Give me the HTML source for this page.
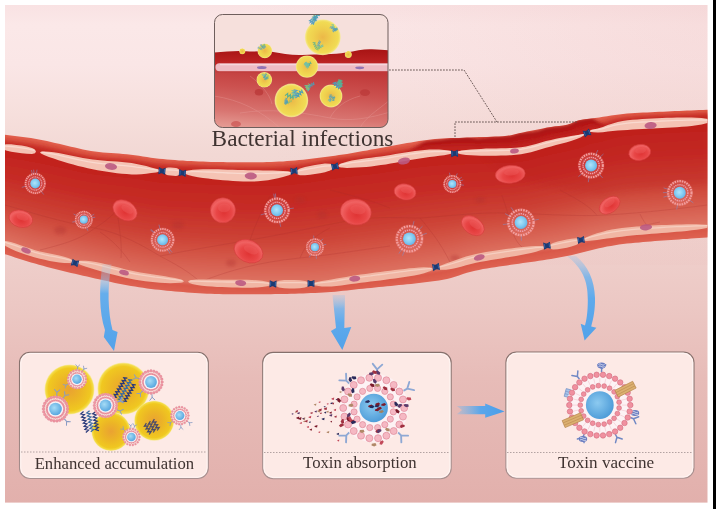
<!DOCTYPE html>
<html><head><meta charset="utf-8">
<style>
html,body{margin:0;padding:0;background:#fff;width:716px;height:509px;overflow:hidden}
svg{display:block}
text{font-family:"Liberation Serif",serif;fill:#3c302e}
.txt{opacity:0.98}
</style></head>
<body>
<svg width="716" height="509" viewBox="0 0 716 509">
<defs>
<linearGradient id="gBg" x1="0" y1="0" x2="0" y2="1">
<stop offset="0" stop-color="#f9e2e3"/>
<stop offset="0.04" stop-color="#fbe8e8"/>
<stop offset="0.12" stop-color="#fae6e6"/>
<stop offset="0.22" stop-color="#f6dfdc"/>
<stop offset="0.3" stop-color="#f2d8d4"/>
<stop offset="0.45" stop-color="#f0d2ce"/>
<stop offset="0.6" stop-color="#ecc8c4"/>
<stop offset="0.75" stop-color="#e7bcb8"/>
<stop offset="1" stop-color="#e2b0ac"/>
</linearGradient>
<linearGradient id="gTopBand" x1="0" y1="0" x2="0" y2="1">
<stop offset="0" stop-color="#d2473d"/>
<stop offset="1" stop-color="#c02c28"/>
</linearGradient>
<linearGradient id="gEndoT" x1="0" y1="0" x2="0" y2="1">
<stop offset="0" stop-color="#f4c6ba"/>
<stop offset="1" stop-color="#eeb0a4"/>
</linearGradient>
<linearGradient id="gLumen" x1="0" y1="0" x2="0" y2="1">
<stop offset="0" stop-color="#b92522"/>
<stop offset="0.3" stop-color="#c43630"/>
<stop offset="0.6" stop-color="#d05448"/>
<stop offset="1" stop-color="#de7a6a"/>
</linearGradient>
<linearGradient id="gInsetTissue" x1="0.2" y1="0" x2="0" y2="1">
<stop offset="0" stop-color="#c03838"/>
<stop offset="0.35" stop-color="#cc5250"/>
<stop offset="0.7" stop-color="#d87470"/>
<stop offset="1" stop-color="#e8a49c"/>
</linearGradient>
<linearGradient id="gInsetBand" x1="0" y1="0" x2="0" y2="1">
<stop offset="0" stop-color="#a81414"/>
<stop offset="0.7" stop-color="#b82020"/>
<stop offset="1" stop-color="#c02a2a"/>
</linearGradient>
<radialGradient id="gBact" cx="0.5" cy="0.5" r="0.5">
<stop offset="0" stop-color="#eaa232"/>
<stop offset="0.45" stop-color="#ecb526"/>
<stop offset="0.85" stop-color="#f0c820"/>
<stop offset="0.95" stop-color="#f4dc48"/>
<stop offset="1" stop-color="#f6e88a" stop-opacity="0.6"/>
</radialGradient>
<linearGradient id="gArrowV" x1="0" y1="0" x2="0" y2="1">
<stop offset="0" stop-color="#90c0ea" stop-opacity="0.25"/>
<stop offset="0.25" stop-color="#70b2ec" stop-opacity="0.85"/>
<stop offset="0.5" stop-color="#5eaaec"/>
<stop offset="1" stop-color="#52a2ea"/>
</linearGradient>
<linearGradient id="gArrowH" x1="0" y1="0" x2="1" y2="0">
<stop offset="0" stop-color="#7ab6e8" stop-opacity="0.3"/>
<stop offset="0.5" stop-color="#5aa6ea"/>
<stop offset="1" stop-color="#4a9eea"/>
</linearGradient>
<radialGradient id="gCore" cx="0.4" cy="0.4" r="0.6">
<stop offset="0" stop-color="#a6dcf6"/>
<stop offset="1" stop-color="#5aa8e0"/>
</radialGradient>
<radialGradient id="gRBC" cx="0.55" cy="0.6" r="0.55">
<stop offset="0" stop-color="#e03434"/>
<stop offset="0.55" stop-color="#e84646"/>
<stop offset="0.9" stop-color="#f06262"/>
<stop offset="1" stop-color="#ec5858"/>
</radialGradient>
<radialGradient id="gCoreV" cx="0.45" cy="0.45" r="0.55">
<stop offset="0" stop-color="#b0e4fa"/>
<stop offset="0.6" stop-color="#84ccf2"/>
<stop offset="1" stop-color="#6ab4e6"/>
</radialGradient>
<radialGradient id="gCore2" cx="0.42" cy="0.42" r="0.6">
<stop offset="0" stop-color="#8ccaf0"/>
<stop offset="1" stop-color="#4e9cd8"/>
</radialGradient>
<radialGradient id="gBactL" cx="0.5" cy="0.5" r="0.5">
<stop offset="0" stop-color="#ecb848"/>
<stop offset="0.5" stop-color="#efcf4e"/>
<stop offset="0.86" stop-color="#f1db54"/>
<stop offset="0.95" stop-color="#f4e47c"/>
<stop offset="1" stop-color="#f6eaa6" stop-opacity="0.7"/>
</radialGradient>
<linearGradient id="gArrowV1" x1="0" y1="0" x2="0" y2="1">
<stop offset="0" stop-color="#a8d0f0" stop-opacity="0.15"/>
<stop offset="0.2" stop-color="#88c0ee" stop-opacity="0.55"/>
<stop offset="0.34" stop-color="#66aeec"/>
<stop offset="1" stop-color="#52a2ea"/>
</linearGradient>
<linearGradient id="gBoxStroke" x1="0" y1="0" x2="0" y2="1">
<stop offset="0" stop-color="#85706c"/>
<stop offset="0.6" stop-color="#98827e"/>
<stop offset="1" stop-color="#a89090"/>
</linearGradient>
<radialGradient id="gBgTR" gradientUnits="userSpaceOnUse" cx="707" cy="5" r="460">
<stop offset="0" stop-color="#e8b4b4" stop-opacity="0.22"/>
<stop offset="0.6" stop-color="#e8b4b4" stop-opacity="0.08"/>
<stop offset="1" stop-color="#e8b4b4" stop-opacity="0"/>
</radialGradient>
<clipPath id="cInset"><rect x="214.5" y="14.5" width="173.5" height="113" rx="8"/></clipPath>
</defs>

<!-- background -->
<rect x="5" y="5" width="702.5" height="497.6" fill="url(#gBg)"/>
<rect x="5" y="5" width="702.5" height="260" fill="url(#gBgTR)"/>
<rect x="713" y="0" width="3" height="509" fill="#000"/>

<clipPath id="cPage"><rect x="5" y="5" width="702.5" height="497.6"/></clipPath>
<g clip-path="url(#cPage)">
<!-- vessel -->
<defs><clipPath id="cVessel"><path d="M-9,134.5 -5,134.5 -1,134.5 3,134.5 7,135 11,135.5 15,136 19,136.5 23,137 27,137.5 31,138.1 35,138.7 39,139.4 43,140.2 47,141 51,141.9 55,142.9 59,143.8 63,144.8 67,145.8 71,146.7 75,147.6 79,148.5 83,149.4 87,150.2 91,150.9 95,151.5 99,152 103,152.4 107,152.7 111,153.1 115,153.3 119,153.6 123,153.9 127,154.3 131,154.7 135,155.2 139,155.8 143,156.5 147,157.1 151,157.7 155,158.2 159,158.7 163,159.1 167,159.4 171,159.8 175,160.1 179,160.4 183,160.6 187,160.9 191,161.1 195,161.3 199,161.5 203,161.6 207,161.7 211,161.9 215,162 219,162 223,162.1 227,162.2 231,162.2 235,162.3 239,162.3 243,162.3 247,162.3 251,162.3 255,162.3 259,162.2 263,162.2 267,162.1 271,162 275,161.8 279,161.6 283,161.4 287,161.1 291,160.8 295,160.5 299,160.1 303,159.7 307,159.2 311,158.8 315,158.3 319,157.8 323,157.3 327,156.8 331,156.3 335,155.7 339,155.1 343,154.6 347,153.9 351,153.3 355,152.6 359,151.8 363,151.1 367,150.4 371,149.6 375,148.9 379,148.2 383,147.5 387,146.8 391,146 395,145.3 399,144.5 403,143.8 407,143.1 411,142.4 415,141.7 419,141 423,140.4 427,139.9 431,139.4 435,139 439,138.7 443,138.4 447,138.2 451,138.1 455,137.9 459,137.9 463,137.7 467,137.6 471,137.5 475,137.3 479,137.1 483,137 487,136.9 491,136.7 495,136.6 499,136.4 503,136.2 507,135.8 511,135.2 515,134.2 519,133.2 523,132.4 527,131.6 531,130.8 535,130 539,129.2 543,128.4 547,127.6 551,126.9 555,126.3 559,125.9 563,125.4 567,124.8 571,123.6 575,121.4 579,120.3 583,119.6 587,119 591,118.5 595,118 599,117.4 603,116.8 607,116.2 611,115.5 615,114.9 619,114.4 623,114 627,113.6 631,113.3 635,113.1 639,112.8 643,112.6 647,112.4 651,112.2 655,112 659,111.8 663,111.7 667,111.5 671,111.3 675,111.1 679,111 683,110.8 687,110.6 691,110.4 695,110.3 699,110.1 703,109.9 707,109.7 711,109.6 715,109.6 719,109.6 719,237.2 715,237.2 711,237.2 707,237.4 703,237.7 699,238 695,238.3 691,238.6 687,238.9 683,239.1 679,239.4 675,239.7 671,239.9 667,240.2 663,240.5 659,240.8 655,241.1 651,241.4 647,241.7 643,242 639,242.4 635,242.8 631,243.2 627,243.6 623,244.1 619,244.6 615,245.2 611,245.9 607,246.6 603,247.4 599,248.3 595,249.2 591,250.2 587,251.3 583,252.3 579,253.3 575,254.3 571,255.2 567,256 563,256.8 559,257.6 555,258.3 551,258.9 547,259.6 543,260.2 539,260.8 535,261.4 531,261.9 527,262.5 523,263.1 519,263.7 515,264.2 511,264.8 507,265.4 503,266 499,266.6 495,267.2 491,267.8 487,268.5 483,269.1 479,269.9 475,270.7 471,271.7 467,272.8 463,274.1 459,275.5 455,276.8 451,278 447,278.9 443,279.7 439,280.4 435,281 431,281.5 427,282 423,282.5 419,283 415,283.4 411,283.9 407,284.3 403,284.7 399,285.1 395,285.5 391,285.9 387,286.3 383,286.7 379,287.1 375,287.5 371,287.9 367,288.3 363,288.7 359,289.1 355,289.5 351,290 347,290.4 343,290.8 339,291.3 335,291.7 331,292 327,292.3 323,292.5 319,292.8 315,292.9 311,293.1 307,293.3 303,293.4 299,293.6 295,293.7 291,293.8 287,293.9 283,294 279,294.1 275,294.1 271,294.2 267,294.2 263,294.3 259,294.3 255,294.3 251,294.3 247,294.3 243,294.3 239,294.3 235,294.3 231,294.3 227,294.2 223,294.2 219,294.1 215,294 211,293.8 207,293.7 203,293.5 199,293.2 195,293 191,292.7 187,292.4 183,292.1 179,291.8 175,291.4 171,291.1 167,290.7 163,290.3 159,289.8 155,289.4 151,288.9 147,288.4 143,287.8 139,287.3 135,286.6 131,286 127,285.3 123,284.5 119,283.7 115,282.9 111,282 107,281.1 103,280.2 99,279.3 95,278.4 91,277.5 87,276.6 83,275.7 79,274.8 75,273.8 71,272.9 67,271.9 63,270.9 59,270 55,268.9 51,267.9 47,266.9 43,265.8 39,264.7 35,263.6 31,262.4 27,261.2 23,259.9 19,258.7 15,257.4 11,256 7,254.8 3,253.5 -1,253.5 -5,253.5 -9,253.5Z"/></clipPath>
<filter id="fSoft" x="-5%" y="-5%" width="110%" height="110%"><feGaussianBlur stdDeviation="1.6"/></filter>
<filter id="fSoft2" x="-5%" y="-5%" width="110%" height="110%"><feGaussianBlur stdDeviation="3"/></filter></defs>
<g clip-path="url(#cVessel)">
<g filter="url(#fSoft)">
<path d="M-9,131.5 -5,131.5 -1,131.5 3,131.5 7,132 11,132.5 15,133 19,133.5 23,134 27,134.5 31,135.1 35,135.7 39,136.4 43,137.2 47,138 51,138.9 55,139.9 59,140.8 63,141.8 67,142.8 71,143.7 75,144.6 79,145.5 83,146.4 87,147.2 91,147.9 95,148.5 99,149 103,149.4 107,149.7 111,150.1 115,150.3 119,150.6 123,150.9 127,151.3 131,151.7 135,152.2 139,152.8 143,153.5 147,154.1 151,154.7 155,155.2 159,155.7 163,156.1 167,156.4 171,156.8 175,157.1 179,157.4 183,157.6 187,157.9 191,158.1 195,158.3 199,158.5 203,158.6 207,158.7 211,158.9 215,159 219,159 223,159.1 227,159.2 231,159.2 235,159.3 239,159.3 243,159.3 247,159.3 251,159.3 255,159.3 259,159.2 263,159.2 267,159.1 271,159 275,158.8 279,158.6 283,158.4 287,158.1 291,157.8 295,157.5 299,157.1 303,156.7 307,156.2 311,155.8 315,155.3 319,154.8 323,154.3 327,153.8 331,153.3 335,152.7 339,152.1 343,151.6 347,150.9 351,150.3 355,149.6 359,148.8 363,148.1 367,147.4 371,146.6 375,145.9 379,145.2 383,144.5 387,143.8 391,143 395,142.3 399,141.5 403,140.8 407,140.1 411,139.4 415,138.7 419,138 423,137.4 427,136.9 431,136.4 435,136 439,135.7 443,135.4 447,135.2 451,135.1 455,134.9 459,134.9 463,134.7 467,134.6 471,134.5 475,134.3 479,134.1 483,134 487,133.9 491,133.7 495,133.6 499,133.4 503,133.2 507,132.8 511,132.2 515,131.2 519,130.2 523,129.4 527,128.6 531,127.8 535,127 539,126.2 543,125.4 547,124.6 551,123.9 555,123.3 559,122.9 563,122.4 567,121.8 571,120.6 575,118.4 579,117.3 583,116.6 587,116 591,115.5 595,115 599,114.4 603,113.8 607,113.2 611,112.5 615,111.9 619,111.4 623,111 627,110.6 631,110.3 635,110.1 639,109.8 643,109.6 647,109.4 651,109.2 655,109 659,108.8 663,108.7 667,108.5 671,108.3 675,108.1 679,108 683,107.8 687,107.6 691,107.4 695,107.3 699,107.1 703,106.9 707,106.7 711,106.6 715,106.6 719,106.6 719,119.5 715,119.5 711,119.5 707,119.6 703,119.8 699,120 695,120.2 691,120.3 687,120.5 683,120.6 679,120.8 675,121 671,121.1 667,121.3 663,121.5 659,121.6 655,121.8 651,122 647,122.3 643,122.5 639,122.8 635,123.1 631,123.4 627,123.8 623,124.4 619,125.1 615,126 611,127.1 607,128.4 603,129.7 599,130.7 595,131.3 591,131.7 587,133.4 583,135.5 579,136.8 575,137.8 571,138.7 567,139.7 563,140.5 559,141.4 555,142.3 551,143.3 547,144.3 543,145.4 539,146.5 535,147.7 531,148.7 527,149.7 523,150.4 519,150.9 515,151.3 511,151.5 507,151.7 503,151.8 499,151.8 495,151.9 491,151.9 487,151.9 483,151.9 479,152 475,152.1 471,152.1 467,152 463,152 459,152 455,152 451,152 447,152 443,152.1 439,152.2 435,152.4 431,152.6 427,153 423,153.4 419,153.9 415,154.4 411,155 407,155.7 403,156.3 399,157 395,157.7 391,158.3 387,159 383,159.6 379,160.1 375,160.6 371,161.1 367,161.5 363,161.9 359,162.3 355,162.7 351,163.2 347,163.6 343,164.1 339,164.6 335,165.2 331,165.9 327,166.5 323,167.2 319,167.9 315,168.6 311,169.3 307,169.9 303,170.6 299,171.2 295,171.7 291,172.2 287,172.6 283,172.9 279,173.2 275,173.4 271,173.6 267,173.7 263,173.7 259,173.7 255,173.7 251,173.7 247,173.7 243,173.6 239,173.5 235,173.4 231,173.3 227,173.1 223,173 219,172.8 215,172.6 211,172.4 207,172.3 203,172.1 199,172 195,171.8 191,171.7 187,171.6 183,171.5 179,171.4 175,171.2 171,171.1 167,170.9 163,170.6 159,170.3 155,169.9 151,169.3 147,168.7 143,168 139,167.3 135,166.6 131,166.1 127,165.7 123,165.4 119,165.1 115,164.9 111,164.7 107,164.4 103,164.1 99,163.7 95,163.3 91,162.8 87,162.1 83,161.4 79,160.6 75,159.7 71,158.8 67,157.9 63,157 59,156.1 55,155.2 51,154.3 47,153.4 43,152.6 39,151.8 35,151.1 31,150.5 27,149.8 23,149.3 19,148.7 15,148.2 11,147.6 7,147.1 3,146.5 -1,146.5 -5,146.5 -9,146.5Z" fill="#e2604e"/>
<path d="M-9,136.9 -5,136.9 -1,136.9 3,136.9 7,137.4 11,137.9 15,138.4 19,138.9 23,139.4 27,140 31,140.6 35,141.2 39,141.9 43,142.7 47,143.5 51,144.4 55,145.3 59,146.3 63,147.2 67,148.2 71,149.1 75,150.1 79,150.9 83,151.8 87,152.6 91,153.2 95,153.8 99,154.3 103,154.7 107,155.1 111,155.4 115,155.7 119,155.9 123,156.2 127,156.6 131,157 135,157.5 139,158.1 143,158.8 147,159.4 151,160 155,160.6 159,161 163,161.4 167,161.7 171,162 175,162.3 179,162.6 183,162.8 187,163 191,163.2 195,163.4 199,163.6 203,163.7 207,163.8 211,164 215,164.1 219,164.2 223,164.3 227,164.4 231,164.4 235,164.5 239,164.5 243,164.6 247,164.6 251,164.6 255,164.6 259,164.5 263,164.5 267,164.4 271,164.3 275,164.2 279,164 283,163.7 287,163.4 291,163.1 295,162.7 299,162.3 303,161.8 307,161.4 311,160.9 315,160.4 319,159.8 323,159.3 327,158.7 331,158.2 335,157.6 339,157 343,156.5 347,155.9 351,155.2 355,154.6 359,153.9 363,153.3 367,152.6 371,151.9 375,151.2 379,150.6 383,149.9 387,149.2 391,148.5 395,147.8 399,147 403,146.3 407,145.6 411,144.9 415,144.2 419,143.6 423,143 427,142.5 431,142 435,141.7 439,141.4 443,141.1 447,141 451,140.8 455,140.8 459,140.7 463,140.6 467,140.5 471,140.4 475,140.2 479,140.1 483,140 487,139.9 491,139.8 495,139.6 499,139.5 503,139.3 507,139 511,138.5 515,137.6 519,136.7 523,136 527,135.2 531,134.4 535,133.5 539,132.7 543,131.8 547,131 551,130.2 555,129.5 559,129 563,128.5 567,127.8 571,126.6 575,124.7 579,123.6 583,122.8 587,121.9 591,121.1 595,120.6 599,120.1 603,119.4 607,118.6 611,117.8 615,117.1 619,116.5 623,116 627,115.7 631,115.3 635,115.1 639,114.8 643,114.6 647,114.4 651,114.2 655,114 659,113.8 663,113.6 667,113.4 671,113.3 675,113.1 679,112.9 683,112.8 687,112.6 691,112.4 695,112.2 699,112.1 703,111.9 707,111.7 711,111.6 715,111.6 719,111.6 719,119.5 715,119.5 711,119.5 707,119.6 703,119.8 699,120 695,120.2 691,120.3 687,120.5 683,120.6 679,120.8 675,121 671,121.1 667,121.3 663,121.5 659,121.6 655,121.8 651,122 647,122.3 643,122.5 639,122.8 635,123.1 631,123.4 627,123.8 623,124.4 619,125.1 615,126 611,127.1 607,128.4 603,129.7 599,130.7 595,131.3 591,131.7 587,133.4 583,135.5 579,136.8 575,137.8 571,138.7 567,139.7 563,140.5 559,141.4 555,142.3 551,143.3 547,144.3 543,145.4 539,146.5 535,147.7 531,148.7 527,149.7 523,150.4 519,150.9 515,151.3 511,151.5 507,151.7 503,151.8 499,151.8 495,151.9 491,151.9 487,151.9 483,151.9 479,152 475,152.1 471,152.1 467,152 463,152 459,152 455,152 451,152 447,152 443,152.1 439,152.2 435,152.4 431,152.6 427,153 423,153.4 419,153.9 415,154.4 411,155 407,155.7 403,156.3 399,157 395,157.7 391,158.3 387,159 383,159.6 379,160.1 375,160.6 371,161.1 367,161.5 363,161.9 359,162.3 355,162.7 351,163.2 347,163.6 343,164.1 339,164.6 335,165.2 331,165.9 327,166.5 323,167.2 319,167.9 315,168.6 311,169.3 307,169.9 303,170.6 299,171.2 295,171.7 291,172.2 287,172.6 283,172.9 279,173.2 275,173.4 271,173.6 267,173.7 263,173.7 259,173.7 255,173.7 251,173.7 247,173.7 243,173.6 239,173.5 235,173.4 231,173.3 227,173.1 223,173 219,172.8 215,172.6 211,172.4 207,172.3 203,172.1 199,172 195,171.8 191,171.7 187,171.6 183,171.5 179,171.4 175,171.2 171,171.1 167,170.9 163,170.6 159,170.3 155,169.9 151,169.3 147,168.7 143,168 139,167.3 135,166.6 131,166.1 127,165.7 123,165.4 119,165.1 115,164.9 111,164.7 107,164.4 103,164.1 99,163.7 95,163.3 91,162.8 87,162.1 83,161.4 79,160.6 75,159.7 71,158.8 67,157.9 63,157 59,156.1 55,155.2 51,154.3 47,153.4 43,152.6 39,151.8 35,151.1 31,150.5 27,149.8 23,149.3 19,148.7 15,148.2 11,147.6 7,147.1 3,146.5 -1,146.5 -5,146.5 -9,146.5Z" fill="#dd5847"/>
<path d="M-9,139.3 -5,139.3 -1,139.3 3,139.3 7,139.8 11,140.4 15,140.9 19,141.4 23,141.9 27,142.4 31,143 35,143.7 39,144.4 43,145.1 47,146 51,146.9 55,147.8 59,148.7 63,149.7 67,150.6 71,151.6 75,152.5 79,153.3 83,154.2 87,154.9 91,155.6 95,156.2 99,156.7 103,157.1 107,157.4 111,157.7 115,158 119,158.2 123,158.5 127,158.9 131,159.3 135,159.8 139,160.4 143,161.1 147,161.7 151,162.3 155,162.9 159,163.3 163,163.7 167,164 171,164.3 175,164.6 179,164.8 183,165 187,165.2 191,165.3 195,165.5 199,165.7 203,165.8 207,166 211,166.1 215,166.2 219,166.3 223,166.5 227,166.6 231,166.6 235,166.7 239,166.8 243,166.8 247,166.9 251,166.9 255,166.8 259,166.8 263,166.8 267,166.7 271,166.6 275,166.5 279,166.3 283,166 287,165.7 291,165.4 295,165 299,164.5 303,164 307,163.5 311,163 315,162.4 319,161.8 323,161.3 327,160.7 331,160.1 335,159.5 339,158.9 343,158.4 347,157.8 351,157.2 355,156.6 359,156 363,155.4 367,154.8 371,154.2 375,153.6 379,153 383,152.3 387,151.6 391,151 395,150.2 399,149.5 403,148.8 407,148.1 411,147.4 415,146.8 419,146.2 423,145.6 427,145.1 431,144.7 435,144.3 439,144.1 443,143.9 447,143.7 451,143.6 455,143.6 459,143.5 463,143.5 467,143.4 471,143.3 475,143.2 479,143.1 483,143 487,142.9 491,142.8 495,142.7 499,142.6 503,142.4 507,142.2 511,141.7 515,141 519,140.3 523,139.6 527,138.8 531,138 535,137.1 539,136.1 543,135.2 547,134.3 551,133.5 555,132.7 559,132.1 563,131.5 567,130.8 571,129.6 575,128 579,126.9 583,125.9 587,124.8 591,123.8 595,123.3 599,122.7 603,122 607,121 611,120.1 615,119.3 619,118.7 623,118.1 627,117.7 631,117.4 635,117.1 639,116.8 643,116.6 647,116.3 651,116.1 655,115.9 659,115.8 663,115.6 667,115.4 671,115.2 675,115.1 679,114.9 683,114.7 687,114.6 691,114.4 695,114.2 699,114 703,113.9 707,113.7 711,113.6 715,113.6 719,113.6 719,119.5 715,119.5 711,119.5 707,119.6 703,119.8 699,120 695,120.2 691,120.3 687,120.5 683,120.6 679,120.8 675,121 671,121.1 667,121.3 663,121.5 659,121.6 655,121.8 651,122 647,122.3 643,122.5 639,122.8 635,123.1 631,123.4 627,123.8 623,124.4 619,125.1 615,126 611,127.1 607,128.4 603,129.7 599,130.7 595,131.3 591,131.7 587,133.4 583,135.5 579,136.8 575,137.8 571,138.7 567,139.7 563,140.5 559,141.4 555,142.3 551,143.3 547,144.3 543,145.4 539,146.5 535,147.7 531,148.7 527,149.7 523,150.4 519,150.9 515,151.3 511,151.5 507,151.7 503,151.8 499,151.8 495,151.9 491,151.9 487,151.9 483,151.9 479,152 475,152.1 471,152.1 467,152 463,152 459,152 455,152 451,152 447,152 443,152.1 439,152.2 435,152.4 431,152.6 427,153 423,153.4 419,153.9 415,154.4 411,155 407,155.7 403,156.3 399,157 395,157.7 391,158.3 387,159 383,159.6 379,160.1 375,160.6 371,161.1 367,161.5 363,161.9 359,162.3 355,162.7 351,163.2 347,163.6 343,164.1 339,164.6 335,165.2 331,165.9 327,166.5 323,167.2 319,167.9 315,168.6 311,169.3 307,169.9 303,170.6 299,171.2 295,171.7 291,172.2 287,172.6 283,172.9 279,173.2 275,173.4 271,173.6 267,173.7 263,173.7 259,173.7 255,173.7 251,173.7 247,173.7 243,173.6 239,173.5 235,173.4 231,173.3 227,173.1 223,173 219,172.8 215,172.6 211,172.4 207,172.3 203,172.1 199,172 195,171.8 191,171.7 187,171.6 183,171.5 179,171.4 175,171.2 171,171.1 167,170.9 163,170.6 159,170.3 155,169.9 151,169.3 147,168.7 143,168 139,167.3 135,166.6 131,166.1 127,165.7 123,165.4 119,165.1 115,164.9 111,164.7 107,164.4 103,164.1 99,163.7 95,163.3 91,162.8 87,162.1 83,161.4 79,160.6 75,159.7 71,158.8 67,157.9 63,157 59,156.1 55,155.2 51,154.3 47,153.4 43,152.6 39,151.8 35,151.1 31,150.5 27,149.8 23,149.3 19,148.7 15,148.2 11,147.6 7,147.1 3,146.5 -1,146.5 -5,146.5 -9,146.5Z" fill="#d9503f"/>
<path d="M-9,141.7 -5,141.7 -1,141.7 3,141.7 7,142.3 11,142.8 15,143.3 19,143.8 23,144.3 27,144.9 31,145.5 35,146.2 39,146.9 43,147.6 47,148.5 51,149.3 55,150.3 59,151.2 63,152.1 67,153.1 71,154 75,154.9 79,155.8 83,156.6 87,157.3 91,158 95,158.6 99,159 103,159.4 107,159.7 111,160 115,160.3 119,160.5 123,160.8 127,161.1 131,161.6 135,162.1 139,162.7 143,163.4 147,164 151,164.7 155,165.2 159,165.7 163,166 167,166.3 171,166.6 175,166.8 179,167 183,167.2 187,167.3 191,167.5 195,167.6 199,167.8 203,167.9 207,168.1 211,168.2 215,168.4 219,168.5 223,168.6 227,168.7 231,168.9 235,169 239,169 243,169.1 247,169.1 251,169.1 255,169.1 259,169.1 263,169.1 267,169 271,168.9 275,168.8 279,168.6 283,168.3 287,168 291,167.6 295,167.2 299,166.7 303,166.2 307,165.7 311,165.1 315,164.5 319,163.9 323,163.3 327,162.6 331,162 335,161.4 339,160.8 343,160.3 347,159.7 351,159.2 355,158.7 359,158.1 363,157.6 367,157 371,156.5 375,155.9 379,155.3 383,154.7 387,154.1 391,153.4 395,152.7 399,152 403,151.3 407,150.6 411,150 415,149.3 419,148.8 423,148.2 427,147.7 431,147.3 435,147 439,146.8 443,146.6 447,146.5 451,146.4 455,146.4 459,146.3 463,146.3 467,146.3 471,146.2 475,146.2 479,146.1 483,146 487,145.9 491,145.8 495,145.8 499,145.7 503,145.5 507,145.3 511,145 515,144.4 519,143.8 523,143.2 527,142.4 531,141.6 535,140.6 539,139.6 543,138.6 547,137.6 551,136.7 555,135.9 559,135.2 563,134.5 567,133.7 571,132.7 575,131.3 579,130.2 583,129.1 587,127.7 591,126.4 595,126 599,125.4 603,124.6 607,123.5 611,122.4 615,121.5 619,120.8 623,120.2 627,119.7 631,119.4 635,119.1 639,118.8 643,118.5 647,118.3 651,118.1 655,117.9 659,117.7 663,117.5 667,117.4 671,117.2 675,117 679,116.9 683,116.7 687,116.5 691,116.4 695,116.2 699,116 703,115.8 707,115.7 711,115.5 715,115.5 719,115.5 719,119.5 715,119.5 711,119.5 707,119.6 703,119.8 699,120 695,120.2 691,120.3 687,120.5 683,120.6 679,120.8 675,121 671,121.1 667,121.3 663,121.5 659,121.6 655,121.8 651,122 647,122.3 643,122.5 639,122.8 635,123.1 631,123.4 627,123.8 623,124.4 619,125.1 615,126 611,127.1 607,128.4 603,129.7 599,130.7 595,131.3 591,131.7 587,133.4 583,135.5 579,136.8 575,137.8 571,138.7 567,139.7 563,140.5 559,141.4 555,142.3 551,143.3 547,144.3 543,145.4 539,146.5 535,147.7 531,148.7 527,149.7 523,150.4 519,150.9 515,151.3 511,151.5 507,151.7 503,151.8 499,151.8 495,151.9 491,151.9 487,151.9 483,151.9 479,152 475,152.1 471,152.1 467,152 463,152 459,152 455,152 451,152 447,152 443,152.1 439,152.2 435,152.4 431,152.6 427,153 423,153.4 419,153.9 415,154.4 411,155 407,155.7 403,156.3 399,157 395,157.7 391,158.3 387,159 383,159.6 379,160.1 375,160.6 371,161.1 367,161.5 363,161.9 359,162.3 355,162.7 351,163.2 347,163.6 343,164.1 339,164.6 335,165.2 331,165.9 327,166.5 323,167.2 319,167.9 315,168.6 311,169.3 307,169.9 303,170.6 299,171.2 295,171.7 291,172.2 287,172.6 283,172.9 279,173.2 275,173.4 271,173.6 267,173.7 263,173.7 259,173.7 255,173.7 251,173.7 247,173.7 243,173.6 239,173.5 235,173.4 231,173.3 227,173.1 223,173 219,172.8 215,172.6 211,172.4 207,172.3 203,172.1 199,172 195,171.8 191,171.7 187,171.6 183,171.5 179,171.4 175,171.2 171,171.1 167,170.9 163,170.6 159,170.3 155,169.9 151,169.3 147,168.7 143,168 139,167.3 135,166.6 131,166.1 127,165.7 123,165.4 119,165.1 115,164.9 111,164.7 107,164.4 103,164.1 99,163.7 95,163.3 91,162.8 87,162.1 83,161.4 79,160.6 75,159.7 71,158.8 67,157.9 63,157 59,156.1 55,155.2 51,154.3 47,153.4 43,152.6 39,151.8 35,151.1 31,150.5 27,149.8 23,149.3 19,148.7 15,148.2 11,147.6 7,147.1 3,146.5 -1,146.5 -5,146.5 -9,146.5Z" fill="#d4493a"/>
<path d="M-9,144.1 -5,144.1 -1,144.1 3,144.1 7,144.7 11,145.2 15,145.7 19,146.3 23,146.8 27,147.4 31,148 35,148.6 39,149.3 43,150.1 47,150.9 51,151.8 55,152.7 59,153.6 63,154.6 67,155.5 71,156.4 75,157.3 79,158.2 83,159 87,159.7 91,160.4 95,160.9 99,161.4 103,161.8 107,162.1 111,162.4 115,162.6 119,162.8 123,163.1 127,163.4 131,163.8 135,164.4 139,165 143,165.7 147,166.3 151,167 155,167.5 159,168 163,168.3 167,168.6 171,168.8 175,169 179,169.2 183,169.3 187,169.5 191,169.6 195,169.7 199,169.9 203,170 207,170.2 211,170.3 215,170.5 219,170.6 223,170.8 227,170.9 231,171.1 235,171.2 239,171.3 243,171.4 247,171.4 251,171.4 255,171.4 259,171.4 263,171.4 267,171.3 271,171.3 275,171.1 279,170.9 283,170.6 287,170.3 291,169.9 295,169.5 299,169 303,168.4 307,167.8 311,167.2 315,166.5 319,165.9 323,165.2 327,164.6 331,163.9 335,163.3 339,162.7 343,162.2 347,161.7 351,161.2 355,160.7 359,160.2 363,159.8 367,159.3 371,158.8 375,158.3 379,157.7 383,157.2 387,156.5 391,155.9 395,155.2 399,154.5 403,153.8 407,153.2 411,152.5 415,151.9 419,151.3 423,150.8 427,150.3 431,150 435,149.7 439,149.5 443,149.3 447,149.2 451,149.2 455,149.2 459,149.2 463,149.2 467,149.2 471,149.1 475,149.1 479,149 483,149 487,148.9 491,148.9 495,148.8 499,148.7 503,148.7 507,148.5 511,148.3 515,147.9 519,147.4 523,146.8 527,146 531,145.2 535,144.1 539,143.1 543,142 547,140.9 551,140 555,139.1 559,138.3 563,137.5 567,136.7 571,135.7 575,134.5 579,133.5 583,132.3 587,130.5 591,129.1 595,128.6 599,128.1 603,127.1 607,125.9 611,124.7 615,123.7 619,122.9 623,122.3 627,121.8 631,121.4 635,121.1 639,120.8 643,120.5 647,120.3 651,120.1 655,119.9 659,119.7 663,119.5 667,119.3 671,119.2 675,119 679,118.8 683,118.7 687,118.5 691,118.3 695,118.2 699,118 703,117.8 707,117.6 711,117.5 715,117.5 719,117.5 719,119.5 715,119.5 711,119.5 707,119.6 703,119.8 699,120 695,120.2 691,120.3 687,120.5 683,120.6 679,120.8 675,121 671,121.1 667,121.3 663,121.5 659,121.6 655,121.8 651,122 647,122.3 643,122.5 639,122.8 635,123.1 631,123.4 627,123.8 623,124.4 619,125.1 615,126 611,127.1 607,128.4 603,129.7 599,130.7 595,131.3 591,131.7 587,133.4 583,135.5 579,136.8 575,137.8 571,138.7 567,139.7 563,140.5 559,141.4 555,142.3 551,143.3 547,144.3 543,145.4 539,146.5 535,147.7 531,148.7 527,149.7 523,150.4 519,150.9 515,151.3 511,151.5 507,151.7 503,151.8 499,151.8 495,151.9 491,151.9 487,151.9 483,151.9 479,152 475,152.1 471,152.1 467,152 463,152 459,152 455,152 451,152 447,152 443,152.1 439,152.2 435,152.4 431,152.6 427,153 423,153.4 419,153.9 415,154.4 411,155 407,155.7 403,156.3 399,157 395,157.7 391,158.3 387,159 383,159.6 379,160.1 375,160.6 371,161.1 367,161.5 363,161.9 359,162.3 355,162.7 351,163.2 347,163.6 343,164.1 339,164.6 335,165.2 331,165.9 327,166.5 323,167.2 319,167.9 315,168.6 311,169.3 307,169.9 303,170.6 299,171.2 295,171.7 291,172.2 287,172.6 283,172.9 279,173.2 275,173.4 271,173.6 267,173.7 263,173.7 259,173.7 255,173.7 251,173.7 247,173.7 243,173.6 239,173.5 235,173.4 231,173.3 227,173.1 223,173 219,172.8 215,172.6 211,172.4 207,172.3 203,172.1 199,172 195,171.8 191,171.7 187,171.6 183,171.5 179,171.4 175,171.2 171,171.1 167,170.9 163,170.6 159,170.3 155,169.9 151,169.3 147,168.7 143,168 139,167.3 135,166.6 131,166.1 127,165.7 123,165.4 119,165.1 115,164.9 111,164.7 107,164.4 103,164.1 99,163.7 95,163.3 91,162.8 87,162.1 83,161.4 79,160.6 75,159.7 71,158.8 67,157.9 63,157 59,156.1 55,155.2 51,154.3 47,153.4 43,152.6 39,151.8 35,151.1 31,150.5 27,149.8 23,149.3 19,148.7 15,148.2 11,147.6 7,147.1 3,146.5 -1,146.5 -5,146.5 -9,146.5Z" fill="#cf4235"/>
</g>
<g filter="url(#fSoft)">
<path d="M400,156.8 402,155.6 404,154.3 406,153 408,151.8 410,150.5 412,149.3 414,148 416,146.7 418,145.5 420,144.3 422,143.1 424,141.9 426,141.2 428,140.9 430,140.7 432,140.5 434,140.3 436,140.2 438,140 440,139.8 442,139.5 444,139.2 446,138.9 448,138.6 450,138.3 452,138 454,137.8 456,137.6 458,137.4 460,137.3 462,137.2 464,137.1 466,137 468,137 470,137 472,137.2 474,137.7 476,138.2 478,138.4 480,138.3 482,138.1 484,137.8 486,137.5 488,137.2 490,137 492,136.8 494,136.7 496,136.5 498,136.4 500,136.3 502,136.2 504,136.2 506,136.1 508,136 510,135.7 512,135.3 514,134.7 516,134 518,133.4 520,132.9 522,132.6 524,132.4 526,132.2 528,132.1 530,131.9 532,131.7 534,131.4 536,131.1 538,130.7 540,130.1 542,129.3 544,128.6 546,128.1 548,127.6 550,127.3 552,127 554,126.8 556,126.6 558,126.4 560,126.2 562,125.9 564,125.6 566,125.2 568,124.7 570,124.1 572,123.2 574,122.1 576,120.7 578,120 580,119.7 582,119.4 584,119.1 586,118.8 588,118.6 590,118.3 592,118.1 594,119.3 596,120.6 598,121.8 600,123 602,124.1 604,125.1 606,126 608,126.7 610,127.4 610,127.4 608,128 606,128.7 604,129.4 602,130 600,130.5 598,130.9 596,131.2 594,131.4 592,131.5 590,132 588,132.8 586,134.1 584,135.1 582,135.9 580,136.5 578,137 576,137.6 574,138 572,138.5 570,139 568,139.4 566,139.9 564,140.3 562,140.8 560,141.2 558,141.7 556,142.1 554,142.6 552,143 550,143.5 548,144 546,144.5 544,145.1 542,145.7 540,146.2 538,146.8 536,147.4 534,148 532,148.5 530,149 528,149.4 526,149.9 524,150.2 522,150.5 520,150.8 518,151 516,151.2 514,151.4 512,151.5 510,151.6 508,151.7 506,151.7 504,151.8 502,151.8 500,151.8 498,151.8 496,151.9 494,151.9 492,151.9 490,151.9 488,151.9 486,151.9 484,151.9 482,152 480,152 478,152 476,152.1 474,152.1 472,152.1 470,152.1 468,152.1 466,152 464,152 462,152 460,152 458,152 456,152 454,152 452,152 450,152 448,152 446,152 444,152 442,152.1 440,152.2 438,152.2 436,152.3 434,152.4 432,152.6 430,152.7 428,152.9 426,153.1 424,153.3 422,153.5 420,153.8 418,154 416,154.3 414,154.6 412,154.9 410,155.2 408,155.5 406,155.8 404,156.2 402,156.5 400,156.8Z" fill="#ab1616"/>
<path d="M400,156.8 402,155.7 404,154.7 406,153.6 408,152.5 410,151.5 412,150.4 414,149.3 416,148.3 418,147.2 420,146.2 422,145.2 424,144.2 426,143.5 428,143.3 430,143.1 432,142.9 434,142.8 436,142.6 438,142.5 440,142.3 442,142 444,141.8 446,141.5 448,141.3 450,141 452,140.8 454,140.6 456,140.5 458,140.4 460,140.2 462,140.1 464,140.1 466,140 468,140 470,140 472,140.2 474,140.6 476,141 478,141.1 480,141 482,140.9 484,140.6 486,140.4 488,140.2 490,140 492,139.8 494,139.7 496,139.6 498,139.5 500,139.4 502,139.3 504,139.3 506,139.2 508,139.1 510,138.9 512,138.5 514,138 516,137.4 518,136.9 520,136.5 522,136.2 524,136 526,135.8 528,135.6 530,135.3 532,135 534,134.7 536,134.4 538,133.9 540,133.3 542,132.6 544,131.9 546,131.3 548,130.9 550,130.5 552,130.2 554,129.9 556,129.7 558,129.5 560,129.2 562,128.9 564,128.5 566,128.1 568,127.6 570,127 572,126.3 574,125.3 576,124.1 578,123.4 580,123 582,122.7 584,122.3 586,121.9 588,121.4 590,121.1 592,120.8 594,121.7 596,122.7 598,123.6 600,124.5 602,125.3 604,126 606,126.5 608,127 610,127.4 610,127.4 608,128 606,128.7 604,129.4 602,130 600,130.5 598,130.9 596,131.2 594,131.4 592,131.5 590,132 588,132.8 586,134.1 584,135.1 582,135.9 580,136.5 578,137 576,137.6 574,138 572,138.5 570,139 568,139.4 566,139.9 564,140.3 562,140.8 560,141.2 558,141.7 556,142.1 554,142.6 552,143 550,143.5 548,144 546,144.5 544,145.1 542,145.7 540,146.2 538,146.8 536,147.4 534,148 532,148.5 530,149 528,149.4 526,149.9 524,150.2 522,150.5 520,150.8 518,151 516,151.2 514,151.4 512,151.5 510,151.6 508,151.7 506,151.7 504,151.8 502,151.8 500,151.8 498,151.8 496,151.9 494,151.9 492,151.9 490,151.9 488,151.9 486,151.9 484,151.9 482,152 480,152 478,152 476,152.1 474,152.1 472,152.1 470,152.1 468,152.1 466,152 464,152 462,152 460,152 458,152 456,152 454,152 452,152 450,152 448,152 446,152 444,152 442,152.1 440,152.2 438,152.2 436,152.3 434,152.4 432,152.6 430,152.7 428,152.9 426,153.1 424,153.3 422,153.5 420,153.8 418,154 416,154.3 414,154.6 412,154.9 410,155.2 408,155.5 406,155.8 404,156.2 402,156.5 400,156.8Z" fill="#b21919"/>
<path d="M400,156.8 402,155.9 404,155 406,154.2 408,153.3 410,152.4 412,151.5 414,150.6 416,149.8 418,148.9 420,148.1 422,147.3 424,146.4 426,145.9 428,145.7 430,145.5 432,145.3 434,145.2 436,145 438,144.9 440,144.7 442,144.6 444,144.4 446,144.2 448,144 450,143.8 452,143.6 454,143.5 456,143.4 458,143.3 460,143.2 462,143.1 464,143.1 466,143 468,143 470,143 472,143.1 474,143.4 476,143.8 478,143.9 480,143.8 482,143.6 484,143.5 486,143.3 488,143.1 490,143 492,142.8 494,142.8 496,142.7 498,142.6 500,142.5 502,142.4 504,142.4 506,142.3 508,142.2 510,142.1 512,141.7 514,141.3 516,140.9 518,140.4 520,140.1 522,139.8 524,139.5 526,139.3 528,139 530,138.7 532,138.4 534,138 536,137.6 538,137.2 540,136.6 542,135.9 544,135.2 546,134.6 548,134.2 550,133.8 552,133.4 554,133.1 556,132.8 558,132.5 560,132.2 562,131.8 564,131.5 566,131.1 568,130.6 570,130 572,129.3 574,128.5 576,127.5 578,126.8 580,126.4 582,126 584,125.5 586,124.9 588,124.3 590,123.8 592,123.5 594,124.2 596,124.8 598,125.4 600,126 602,126.5 604,126.8 606,127.1 608,127.2 610,127.4 610,127.4 608,128 606,128.7 604,129.4 602,130 600,130.5 598,130.9 596,131.2 594,131.4 592,131.5 590,132 588,132.8 586,134.1 584,135.1 582,135.9 580,136.5 578,137 576,137.6 574,138 572,138.5 570,139 568,139.4 566,139.9 564,140.3 562,140.8 560,141.2 558,141.7 556,142.1 554,142.6 552,143 550,143.5 548,144 546,144.5 544,145.1 542,145.7 540,146.2 538,146.8 536,147.4 534,148 532,148.5 530,149 528,149.4 526,149.9 524,150.2 522,150.5 520,150.8 518,151 516,151.2 514,151.4 512,151.5 510,151.6 508,151.7 506,151.7 504,151.8 502,151.8 500,151.8 498,151.8 496,151.9 494,151.9 492,151.9 490,151.9 488,151.9 486,151.9 484,151.9 482,152 480,152 478,152 476,152.1 474,152.1 472,152.1 470,152.1 468,152.1 466,152 464,152 462,152 460,152 458,152 456,152 454,152 452,152 450,152 448,152 446,152 444,152 442,152.1 440,152.2 438,152.2 436,152.3 434,152.4 432,152.6 430,152.7 428,152.9 426,153.1 424,153.3 422,153.5 420,153.8 418,154 416,154.3 414,154.6 412,154.9 410,155.2 408,155.5 406,155.8 404,156.2 402,156.5 400,156.8Z" fill="#b81c1c"/>
<path d="M400,156.8 402,156.1 404,155.4 406,154.7 408,154 410,153.3 412,152.6 414,152 416,151.3 418,150.6 420,150 422,149.3 424,148.7 426,148.3 428,148.1 430,147.9 432,147.7 434,147.6 436,147.5 438,147.3 440,147.2 442,147.1 444,146.9 446,146.8 448,146.6 450,146.5 452,146.4 454,146.3 456,146.2 458,146.2 460,146.1 462,146.1 464,146 466,146 468,146 470,146 472,146.1 474,146.3 476,146.5 478,146.6 480,146.5 482,146.4 484,146.3 486,146.2 488,146 490,145.9 492,145.9 494,145.8 496,145.7 498,145.7 500,145.6 502,145.6 504,145.5 506,145.5 508,145.4 510,145.2 512,145 514,144.7 516,144.3 518,144 520,143.6 522,143.4 524,143.1 526,142.8 528,142.5 530,142.2 532,141.8 534,141.3 536,140.9 538,140.4 540,139.8 542,139.1 544,138.5 546,137.9 548,137.4 550,137 552,136.6 554,136.3 556,135.9 558,135.6 560,135.2 562,134.8 564,134.4 566,134 568,133.5 570,133 572,132.4 574,131.7 576,130.8 578,130.2 580,129.8 582,129.3 584,128.7 586,128 588,127.1 590,126.5 592,126.2 594,126.6 596,127 598,127.3 600,127.5 602,127.6 604,127.7 606,127.6 608,127.5 610,127.4 610,127.4 608,128 606,128.7 604,129.4 602,130 600,130.5 598,130.9 596,131.2 594,131.4 592,131.5 590,132 588,132.8 586,134.1 584,135.1 582,135.9 580,136.5 578,137 576,137.6 574,138 572,138.5 570,139 568,139.4 566,139.9 564,140.3 562,140.8 560,141.2 558,141.7 556,142.1 554,142.6 552,143 550,143.5 548,144 546,144.5 544,145.1 542,145.7 540,146.2 538,146.8 536,147.4 534,148 532,148.5 530,149 528,149.4 526,149.9 524,150.2 522,150.5 520,150.8 518,151 516,151.2 514,151.4 512,151.5 510,151.6 508,151.7 506,151.7 504,151.8 502,151.8 500,151.8 498,151.8 496,151.9 494,151.9 492,151.9 490,151.9 488,151.9 486,151.9 484,151.9 482,152 480,152 478,152 476,152.1 474,152.1 472,152.1 470,152.1 468,152.1 466,152 464,152 462,152 460,152 458,152 456,152 454,152 452,152 450,152 448,152 446,152 444,152 442,152.1 440,152.2 438,152.2 436,152.3 434,152.4 432,152.6 430,152.7 428,152.9 426,153.1 424,153.3 422,153.5 420,153.8 418,154 416,154.3 414,154.6 412,154.9 410,155.2 408,155.5 406,155.8 404,156.2 402,156.5 400,156.8Z" fill="#bd2220"/>
<path d="M400,156.8 402,156.3 404,155.8 406,155.3 408,154.8 410,154.3 412,153.8 414,153.3 416,152.8 418,152.3 420,151.9 422,151.4 424,151 426,150.7 428,150.5 430,150.3 432,150.1 434,150 436,149.9 438,149.8 440,149.7 442,149.6 444,149.5 446,149.4 448,149.3 450,149.2 452,149.2 454,149.1 456,149.1 458,149.1 460,149.1 462,149 464,149 466,149 468,149 470,149.1 472,149.1 474,149.2 476,149.3 478,149.3 480,149.3 482,149.2 484,149.1 486,149 488,149 490,148.9 492,148.9 494,148.8 496,148.8 498,148.8 500,148.7 502,148.7 504,148.6 506,148.6 508,148.5 510,148.4 512,148.2 514,148 516,147.8 518,147.5 520,147.2 522,146.9 524,146.7 526,146.3 528,146 530,145.6 532,145.1 534,144.7 536,144.1 538,143.6 540,143 542,142.4 544,141.8 546,141.2 548,140.7 550,140.3 552,139.8 554,139.4 556,139 558,138.6 560,138.2 562,137.8 564,137.4 566,136.9 568,136.5 570,136 572,135.5 574,134.9 576,134.2 578,133.6 580,133.1 582,132.6 584,131.9 586,131 588,130 590,129.3 592,128.9 594,129 596,129.1 598,129.1 600,129 602,128.8 604,128.5 606,128.2 608,127.7 610,127.4 610,127.4 608,128 606,128.7 604,129.4 602,130 600,130.5 598,130.9 596,131.2 594,131.4 592,131.5 590,132 588,132.8 586,134.1 584,135.1 582,135.9 580,136.5 578,137 576,137.6 574,138 572,138.5 570,139 568,139.4 566,139.9 564,140.3 562,140.8 560,141.2 558,141.7 556,142.1 554,142.6 552,143 550,143.5 548,144 546,144.5 544,145.1 542,145.7 540,146.2 538,146.8 536,147.4 534,148 532,148.5 530,149 528,149.4 526,149.9 524,150.2 522,150.5 520,150.8 518,151 516,151.2 514,151.4 512,151.5 510,151.6 508,151.7 506,151.7 504,151.8 502,151.8 500,151.8 498,151.8 496,151.9 494,151.9 492,151.9 490,151.9 488,151.9 486,151.9 484,151.9 482,152 480,152 478,152 476,152.1 474,152.1 472,152.1 470,152.1 468,152.1 466,152 464,152 462,152 460,152 458,152 456,152 454,152 452,152 450,152 448,152 446,152 444,152 442,152.1 440,152.2 438,152.2 436,152.3 434,152.4 432,152.6 430,152.7 428,152.9 426,153.1 424,153.3 422,153.5 420,153.8 418,154 416,154.3 414,154.6 412,154.9 410,155.2 408,155.5 406,155.8 404,156.2 402,156.5 400,156.8Z" fill="#c22724"/>
</g>
<g filter="url(#fSoft2)">
<path d="M-9,141.5 -5,141.5 -1,141.5 3,141.5 7,142.1 11,142.6 15,143.2 19,143.7 23,144.3 27,144.8 31,145.5 35,146.1 39,146.8 43,147.6 47,148.4 51,149.3 55,150.2 59,151.1 63,152 67,152.9 71,153.8 75,154.7 79,155.6 83,156.4 87,157.1 91,157.8 95,158.3 99,158.7 103,159.1 107,159.4 111,159.7 115,159.9 119,160.1 123,160.4 127,160.7 131,161.1 135,161.6 139,162.3 143,163 147,163.7 151,164.3 155,164.9 159,165.3 163,165.6 167,165.9 171,166.1 175,166.2 179,166.4 183,166.5 187,166.6 191,166.7 195,166.8 199,167 203,167.1 207,167.3 211,167.4 215,167.6 219,167.8 223,168 227,168.1 231,168.3 235,168.4 239,168.5 243,168.6 247,168.7 251,168.7 255,168.7 259,168.7 263,168.7 267,168.7 271,168.6 275,168.4 279,168.2 283,167.9 287,167.6 291,167.2 295,166.7 299,166.2 303,165.6 307,164.9 311,164.3 315,163.6 319,162.9 323,162.2 327,161.5 331,160.9 335,160.2 339,159.6 343,159.1 347,158.6 351,158.2 355,157.7 359,157.3 363,156.9 367,156.5 371,156.1 375,155.6 379,155.1 383,154.6 387,154 391,153.3 395,152.7 399,152 403,151.3 407,150.7 411,150 415,149.4 419,148.9 423,148.4 427,148 431,147.6 435,147.4 439,147.2 443,147.1 447,147 451,147 455,147 459,147 463,147 467,147 471,147.1 475,147.1 479,147 483,146.9 487,146.9 491,146.9 495,146.9 499,146.8 503,146.8 507,146.7 511,146.5 515,146.3 519,145.9 523,145.4 527,144.7 531,143.7 535,142.7 539,141.5 543,140.4 547,139.3 551,138.3 555,137.3 559,136.4 563,135.5 567,134.7 571,133.7 575,132.8 579,131.8 583,130.5 587,128.4 591,126.7 595,126.3 599,125.7 603,124.7 607,123.4 611,122.1 615,121 619,120.1 623,119.4 627,118.8 631,118.4 635,118.1 639,117.8 643,117.5 647,117.3 651,117 655,116.8 659,116.6 663,116.5 667,116.3 671,116.1 675,116 679,115.8 683,115.6 687,115.5 691,115.3 695,115.2 699,115 703,114.8 707,114.6 711,114.5 715,114.5 719,114.5 719,231 715,231 711,231 707,231.2 703,231.5 699,231.8 695,232.1 691,232.4 687,232.7 683,233 679,233.3 675,233.6 671,233.9 667,234.2 663,234.5 659,234.8 655,235.1 651,235.4 647,235.7 643,236.1 639,236.4 635,236.8 631,237.2 627,237.7 623,238.1 619,238.6 615,239.2 611,239.8 607,240.5 603,241.2 599,242 595,242.9 591,243.8 587,244.7 583,245.7 579,246.6 575,247.5 571,248.4 567,249.2 563,249.9 559,250.7 555,251.4 551,252 547,252.7 543,253.3 539,254 535,254.6 531,255.2 527,255.8 523,256.5 519,257.1 515,257.7 511,258.3 507,258.9 503,259.6 499,260.2 495,260.9 491,261.5 487,262.2 483,262.9 479,263.7 475,264.5 471,265.5 467,266.6 463,267.8 459,269.1 455,270.4 451,271.5 447,272.4 443,273.3 439,274 435,274.6 431,275.2 427,275.8 423,276.4 419,277 415,277.5 411,278 407,278.5 403,279.1 399,279.6 395,280.1 391,280.6 387,281 383,281.5 379,282 375,282.5 371,283 367,283.5 363,284 359,284.5 355,285.1 351,285.7 347,286.3 343,286.9 339,287.5 335,288.1 331,288.6 327,288.9 323,289.2 319,289.4 315,289.6 311,289.7 307,289.8 303,289.9 299,289.9 295,289.9 291,289.9 287,289.9 283,289.9 279,289.9 275,289.8 271,289.8 267,289.7 263,289.6 259,289.6 255,289.5 251,289.4 247,289.4 243,289.3 239,289.2 235,289.1 231,288.9 227,288.8 223,288.7 219,288.5 215,288.3 211,288.1 207,287.9 203,287.7 199,287.4 195,287.2 191,286.9 187,286.7 183,286.4 179,286.1 175,285.8 171,285.5 167,285.1 163,284.8 159,284.4 155,284 151,283.5 147,283 143,282.4 139,281.8 135,281.2 131,280.4 127,279.6 123,278.7 119,277.7 115,276.7 111,275.7 107,274.6 103,273.6 99,272.6 95,271.6 91,270.7 87,269.9 83,269 79,268.2 75,267.4 71,266.7 67,265.9 63,265.1 59,264.4 55,263.5 51,262.7 47,261.9 43,260.9 39,259.9 35,258.9 31,257.7 27,256.5 23,255.2 19,253.9 15,252.5 11,251.1 7,249.8 3,248.5 -1,248.5 -5,248.5 -9,248.5Z" fill="#c1211d"/>
<path d="M-9,149.1 -5,149.1 -1,149.1 3,149.1 7,149.8 11,150.4 15,151 19,151.6 23,152.2 27,152.8 31,153.5 35,154.2 39,154.9 43,155.7 47,156.5 51,157.4 55,158.3 59,159.2 63,160.1 67,161 71,161.9 75,162.8 79,163.6 83,164.4 87,165.2 91,165.8 95,166.4 99,166.9 103,167.3 107,167.6 111,168 115,168.2 119,168.5 123,168.8 127,169.2 131,169.6 135,170.2 139,170.8 143,171.5 147,172.2 151,172.8 155,173.4 159,173.8 163,174.1 167,174.4 171,174.6 175,174.8 179,174.9 183,175.1 187,175.2 191,175.3 195,175.4 199,175.6 203,175.7 207,175.9 211,176.1 215,176.2 219,176.4 223,176.6 227,176.7 231,176.9 235,177 239,177.1 243,177.2 247,177.3 251,177.3 255,177.3 259,177.4 263,177.3 267,177.3 271,177.2 275,177.1 279,176.9 283,176.6 287,176.3 291,176 295,175.5 299,175 303,174.5 307,173.9 311,173.2 315,172.6 319,171.9 323,171.3 327,170.6 331,170 335,169.4 339,168.8 343,168.2 347,167.7 351,167.3 355,166.8 359,166.4 363,166 367,165.6 371,165.2 375,164.7 379,164.2 383,163.7 387,163.1 391,162.4 395,161.8 399,161.1 403,160.5 407,159.8 411,159.2 415,158.6 419,158 423,157.5 427,157.1 431,156.7 435,156.5 439,156.2 443,156.1 447,156 451,155.9 455,155.8 459,155.7 463,155.6 467,155.6 471,155.5 475,155.5 479,155.4 483,155.2 487,155.1 491,155.1 495,155 499,154.9 503,154.8 507,154.7 511,154.5 515,154.2 519,153.9 523,153.3 527,152.6 531,151.7 535,150.7 539,149.6 543,148.4 547,147.4 551,146.4 555,145.5 559,144.6 563,143.7 567,142.8 571,141.9 575,141 579,140 583,138.7 587,136.7 591,135.1 595,134.6 599,134 603,133 607,131.7 611,130.5 615,129.4 619,128.5 623,127.9 627,127.3 631,126.9 635,126.5 639,126.2 643,126 647,125.7 651,125.5 655,125.3 659,125.1 663,124.9 667,124.7 671,124.5 675,124.4 679,124.2 683,124 687,123.9 691,123.7 695,123.5 699,123.3 703,123.1 707,123 711,122.8 715,122.8 719,122.8 719,231 715,231 711,231 707,231.2 703,231.5 699,231.8 695,232.1 691,232.4 687,232.7 683,233 679,233.3 675,233.6 671,233.9 667,234.2 663,234.5 659,234.8 655,235.1 651,235.4 647,235.7 643,236.1 639,236.4 635,236.8 631,237.2 627,237.7 623,238.1 619,238.6 615,239.2 611,239.8 607,240.5 603,241.2 599,242 595,242.9 591,243.8 587,244.7 583,245.7 579,246.6 575,247.5 571,248.4 567,249.2 563,249.9 559,250.7 555,251.4 551,252 547,252.7 543,253.3 539,254 535,254.6 531,255.2 527,255.8 523,256.5 519,257.1 515,257.7 511,258.3 507,258.9 503,259.6 499,260.2 495,260.9 491,261.5 487,262.2 483,262.9 479,263.7 475,264.5 471,265.5 467,266.6 463,267.8 459,269.1 455,270.4 451,271.5 447,272.4 443,273.3 439,274 435,274.6 431,275.2 427,275.8 423,276.4 419,277 415,277.5 411,278 407,278.5 403,279.1 399,279.6 395,280.1 391,280.6 387,281 383,281.5 379,282 375,282.5 371,283 367,283.5 363,284 359,284.5 355,285.1 351,285.7 347,286.3 343,286.9 339,287.5 335,288.1 331,288.6 327,288.9 323,289.2 319,289.4 315,289.6 311,289.7 307,289.8 303,289.9 299,289.9 295,289.9 291,289.9 287,289.9 283,289.9 279,289.9 275,289.8 271,289.8 267,289.7 263,289.6 259,289.6 255,289.5 251,289.4 247,289.4 243,289.3 239,289.2 235,289.1 231,288.9 227,288.8 223,288.7 219,288.5 215,288.3 211,288.1 207,287.9 203,287.7 199,287.4 195,287.2 191,286.9 187,286.7 183,286.4 179,286.1 175,285.8 171,285.5 167,285.1 163,284.8 159,284.4 155,284 151,283.5 147,283 143,282.4 139,281.8 135,281.2 131,280.4 127,279.6 123,278.7 119,277.7 115,276.7 111,275.7 107,274.6 103,273.6 99,272.6 95,271.6 91,270.7 87,269.9 83,269 79,268.2 75,267.4 71,266.7 67,265.9 63,265.1 59,264.4 55,263.5 51,262.7 47,261.9 43,260.9 39,259.9 35,258.9 31,257.7 27,256.5 23,255.2 19,253.9 15,252.5 11,251.1 7,249.8 3,248.5 -1,248.5 -5,248.5 -9,248.5Z" fill="#c2241f"/>
<path d="M-9,156.8 -5,156.8 -1,156.8 3,156.8 7,157.5 11,158.1 15,158.8 19,159.4 23,160.1 27,160.8 31,161.5 35,162.2 39,163 43,163.8 47,164.6 51,165.5 55,166.4 59,167.3 63,168.2 67,169.1 71,170 75,170.8 79,171.7 83,172.5 87,173.2 91,173.9 95,174.5 99,175 103,175.5 107,175.9 111,176.2 115,176.6 119,176.9 123,177.3 127,177.7 131,178.2 135,178.7 139,179.3 143,180 147,180.7 151,181.3 155,181.9 159,182.3 163,182.7 167,182.9 171,183.1 175,183.3 179,183.5 183,183.6 187,183.8 191,183.9 195,184 199,184.2 203,184.3 207,184.5 211,184.7 215,184.9 219,185 223,185.2 227,185.4 231,185.5 235,185.6 239,185.8 243,185.8 247,185.9 251,186 255,186 259,186 263,186 267,186 271,185.9 275,185.8 279,185.6 283,185.4 287,185.1 291,184.7 295,184.3 299,183.9 303,183.3 307,182.8 311,182.2 315,181.6 319,181 323,180.4 327,179.7 331,179.1 335,178.5 339,177.9 343,177.4 347,176.8 351,176.4 355,175.9 359,175.5 363,175.1 367,174.7 371,174.2 375,173.8 379,173.3 383,172.7 387,172.1 391,171.5 395,170.9 399,170.2 403,169.6 407,168.9 411,168.3 415,167.7 419,167.2 423,166.7 427,166.2 431,165.9 435,165.5 439,165.3 443,165.1 447,164.9 451,164.8 455,164.6 459,164.4 463,164.3 467,164.1 471,164 475,163.8 479,163.7 483,163.5 487,163.4 491,163.3 495,163.1 499,163 503,162.9 507,162.7 511,162.5 515,162.2 519,161.8 523,161.2 527,160.5 531,159.7 535,158.7 539,157.6 543,156.5 547,155.5 551,154.5 555,153.6 559,152.8 563,151.9 567,151 571,150.1 575,149.2 579,148.2 583,147 587,145 591,143.5 595,143 599,142.3 603,141.3 607,140.1 611,138.9 615,137.8 619,137 623,136.3 627,135.8 631,135.4 635,135 639,134.7 643,134.4 647,134.2 651,133.9 655,133.7 659,133.5 663,133.3 667,133.1 671,133 675,132.8 679,132.6 683,132.4 687,132.2 691,132.1 695,131.9 699,131.7 703,131.5 707,131.3 711,131.1 715,131.1 719,131.1 719,231 715,231 711,231 707,231.2 703,231.5 699,231.8 695,232.1 691,232.4 687,232.7 683,233 679,233.3 675,233.6 671,233.9 667,234.2 663,234.5 659,234.8 655,235.1 651,235.4 647,235.7 643,236.1 639,236.4 635,236.8 631,237.2 627,237.7 623,238.1 619,238.6 615,239.2 611,239.8 607,240.5 603,241.2 599,242 595,242.9 591,243.8 587,244.7 583,245.7 579,246.6 575,247.5 571,248.4 567,249.2 563,249.9 559,250.7 555,251.4 551,252 547,252.7 543,253.3 539,254 535,254.6 531,255.2 527,255.8 523,256.5 519,257.1 515,257.7 511,258.3 507,258.9 503,259.6 499,260.2 495,260.9 491,261.5 487,262.2 483,262.9 479,263.7 475,264.5 471,265.5 467,266.6 463,267.8 459,269.1 455,270.4 451,271.5 447,272.4 443,273.3 439,274 435,274.6 431,275.2 427,275.8 423,276.4 419,277 415,277.5 411,278 407,278.5 403,279.1 399,279.6 395,280.1 391,280.6 387,281 383,281.5 379,282 375,282.5 371,283 367,283.5 363,284 359,284.5 355,285.1 351,285.7 347,286.3 343,286.9 339,287.5 335,288.1 331,288.6 327,288.9 323,289.2 319,289.4 315,289.6 311,289.7 307,289.8 303,289.9 299,289.9 295,289.9 291,289.9 287,289.9 283,289.9 279,289.9 275,289.8 271,289.8 267,289.7 263,289.6 259,289.6 255,289.5 251,289.4 247,289.4 243,289.3 239,289.2 235,289.1 231,288.9 227,288.8 223,288.7 219,288.5 215,288.3 211,288.1 207,287.9 203,287.7 199,287.4 195,287.2 191,286.9 187,286.7 183,286.4 179,286.1 175,285.8 171,285.5 167,285.1 163,284.8 159,284.4 155,284 151,283.5 147,283 143,282.4 139,281.8 135,281.2 131,280.4 127,279.6 123,278.7 119,277.7 115,276.7 111,275.7 107,274.6 103,273.6 99,272.6 95,271.6 91,270.7 87,269.9 83,269 79,268.2 75,267.4 71,266.7 67,265.9 63,265.1 59,264.4 55,263.5 51,262.7 47,261.9 43,260.9 39,259.9 35,258.9 31,257.7 27,256.5 23,255.2 19,253.9 15,252.5 11,251.1 7,249.8 3,248.5 -1,248.5 -5,248.5 -9,248.5Z" fill="#c32621"/>
<path d="M-9,164.4 -5,164.4 -1,164.4 3,164.4 7,165.2 11,165.9 15,166.6 19,167.3 23,168 27,168.8 31,169.5 35,170.3 39,171.1 43,171.9 47,172.7 51,173.6 55,174.5 59,175.4 63,176.3 67,177.1 71,178 75,178.9 79,179.7 83,180.5 87,181.3 91,182 95,182.6 99,183.1 103,183.7 107,184.1 111,184.5 115,184.9 119,185.3 123,185.7 127,186.2 131,186.7 135,187.3 139,187.9 143,188.6 147,189.2 151,189.9 155,190.4 159,190.8 163,191.2 167,191.4 171,191.7 175,191.9 179,192 183,192.2 187,192.3 191,192.5 195,192.6 199,192.8 203,193 207,193.1 211,193.3 215,193.5 219,193.7 223,193.8 227,194 231,194.1 235,194.3 239,194.4 243,194.5 247,194.5 251,194.6 255,194.6 259,194.6 263,194.6 267,194.6 271,194.5 275,194.4 279,194.3 283,194.1 287,193.8 291,193.5 295,193.1 299,192.7 303,192.2 307,191.7 311,191.2 315,190.6 319,190 323,189.4 327,188.8 331,188.2 335,187.6 339,187 343,186.5 347,186 351,185.5 355,185 359,184.6 363,184.2 367,183.7 371,183.3 375,182.8 379,182.3 383,181.8 387,181.2 391,180.6 395,180 399,179.3 403,178.7 407,178.1 411,177.5 415,176.9 419,176.3 423,175.8 427,175.4 431,175 435,174.6 439,174.4 443,174.1 447,173.9 451,173.7 455,173.4 459,173.2 463,172.9 467,172.7 471,172.4 475,172.2 479,172 483,171.8 487,171.6 491,171.4 495,171.3 499,171.1 503,171 507,170.7 511,170.5 515,170.2 519,169.7 523,169.2 527,168.5 531,167.6 535,166.7 539,165.6 543,164.6 547,163.6 551,162.6 555,161.8 559,160.9 563,160.1 567,159.2 571,158.3 575,157.4 579,156.4 583,155.2 587,153.4 591,151.8 595,151.3 599,150.6 603,149.7 607,148.5 611,147.3 615,146.3 619,145.5 623,144.8 627,144.3 631,143.9 635,143.5 639,143.2 643,142.9 647,142.6 651,142.4 655,142.2 659,142 663,141.8 667,141.6 671,141.4 675,141.2 679,141 683,140.8 687,140.6 691,140.4 695,140.2 699,140 703,139.8 707,139.6 711,139.5 715,139.5 719,139.5 719,231 715,231 711,231 707,231.2 703,231.5 699,231.8 695,232.1 691,232.4 687,232.7 683,233 679,233.3 675,233.6 671,233.9 667,234.2 663,234.5 659,234.8 655,235.1 651,235.4 647,235.7 643,236.1 639,236.4 635,236.8 631,237.2 627,237.7 623,238.1 619,238.6 615,239.2 611,239.8 607,240.5 603,241.2 599,242 595,242.9 591,243.8 587,244.7 583,245.7 579,246.6 575,247.5 571,248.4 567,249.2 563,249.9 559,250.7 555,251.4 551,252 547,252.7 543,253.3 539,254 535,254.6 531,255.2 527,255.8 523,256.5 519,257.1 515,257.7 511,258.3 507,258.9 503,259.6 499,260.2 495,260.9 491,261.5 487,262.2 483,262.9 479,263.7 475,264.5 471,265.5 467,266.6 463,267.8 459,269.1 455,270.4 451,271.5 447,272.4 443,273.3 439,274 435,274.6 431,275.2 427,275.8 423,276.4 419,277 415,277.5 411,278 407,278.5 403,279.1 399,279.6 395,280.1 391,280.6 387,281 383,281.5 379,282 375,282.5 371,283 367,283.5 363,284 359,284.5 355,285.1 351,285.7 347,286.3 343,286.9 339,287.5 335,288.1 331,288.6 327,288.9 323,289.2 319,289.4 315,289.6 311,289.7 307,289.8 303,289.9 299,289.9 295,289.9 291,289.9 287,289.9 283,289.9 279,289.9 275,289.8 271,289.8 267,289.7 263,289.6 259,289.6 255,289.5 251,289.4 247,289.4 243,289.3 239,289.2 235,289.1 231,288.9 227,288.8 223,288.7 219,288.5 215,288.3 211,288.1 207,287.9 203,287.7 199,287.4 195,287.2 191,286.9 187,286.7 183,286.4 179,286.1 175,285.8 171,285.5 167,285.1 163,284.8 159,284.4 155,284 151,283.5 147,283 143,282.4 139,281.8 135,281.2 131,280.4 127,279.6 123,278.7 119,277.7 115,276.7 111,275.7 107,274.6 103,273.6 99,272.6 95,271.6 91,270.7 87,269.9 83,269 79,268.2 75,267.4 71,266.7 67,265.9 63,265.1 59,264.4 55,263.5 51,262.7 47,261.9 43,260.9 39,259.9 35,258.9 31,257.7 27,256.5 23,255.2 19,253.9 15,252.5 11,251.1 7,249.8 3,248.5 -1,248.5 -5,248.5 -9,248.5Z" fill="#c42923"/>
<path d="M-9,172.1 -5,172.1 -1,172.1 3,172.1 7,172.9 11,173.6 15,174.4 19,175.2 23,176 27,176.7 31,177.5 35,178.3 39,179.1 43,180 47,180.8 51,181.7 55,182.6 59,183.5 63,184.3 67,185.2 71,186.1 75,186.9 79,187.8 83,188.6 87,189.3 91,190 95,190.7 99,191.3 103,191.8 107,192.3 111,192.8 115,193.3 119,193.7 123,194.2 127,194.7 131,195.2 135,195.8 139,196.4 143,197.1 147,197.8 151,198.4 155,198.9 159,199.3 163,199.7 167,200 171,200.2 175,200.4 179,200.6 183,200.7 187,200.9 191,201.1 195,201.2 199,201.4 203,201.6 207,201.7 211,201.9 215,202.1 219,202.3 223,202.4 227,202.6 231,202.7 235,202.9 239,203 243,203.1 247,203.2 251,203.2 255,203.2 259,203.3 263,203.3 267,203.2 271,203.2 275,203.1 279,203 283,202.8 287,202.5 291,202.3 295,201.9 299,201.5 303,201.1 307,200.6 311,200.1 315,199.6 319,199.1 323,198.5 327,197.9 331,197.4 335,196.8 339,196.2 343,195.6 347,195.1 351,194.6 355,194.1 359,193.7 363,193.2 367,192.8 371,192.3 375,191.9 379,191.4 383,190.9 387,190.3 391,189.7 395,189.1 399,188.5 403,187.8 407,187.2 411,186.6 415,186 419,185.5 423,185 427,184.5 431,184.1 435,183.7 439,183.4 443,183.1 447,182.8 451,182.5 455,182.2 459,181.9 463,181.5 467,181.2 471,180.9 475,180.6 479,180.4 483,180.1 487,179.8 491,179.6 495,179.4 499,179.2 503,179 507,178.8 511,178.5 515,178.1 519,177.7 523,177.1 527,176.4 531,175.6 535,174.7 539,173.7 543,172.6 547,171.7 551,170.8 555,169.9 559,169.1 563,168.2 567,167.4 571,166.5 575,165.6 579,164.6 583,163.4 587,161.7 591,160.2 595,159.6 599,158.9 603,158 607,156.8 611,155.7 615,154.7 619,154 623,153.3 627,152.8 631,152.4 635,152 639,151.7 643,151.4 647,151.1 651,150.9 655,150.6 659,150.4 663,150.2 667,150 671,149.8 675,149.6 679,149.4 683,149.2 687,149 691,148.8 695,148.6 699,148.4 703,148.2 707,147.9 711,147.8 715,147.8 719,147.8 719,231 715,231 711,231 707,231.2 703,231.5 699,231.8 695,232.1 691,232.4 687,232.7 683,233 679,233.3 675,233.6 671,233.9 667,234.2 663,234.5 659,234.8 655,235.1 651,235.4 647,235.7 643,236.1 639,236.4 635,236.8 631,237.2 627,237.7 623,238.1 619,238.6 615,239.2 611,239.8 607,240.5 603,241.2 599,242 595,242.9 591,243.8 587,244.7 583,245.7 579,246.6 575,247.5 571,248.4 567,249.2 563,249.9 559,250.7 555,251.4 551,252 547,252.7 543,253.3 539,254 535,254.6 531,255.2 527,255.8 523,256.5 519,257.1 515,257.7 511,258.3 507,258.9 503,259.6 499,260.2 495,260.9 491,261.5 487,262.2 483,262.9 479,263.7 475,264.5 471,265.5 467,266.6 463,267.8 459,269.1 455,270.4 451,271.5 447,272.4 443,273.3 439,274 435,274.6 431,275.2 427,275.8 423,276.4 419,277 415,277.5 411,278 407,278.5 403,279.1 399,279.6 395,280.1 391,280.6 387,281 383,281.5 379,282 375,282.5 371,283 367,283.5 363,284 359,284.5 355,285.1 351,285.7 347,286.3 343,286.9 339,287.5 335,288.1 331,288.6 327,288.9 323,289.2 319,289.4 315,289.6 311,289.7 307,289.8 303,289.9 299,289.9 295,289.9 291,289.9 287,289.9 283,289.9 279,289.9 275,289.8 271,289.8 267,289.7 263,289.6 259,289.6 255,289.5 251,289.4 247,289.4 243,289.3 239,289.2 235,289.1 231,288.9 227,288.8 223,288.7 219,288.5 215,288.3 211,288.1 207,287.9 203,287.7 199,287.4 195,287.2 191,286.9 187,286.7 183,286.4 179,286.1 175,285.8 171,285.5 167,285.1 163,284.8 159,284.4 155,284 151,283.5 147,283 143,282.4 139,281.8 135,281.2 131,280.4 127,279.6 123,278.7 119,277.7 115,276.7 111,275.7 107,274.6 103,273.6 99,272.6 95,271.6 91,270.7 87,269.9 83,269 79,268.2 75,267.4 71,266.7 67,265.9 63,265.1 59,264.4 55,263.5 51,262.7 47,261.9 43,260.9 39,259.9 35,258.9 31,257.7 27,256.5 23,255.2 19,253.9 15,252.5 11,251.1 7,249.8 3,248.5 -1,248.5 -5,248.5 -9,248.5Z" fill="#c62b25"/>
<path d="M-9,179.7 -5,179.7 -1,179.7 3,179.7 7,180.5 11,181.4 15,182.2 19,183 23,183.9 27,184.7 31,185.5 35,186.4 39,187.2 43,188.1 47,188.9 51,189.8 55,190.7 59,191.5 63,192.4 67,193.3 71,194.1 75,195 79,195.8 83,196.6 87,197.4 91,198.1 95,198.8 99,199.4 103,200 107,200.6 111,201.1 115,201.6 119,202.1 123,202.6 127,203.2 131,203.7 135,204.3 139,205 143,205.6 147,206.3 151,206.9 155,207.4 159,207.8 163,208.2 167,208.5 171,208.7 175,208.9 179,209.1 183,209.3 187,209.5 191,209.6 195,209.8 199,210 203,210.2 207,210.4 211,210.5 215,210.7 219,210.9 223,211.1 227,211.2 231,211.4 235,211.5 239,211.6 243,211.7 247,211.8 251,211.8 255,211.9 259,211.9 263,211.9 267,211.9 271,211.9 275,211.8 279,211.7 283,211.5 287,211.3 291,211 295,210.7 299,210.4 303,210 307,209.5 311,209.1 315,208.6 319,208.1 323,207.6 327,207 331,206.5 335,205.9 339,205.3 343,204.7 347,204.2 351,203.7 355,203.2 359,202.8 363,202.3 367,201.9 371,201.4 375,200.9 379,200.5 383,199.9 387,199.4 391,198.8 395,198.2 399,197.6 403,197 407,196.3 411,195.8 415,195.2 419,194.6 423,194.1 427,193.6 431,193.2 435,192.8 439,192.5 443,192.1 447,191.8 451,191.4 455,191 459,190.6 463,190.2 467,189.7 471,189.4 475,189 479,188.7 483,188.4 487,188.1 491,187.8 495,187.6 499,187.3 503,187.1 507,186.8 511,186.5 515,186.1 519,185.6 523,185 527,184.4 531,183.6 535,182.7 539,181.7 543,180.7 547,179.8 551,178.9 555,178.1 559,177.2 563,176.4 567,175.6 571,174.7 575,173.8 579,172.8 583,171.6 587,170 591,168.5 595,167.9 599,167.3 603,166.3 607,165.2 611,164.1 615,163.2 619,162.4 623,161.8 627,161.3 631,160.8 635,160.5 639,160.1 643,159.8 647,159.6 651,159.3 655,159.1 659,158.8 663,158.6 667,158.4 671,158.2 675,158 679,157.8 683,157.6 687,157.4 691,157.2 695,156.9 699,156.7 703,156.5 707,156.3 711,156.1 715,156.1 719,156.1 719,231 715,231 711,231 707,231.2 703,231.5 699,231.8 695,232.1 691,232.4 687,232.7 683,233 679,233.3 675,233.6 671,233.9 667,234.2 663,234.5 659,234.8 655,235.1 651,235.4 647,235.7 643,236.1 639,236.4 635,236.8 631,237.2 627,237.7 623,238.1 619,238.6 615,239.2 611,239.8 607,240.5 603,241.2 599,242 595,242.9 591,243.8 587,244.7 583,245.7 579,246.6 575,247.5 571,248.4 567,249.2 563,249.9 559,250.7 555,251.4 551,252 547,252.7 543,253.3 539,254 535,254.6 531,255.2 527,255.8 523,256.5 519,257.1 515,257.7 511,258.3 507,258.9 503,259.6 499,260.2 495,260.9 491,261.5 487,262.2 483,262.9 479,263.7 475,264.5 471,265.5 467,266.6 463,267.8 459,269.1 455,270.4 451,271.5 447,272.4 443,273.3 439,274 435,274.6 431,275.2 427,275.8 423,276.4 419,277 415,277.5 411,278 407,278.5 403,279.1 399,279.6 395,280.1 391,280.6 387,281 383,281.5 379,282 375,282.5 371,283 367,283.5 363,284 359,284.5 355,285.1 351,285.7 347,286.3 343,286.9 339,287.5 335,288.1 331,288.6 327,288.9 323,289.2 319,289.4 315,289.6 311,289.7 307,289.8 303,289.9 299,289.9 295,289.9 291,289.9 287,289.9 283,289.9 279,289.9 275,289.8 271,289.8 267,289.7 263,289.6 259,289.6 255,289.5 251,289.4 247,289.4 243,289.3 239,289.2 235,289.1 231,288.9 227,288.8 223,288.7 219,288.5 215,288.3 211,288.1 207,287.9 203,287.7 199,287.4 195,287.2 191,286.9 187,286.7 183,286.4 179,286.1 175,285.8 171,285.5 167,285.1 163,284.8 159,284.4 155,284 151,283.5 147,283 143,282.4 139,281.8 135,281.2 131,280.4 127,279.6 123,278.7 119,277.7 115,276.7 111,275.7 107,274.6 103,273.6 99,272.6 95,271.6 91,270.7 87,269.9 83,269 79,268.2 75,267.4 71,266.7 67,265.9 63,265.1 59,264.4 55,263.5 51,262.7 47,261.9 43,260.9 39,259.9 35,258.9 31,257.7 27,256.5 23,255.2 19,253.9 15,252.5 11,251.1 7,249.8 3,248.5 -1,248.5 -5,248.5 -9,248.5Z" fill="#c73029"/>
<path d="M-9,187.4 -5,187.4 -1,187.4 3,187.4 7,188.2 11,189.1 15,190 19,190.9 23,191.8 27,192.7 31,193.6 35,194.4 39,195.3 43,196.2 47,197 51,197.9 55,198.8 59,199.6 63,200.5 67,201.3 71,202.2 75,203 79,203.9 83,204.7 87,205.4 91,206.2 95,206.9 99,207.5 103,208.2 107,208.8 111,209.4 115,210 119,210.5 123,211.1 127,211.6 131,212.2 135,212.9 139,213.5 143,214.2 147,214.8 151,215.4 155,215.9 159,216.3 163,216.7 167,217 171,217.3 175,217.5 179,217.7 183,217.9 187,218.1 191,218.2 195,218.4 199,218.6 203,218.8 207,219 211,219.2 215,219.3 219,219.5 223,219.7 227,219.8 231,220 235,220.1 239,220.2 243,220.3 247,220.4 251,220.4 255,220.5 259,220.5 263,220.5 267,220.5 271,220.5 275,220.4 279,220.3 283,220.2 287,220 291,219.8 295,219.5 299,219.2 303,218.9 307,218.5 311,218 315,217.6 319,217.1 323,216.6 327,216.1 331,215.6 335,215 339,214.4 343,213.9 347,213.3 351,212.8 355,212.3 359,211.8 363,211.4 367,210.9 371,210.5 375,210 379,209.5 383,209 387,208.4 391,207.9 395,207.3 399,206.7 403,206.1 407,205.5 411,204.9 415,204.3 419,203.8 423,203.3 427,202.8 431,202.3 435,201.9 439,201.5 443,201.1 447,200.8 451,200.3 455,199.9 459,199.3 463,198.8 467,198.3 471,197.8 475,197.4 479,197 483,196.7 487,196.3 491,196 495,195.7 499,195.4 503,195.1 507,194.8 511,194.4 515,194 519,193.6 523,193 527,192.3 531,191.5 535,190.6 539,189.7 543,188.8 547,187.9 551,187 555,186.2 559,185.4 563,184.6 567,183.7 571,182.9 575,182 579,181 583,179.9 587,178.3 591,176.9 595,176.3 599,175.6 603,174.6 607,173.6 611,172.5 615,171.6 619,170.9 623,170.3 627,169.8 631,169.3 635,169 639,168.6 643,168.3 647,168 651,167.8 655,167.5 659,167.3 663,167 667,166.8 671,166.6 675,166.4 679,166.2 683,165.9 687,165.7 691,165.5 695,165.3 699,165.1 703,164.8 707,164.6 711,164.4 715,164.4 719,164.4 719,231 715,231 711,231 707,231.2 703,231.5 699,231.8 695,232.1 691,232.4 687,232.7 683,233 679,233.3 675,233.6 671,233.9 667,234.2 663,234.5 659,234.8 655,235.1 651,235.4 647,235.7 643,236.1 639,236.4 635,236.8 631,237.2 627,237.7 623,238.1 619,238.6 615,239.2 611,239.8 607,240.5 603,241.2 599,242 595,242.9 591,243.8 587,244.7 583,245.7 579,246.6 575,247.5 571,248.4 567,249.2 563,249.9 559,250.7 555,251.4 551,252 547,252.7 543,253.3 539,254 535,254.6 531,255.2 527,255.8 523,256.5 519,257.1 515,257.7 511,258.3 507,258.9 503,259.6 499,260.2 495,260.9 491,261.5 487,262.2 483,262.9 479,263.7 475,264.5 471,265.5 467,266.6 463,267.8 459,269.1 455,270.4 451,271.5 447,272.4 443,273.3 439,274 435,274.6 431,275.2 427,275.8 423,276.4 419,277 415,277.5 411,278 407,278.5 403,279.1 399,279.6 395,280.1 391,280.6 387,281 383,281.5 379,282 375,282.5 371,283 367,283.5 363,284 359,284.5 355,285.1 351,285.7 347,286.3 343,286.9 339,287.5 335,288.1 331,288.6 327,288.9 323,289.2 319,289.4 315,289.6 311,289.7 307,289.8 303,289.9 299,289.9 295,289.9 291,289.9 287,289.9 283,289.9 279,289.9 275,289.8 271,289.8 267,289.7 263,289.6 259,289.6 255,289.5 251,289.4 247,289.4 243,289.3 239,289.2 235,289.1 231,288.9 227,288.8 223,288.7 219,288.5 215,288.3 211,288.1 207,287.9 203,287.7 199,287.4 195,287.2 191,286.9 187,286.7 183,286.4 179,286.1 175,285.8 171,285.5 167,285.1 163,284.8 159,284.4 155,284 151,283.5 147,283 143,282.4 139,281.8 135,281.2 131,280.4 127,279.6 123,278.7 119,277.7 115,276.7 111,275.7 107,274.6 103,273.6 99,272.6 95,271.6 91,270.7 87,269.9 83,269 79,268.2 75,267.4 71,266.7 67,265.9 63,265.1 59,264.4 55,263.5 51,262.7 47,261.9 43,260.9 39,259.9 35,258.9 31,257.7 27,256.5 23,255.2 19,253.9 15,252.5 11,251.1 7,249.8 3,248.5 -1,248.5 -5,248.5 -9,248.5Z" fill="#c9372e"/>
<path d="M-9,195 -5,195 -1,195 3,195 7,195.9 11,196.9 15,197.8 19,198.8 23,199.7 27,200.7 31,201.6 35,202.5 39,203.4 43,204.3 47,205.1 51,206 55,206.9 59,207.7 63,208.6 67,209.4 71,210.3 75,211.1 79,211.9 83,212.7 87,213.5 91,214.2 95,215 99,215.7 103,216.4 107,217 111,217.7 115,218.3 119,218.9 123,219.5 127,220.1 131,220.8 135,221.4 139,222.1 143,222.7 147,223.3 151,223.9 155,224.4 159,224.8 163,225.2 167,225.5 171,225.8 175,226 179,226.2 183,226.4 187,226.6 191,226.8 195,227 199,227.2 203,227.4 207,227.6 211,227.8 215,228 219,228.1 223,228.3 227,228.5 231,228.6 235,228.7 239,228.8 243,228.9 247,229 251,229.1 255,229.1 259,229.2 263,229.2 267,229.2 271,229.2 275,229.1 279,229 283,228.9 287,228.8 291,228.6 295,228.3 299,228 303,227.7 307,227.4 311,227 315,226.6 319,226.2 323,225.7 327,225.2 331,224.7 335,224.2 339,223.6 343,223 347,222.4 351,221.9 355,221.4 359,220.9 363,220.5 367,220 371,219.5 375,219.1 379,218.6 383,218.1 387,217.5 391,217 395,216.4 399,215.8 403,215.2 407,214.6 411,214 415,213.5 419,212.9 423,212.4 427,211.9 431,211.4 435,211 439,210.6 443,210.2 447,209.7 451,209.2 455,208.7 459,208.1 463,207.4 467,206.8 471,206.3 475,205.8 479,205.4 483,204.9 487,204.6 491,204.2 495,203.9 499,203.5 503,203.2 507,202.8 511,202.4 515,202 519,201.5 523,200.9 527,200.2 531,199.5 535,198.6 539,197.8 543,196.9 547,196 551,195.2 555,194.4 559,193.6 563,192.7 567,191.9 571,191 575,190.1 579,189.2 583,188.1 587,186.6 591,185.3 595,184.6 599,183.9 603,183 607,181.9 611,180.9 615,180.1 619,179.4 623,178.8 627,178.2 631,177.8 635,177.4 639,177.1 643,176.8 647,176.5 651,176.2 655,176 659,175.7 663,175.5 667,175.2 671,175 675,174.8 679,174.6 683,174.3 687,174.1 691,173.9 695,173.7 699,173.4 703,173.2 707,172.9 711,172.8 715,172.8 719,172.8 719,231 715,231 711,231 707,231.2 703,231.5 699,231.8 695,232.1 691,232.4 687,232.7 683,233 679,233.3 675,233.6 671,233.9 667,234.2 663,234.5 659,234.8 655,235.1 651,235.4 647,235.7 643,236.1 639,236.4 635,236.8 631,237.2 627,237.7 623,238.1 619,238.6 615,239.2 611,239.8 607,240.5 603,241.2 599,242 595,242.9 591,243.8 587,244.7 583,245.7 579,246.6 575,247.5 571,248.4 567,249.2 563,249.9 559,250.7 555,251.4 551,252 547,252.7 543,253.3 539,254 535,254.6 531,255.2 527,255.8 523,256.5 519,257.1 515,257.7 511,258.3 507,258.9 503,259.6 499,260.2 495,260.9 491,261.5 487,262.2 483,262.9 479,263.7 475,264.5 471,265.5 467,266.6 463,267.8 459,269.1 455,270.4 451,271.5 447,272.4 443,273.3 439,274 435,274.6 431,275.2 427,275.8 423,276.4 419,277 415,277.5 411,278 407,278.5 403,279.1 399,279.6 395,280.1 391,280.6 387,281 383,281.5 379,282 375,282.5 371,283 367,283.5 363,284 359,284.5 355,285.1 351,285.7 347,286.3 343,286.9 339,287.5 335,288.1 331,288.6 327,288.9 323,289.2 319,289.4 315,289.6 311,289.7 307,289.8 303,289.9 299,289.9 295,289.9 291,289.9 287,289.9 283,289.9 279,289.9 275,289.8 271,289.8 267,289.7 263,289.6 259,289.6 255,289.5 251,289.4 247,289.4 243,289.3 239,289.2 235,289.1 231,288.9 227,288.8 223,288.7 219,288.5 215,288.3 211,288.1 207,287.9 203,287.7 199,287.4 195,287.2 191,286.9 187,286.7 183,286.4 179,286.1 175,285.8 171,285.5 167,285.1 163,284.8 159,284.4 155,284 151,283.5 147,283 143,282.4 139,281.8 135,281.2 131,280.4 127,279.6 123,278.7 119,277.7 115,276.7 111,275.7 107,274.6 103,273.6 99,272.6 95,271.6 91,270.7 87,269.9 83,269 79,268.2 75,267.4 71,266.7 67,265.9 63,265.1 59,264.4 55,263.5 51,262.7 47,261.9 43,260.9 39,259.9 35,258.9 31,257.7 27,256.5 23,255.2 19,253.9 15,252.5 11,251.1 7,249.8 3,248.5 -1,248.5 -5,248.5 -9,248.5Z" fill="#cb3e33"/>
<path d="M-9,202.6 -5,202.6 -1,202.6 3,202.6 7,203.6 11,204.6 15,205.6 19,206.7 23,207.7 27,208.6 31,209.6 35,210.5 39,211.5 43,212.4 47,213.2 51,214.1 55,215 59,215.8 63,216.7 67,217.5 71,218.3 75,219.1 79,219.9 83,220.7 87,221.5 91,222.3 95,223.1 99,223.8 103,224.5 107,225.3 111,226 115,226.6 119,227.3 123,228 127,228.6 131,229.3 135,229.9 139,230.6 143,231.2 147,231.9 151,232.4 155,232.9 159,233.3 163,233.7 167,234 171,234.3 175,234.6 179,234.8 183,235 187,235.2 191,235.4 195,235.6 199,235.8 203,236 207,236.2 211,236.4 215,236.6 219,236.8 223,236.9 227,237.1 231,237.2 235,237.3 239,237.5 243,237.6 247,237.6 251,237.7 255,237.7 259,237.8 263,237.8 267,237.8 271,237.8 275,237.8 279,237.7 283,237.6 287,237.5 291,237.3 295,237.1 299,236.9 303,236.6 307,236.3 311,236 315,235.6 319,235.2 323,234.8 327,234.3 331,233.8 335,233.3 339,232.7 343,232.1 347,231.6 351,231 355,230.5 359,230 363,229.5 367,229.1 371,228.6 375,228.1 379,227.6 383,227.1 387,226.6 391,226 395,225.5 399,224.9 403,224.3 407,223.7 411,223.2 415,222.6 419,222.1 423,221.5 427,221 431,220.6 435,220.1 439,219.6 443,219.2 447,218.7 451,218.1 455,217.5 459,216.8 463,216 467,215.4 471,214.7 475,214.2 479,213.7 483,213.2 487,212.8 491,212.4 495,212 499,211.6 503,211.2 507,210.8 511,210.4 515,209.9 519,209.4 523,208.9 527,208.2 531,207.4 535,206.6 539,205.8 543,204.9 547,204.1 551,203.3 555,202.5 559,201.7 563,200.9 567,200.1 571,199.2 575,198.3 579,197.4 583,196.3 587,194.9 591,193.6 595,192.9 599,192.2 603,191.3 607,190.3 611,189.3 615,188.5 619,187.8 623,187.2 627,186.7 631,186.3 635,185.9 639,185.6 643,185.2 647,185 651,184.7 655,184.4 659,184.1 663,183.9 667,183.7 671,183.4 675,183.2 679,182.9 683,182.7 687,182.5 691,182.2 695,182 699,181.8 703,181.5 707,181.2 711,181.1 715,181.1 719,181.1 719,231 715,231 711,231 707,231.2 703,231.5 699,231.8 695,232.1 691,232.4 687,232.7 683,233 679,233.3 675,233.6 671,233.9 667,234.2 663,234.5 659,234.8 655,235.1 651,235.4 647,235.7 643,236.1 639,236.4 635,236.8 631,237.2 627,237.7 623,238.1 619,238.6 615,239.2 611,239.8 607,240.5 603,241.2 599,242 595,242.9 591,243.8 587,244.7 583,245.7 579,246.6 575,247.5 571,248.4 567,249.2 563,249.9 559,250.7 555,251.4 551,252 547,252.7 543,253.3 539,254 535,254.6 531,255.2 527,255.8 523,256.5 519,257.1 515,257.7 511,258.3 507,258.9 503,259.6 499,260.2 495,260.9 491,261.5 487,262.2 483,262.9 479,263.7 475,264.5 471,265.5 467,266.6 463,267.8 459,269.1 455,270.4 451,271.5 447,272.4 443,273.3 439,274 435,274.6 431,275.2 427,275.8 423,276.4 419,277 415,277.5 411,278 407,278.5 403,279.1 399,279.6 395,280.1 391,280.6 387,281 383,281.5 379,282 375,282.5 371,283 367,283.5 363,284 359,284.5 355,285.1 351,285.7 347,286.3 343,286.9 339,287.5 335,288.1 331,288.6 327,288.9 323,289.2 319,289.4 315,289.6 311,289.7 307,289.8 303,289.9 299,289.9 295,289.9 291,289.9 287,289.9 283,289.9 279,289.9 275,289.8 271,289.8 267,289.7 263,289.6 259,289.6 255,289.5 251,289.4 247,289.4 243,289.3 239,289.2 235,289.1 231,288.9 227,288.8 223,288.7 219,288.5 215,288.3 211,288.1 207,287.9 203,287.7 199,287.4 195,287.2 191,286.9 187,286.7 183,286.4 179,286.1 175,285.8 171,285.5 167,285.1 163,284.8 159,284.4 155,284 151,283.5 147,283 143,282.4 139,281.8 135,281.2 131,280.4 127,279.6 123,278.7 119,277.7 115,276.7 111,275.7 107,274.6 103,273.6 99,272.6 95,271.6 91,270.7 87,269.9 83,269 79,268.2 75,267.4 71,266.7 67,265.9 63,265.1 59,264.4 55,263.5 51,262.7 47,261.9 43,260.9 39,259.9 35,258.9 31,257.7 27,256.5 23,255.2 19,253.9 15,252.5 11,251.1 7,249.8 3,248.5 -1,248.5 -5,248.5 -9,248.5Z" fill="#cd4538"/>
<path d="M-9,210.3 -5,210.3 -1,210.3 3,210.3 7,211.3 11,212.4 15,213.5 19,214.5 23,215.6 27,216.6 31,217.6 35,218.6 39,219.5 43,220.5 47,221.3 51,222.2 55,223.1 59,223.9 63,224.7 67,225.6 71,226.4 75,227.2 79,228 83,228.8 87,229.6 91,230.4 95,231.2 99,231.9 103,232.7 107,233.5 111,234.3 115,235 119,235.7 123,236.4 127,237.1 131,237.8 135,238.5 139,239.1 143,239.8 147,240.4 151,240.9 155,241.4 159,241.9 163,242.2 167,242.5 171,242.8 175,243.1 179,243.3 183,243.6 187,243.8 191,244 195,244.2 199,244.4 203,244.6 207,244.8 211,245 215,245.2 219,245.4 223,245.5 227,245.7 231,245.8 235,246 239,246.1 243,246.2 247,246.3 251,246.3 255,246.4 259,246.4 263,246.5 267,246.5 271,246.5 275,246.5 279,246.4 283,246.3 287,246.2 291,246.1 295,245.9 299,245.7 303,245.5 307,245.2 311,244.9 315,244.6 319,244.3 323,243.9 327,243.4 331,243 335,242.4 339,241.8 343,241.3 347,240.7 351,240.1 355,239.6 359,239.1 363,238.6 367,238.2 371,237.7 375,237.2 379,236.7 383,236.2 387,235.7 391,235.1 395,234.6 399,234 403,233.4 407,232.9 411,232.3 415,231.8 419,231.2 423,230.7 427,230.2 431,229.7 435,229.2 439,228.7 443,228.2 447,227.6 451,227 455,226.3 459,225.5 463,224.7 467,223.9 471,223.2 475,222.6 479,222 483,221.5 487,221 491,220.6 495,220.1 499,219.7 503,219.3 507,218.8 511,218.4 515,217.9 519,217.4 523,216.8 527,216.1 531,215.4 535,214.6 539,213.8 543,213 547,212.2 551,211.4 555,210.6 559,209.9 563,209.1 567,208.3 571,207.4 575,206.5 579,205.6 583,204.5 587,203.2 591,202 595,201.3 599,200.5 603,199.6 607,198.7 611,197.8 615,197 619,196.3 623,195.7 627,195.2 631,194.8 635,194.4 639,194 643,193.7 647,193.4 651,193.1 655,192.8 659,192.6 663,192.3 667,192.1 671,191.8 675,191.6 679,191.3 683,191.1 687,190.9 691,190.6 695,190.4 699,190.1 703,189.8 707,189.6 711,189.4 715,189.4 719,189.4 719,231 715,231 711,231 707,231.2 703,231.5 699,231.8 695,232.1 691,232.4 687,232.7 683,233 679,233.3 675,233.6 671,233.9 667,234.2 663,234.5 659,234.8 655,235.1 651,235.4 647,235.7 643,236.1 639,236.4 635,236.8 631,237.2 627,237.7 623,238.1 619,238.6 615,239.2 611,239.8 607,240.5 603,241.2 599,242 595,242.9 591,243.8 587,244.7 583,245.7 579,246.6 575,247.5 571,248.4 567,249.2 563,249.9 559,250.7 555,251.4 551,252 547,252.7 543,253.3 539,254 535,254.6 531,255.2 527,255.8 523,256.5 519,257.1 515,257.7 511,258.3 507,258.9 503,259.6 499,260.2 495,260.9 491,261.5 487,262.2 483,262.9 479,263.7 475,264.5 471,265.5 467,266.6 463,267.8 459,269.1 455,270.4 451,271.5 447,272.4 443,273.3 439,274 435,274.6 431,275.2 427,275.8 423,276.4 419,277 415,277.5 411,278 407,278.5 403,279.1 399,279.6 395,280.1 391,280.6 387,281 383,281.5 379,282 375,282.5 371,283 367,283.5 363,284 359,284.5 355,285.1 351,285.7 347,286.3 343,286.9 339,287.5 335,288.1 331,288.6 327,288.9 323,289.2 319,289.4 315,289.6 311,289.7 307,289.8 303,289.9 299,289.9 295,289.9 291,289.9 287,289.9 283,289.9 279,289.9 275,289.8 271,289.8 267,289.7 263,289.6 259,289.6 255,289.5 251,289.4 247,289.4 243,289.3 239,289.2 235,289.1 231,288.9 227,288.8 223,288.7 219,288.5 215,288.3 211,288.1 207,287.9 203,287.7 199,287.4 195,287.2 191,286.9 187,286.7 183,286.4 179,286.1 175,285.8 171,285.5 167,285.1 163,284.8 159,284.4 155,284 151,283.5 147,283 143,282.4 139,281.8 135,281.2 131,280.4 127,279.6 123,278.7 119,277.7 115,276.7 111,275.7 107,274.6 103,273.6 99,272.6 95,271.6 91,270.7 87,269.9 83,269 79,268.2 75,267.4 71,266.7 67,265.9 63,265.1 59,264.4 55,263.5 51,262.7 47,261.9 43,260.9 39,259.9 35,258.9 31,257.7 27,256.5 23,255.2 19,253.9 15,252.5 11,251.1 7,249.8 3,248.5 -1,248.5 -5,248.5 -9,248.5Z" fill="#d14f41"/>
<path d="M-9,217.9 -5,217.9 -1,217.9 3,217.9 7,219 11,220.1 15,221.3 19,222.4 23,223.5 27,224.6 31,225.6 35,226.7 39,227.6 43,228.5 47,229.4 51,230.3 55,231.2 59,232 63,232.8 67,233.6 71,234.4 75,235.2 79,236 83,236.8 87,237.6 91,238.4 95,239.3 99,240.1 103,240.9 107,241.7 111,242.5 115,243.3 119,244.1 123,244.9 127,245.6 131,246.3 135,247 139,247.7 143,248.3 147,248.9 151,249.4 155,249.9 159,250.4 163,250.7 167,251.1 171,251.4 175,251.6 179,251.9 183,252.1 187,252.4 191,252.6 195,252.8 199,253 203,253.2 207,253.4 211,253.6 215,253.8 219,254 223,254.2 227,254.3 231,254.5 235,254.6 239,254.7 243,254.8 247,254.9 251,254.9 255,255 259,255.1 263,255.1 267,255.1 271,255.1 275,255.1 279,255.1 283,255.1 287,255 291,254.9 295,254.7 299,254.6 303,254.4 307,254.1 311,253.9 315,253.6 319,253.3 323,252.9 327,252.5 331,252.1 335,251.6 339,251 343,250.4 347,249.8 351,249.2 355,248.7 359,248.2 363,247.7 367,247.2 371,246.7 375,246.3 379,245.8 383,245.3 387,244.7 391,244.2 395,243.7 399,243.1 403,242.6 407,242 411,241.5 415,240.9 419,240.4 423,239.8 427,239.3 431,238.8 435,238.3 439,237.7 443,237.2 447,236.6 451,235.9 455,235.1 459,234.2 463,233.3 467,232.4 471,231.7 475,231 479,230.4 483,229.8 487,229.3 491,228.8 495,228.3 499,227.8 503,227.3 507,226.9 511,226.4 515,225.9 519,225.3 523,224.7 527,224.1 531,223.4 535,222.6 539,221.8 543,221.1 547,220.3 551,219.5 555,218.8 559,218 563,217.3 567,216.5 571,215.6 575,214.7 579,213.8 583,212.8 587,211.5 591,210.3 595,209.6 599,208.8 603,207.9 607,207 611,206.2 615,205.4 619,204.8 623,204.2 627,203.7 631,203.3 635,202.9 639,202.5 643,202.2 647,201.9 651,201.6 655,201.3 659,201 663,200.7 667,200.5 671,200.2 675,200 679,199.7 683,199.5 687,199.2 691,199 695,198.7 699,198.5 703,198.2 707,197.9 711,197.7 715,197.7 719,197.7 719,231 715,231 711,231 707,231.2 703,231.5 699,231.8 695,232.1 691,232.4 687,232.7 683,233 679,233.3 675,233.6 671,233.9 667,234.2 663,234.5 659,234.8 655,235.1 651,235.4 647,235.7 643,236.1 639,236.4 635,236.8 631,237.2 627,237.7 623,238.1 619,238.6 615,239.2 611,239.8 607,240.5 603,241.2 599,242 595,242.9 591,243.8 587,244.7 583,245.7 579,246.6 575,247.5 571,248.4 567,249.2 563,249.9 559,250.7 555,251.4 551,252 547,252.7 543,253.3 539,254 535,254.6 531,255.2 527,255.8 523,256.5 519,257.1 515,257.7 511,258.3 507,258.9 503,259.6 499,260.2 495,260.9 491,261.5 487,262.2 483,262.9 479,263.7 475,264.5 471,265.5 467,266.6 463,267.8 459,269.1 455,270.4 451,271.5 447,272.4 443,273.3 439,274 435,274.6 431,275.2 427,275.8 423,276.4 419,277 415,277.5 411,278 407,278.5 403,279.1 399,279.6 395,280.1 391,280.6 387,281 383,281.5 379,282 375,282.5 371,283 367,283.5 363,284 359,284.5 355,285.1 351,285.7 347,286.3 343,286.9 339,287.5 335,288.1 331,288.6 327,288.9 323,289.2 319,289.4 315,289.6 311,289.7 307,289.8 303,289.9 299,289.9 295,289.9 291,289.9 287,289.9 283,289.9 279,289.9 275,289.8 271,289.8 267,289.7 263,289.6 259,289.6 255,289.5 251,289.4 247,289.4 243,289.3 239,289.2 235,289.1 231,288.9 227,288.8 223,288.7 219,288.5 215,288.3 211,288.1 207,287.9 203,287.7 199,287.4 195,287.2 191,286.9 187,286.7 183,286.4 179,286.1 175,285.8 171,285.5 167,285.1 163,284.8 159,284.4 155,284 151,283.5 147,283 143,282.4 139,281.8 135,281.2 131,280.4 127,279.6 123,278.7 119,277.7 115,276.7 111,275.7 107,274.6 103,273.6 99,272.6 95,271.6 91,270.7 87,269.9 83,269 79,268.2 75,267.4 71,266.7 67,265.9 63,265.1 59,264.4 55,263.5 51,262.7 47,261.9 43,260.9 39,259.9 35,258.9 31,257.7 27,256.5 23,255.2 19,253.9 15,252.5 11,251.1 7,249.8 3,248.5 -1,248.5 -5,248.5 -9,248.5Z" fill="#d4584a"/>
<path d="M-9,225.6 -5,225.6 -1,225.6 3,225.6 7,226.7 11,227.9 15,229.1 19,230.3 23,231.4 27,232.6 31,233.7 35,234.7 39,235.7 43,236.6 47,237.5 51,238.4 55,239.3 59,240.1 63,240.9 67,241.7 71,242.5 75,243.3 79,244.1 83,244.9 87,245.7 91,246.5 95,247.4 99,248.2 103,249.1 107,250 111,250.8 115,251.7 119,252.5 123,253.3 127,254.1 131,254.8 135,255.5 139,256.2 143,256.8 147,257.4 151,258 155,258.4 159,258.9 163,259.2 167,259.6 171,259.9 175,260.2 179,260.4 183,260.7 187,260.9 191,261.2 195,261.4 199,261.6 203,261.8 207,262.1 211,262.3 215,262.5 219,262.6 223,262.8 227,262.9 231,263.1 235,263.2 239,263.3 243,263.4 247,263.5 251,263.6 255,263.6 259,263.7 263,263.7 267,263.8 271,263.8 275,263.8 279,263.8 283,263.8 287,263.7 291,263.6 295,263.5 299,263.4 303,263.3 307,263.1 311,262.9 315,262.6 319,262.3 323,262 327,261.6 331,261.2 335,260.7 339,260.1 343,259.5 347,258.9 351,258.3 355,257.8 359,257.3 363,256.8 367,256.3 371,255.8 375,255.3 379,254.8 383,254.3 387,253.8 391,253.3 395,252.8 399,252.2 403,251.7 407,251.1 411,250.6 415,250.1 419,249.5 423,249 427,248.4 431,247.9 435,247.4 439,246.8 443,246.2 447,245.6 451,244.8 455,243.9 459,243 463,241.9 467,241 471,240.1 475,239.4 479,238.7 483,238.1 487,237.5 491,237 495,236.4 499,235.9 503,235.4 507,234.9 511,234.4 515,233.8 519,233.2 523,232.7 527,232 531,231.3 535,230.6 539,229.9 543,229.1 547,228.4 551,227.7 555,226.9 559,226.2 563,225.4 567,224.6 571,223.8 575,222.9 579,222 583,221 587,219.8 591,218.7 595,217.9 599,217.1 603,216.3 607,215.4 611,214.6 615,213.9 619,213.2 623,212.7 627,212.2 631,211.8 635,211.4 639,211 643,210.7 647,210.3 651,210 655,209.7 659,209.5 663,209.2 667,208.9 671,208.6 675,208.4 679,208.1 683,207.9 687,207.6 691,207.3 695,207.1 699,206.8 703,206.5 707,206.2 711,206 715,206 719,206 719,231 715,231 711,231 707,231.2 703,231.5 699,231.8 695,232.1 691,232.4 687,232.7 683,233 679,233.3 675,233.6 671,233.9 667,234.2 663,234.5 659,234.8 655,235.1 651,235.4 647,235.7 643,236.1 639,236.4 635,236.8 631,237.2 627,237.7 623,238.1 619,238.6 615,239.2 611,239.8 607,240.5 603,241.2 599,242 595,242.9 591,243.8 587,244.7 583,245.7 579,246.6 575,247.5 571,248.4 567,249.2 563,249.9 559,250.7 555,251.4 551,252 547,252.7 543,253.3 539,254 535,254.6 531,255.2 527,255.8 523,256.5 519,257.1 515,257.7 511,258.3 507,258.9 503,259.6 499,260.2 495,260.9 491,261.5 487,262.2 483,262.9 479,263.7 475,264.5 471,265.5 467,266.6 463,267.8 459,269.1 455,270.4 451,271.5 447,272.4 443,273.3 439,274 435,274.6 431,275.2 427,275.8 423,276.4 419,277 415,277.5 411,278 407,278.5 403,279.1 399,279.6 395,280.1 391,280.6 387,281 383,281.5 379,282 375,282.5 371,283 367,283.5 363,284 359,284.5 355,285.1 351,285.7 347,286.3 343,286.9 339,287.5 335,288.1 331,288.6 327,288.9 323,289.2 319,289.4 315,289.6 311,289.7 307,289.8 303,289.9 299,289.9 295,289.9 291,289.9 287,289.9 283,289.9 279,289.9 275,289.8 271,289.8 267,289.7 263,289.6 259,289.6 255,289.5 251,289.4 247,289.4 243,289.3 239,289.2 235,289.1 231,288.9 227,288.8 223,288.7 219,288.5 215,288.3 211,288.1 207,287.9 203,287.7 199,287.4 195,287.2 191,286.9 187,286.7 183,286.4 179,286.1 175,285.8 171,285.5 167,285.1 163,284.8 159,284.4 155,284 151,283.5 147,283 143,282.4 139,281.8 135,281.2 131,280.4 127,279.6 123,278.7 119,277.7 115,276.7 111,275.7 107,274.6 103,273.6 99,272.6 95,271.6 91,270.7 87,269.9 83,269 79,268.2 75,267.4 71,266.7 67,265.9 63,265.1 59,264.4 55,263.5 51,262.7 47,261.9 43,260.9 39,259.9 35,258.9 31,257.7 27,256.5 23,255.2 19,253.9 15,252.5 11,251.1 7,249.8 3,248.5 -1,248.5 -5,248.5 -9,248.5Z" fill="#d86253"/>
<path d="M-9,233.2 -5,233.2 -1,233.2 3,233.2 7,234.4 11,235.6 15,236.9 19,238.1 23,239.4 27,240.5 31,241.7 35,242.8 39,243.8 43,244.7 47,245.6 51,246.5 55,247.4 59,248.2 63,249 67,249.8 71,250.6 75,251.3 79,252.1 83,252.9 87,253.7 91,254.6 95,255.4 99,256.3 103,257.3 107,258.2 111,259.1 115,260 119,260.9 123,261.8 127,262.6 131,263.4 135,264.1 139,264.8 143,265.4 147,265.9 151,266.5 155,266.9 159,267.4 163,267.7 167,268.1 171,268.4 175,268.7 179,269 183,269.3 187,269.5 191,269.7 195,270 199,270.2 203,270.5 207,270.7 211,270.9 215,271.1 219,271.3 223,271.4 227,271.6 231,271.7 235,271.8 239,271.9 243,272 247,272.1 251,272.2 255,272.3 259,272.3 263,272.4 267,272.4 271,272.5 275,272.5 279,272.5 283,272.5 287,272.5 291,272.4 295,272.3 299,272.2 303,272.1 307,272 311,271.8 315,271.6 319,271.4 323,271.1 327,270.7 331,270.3 335,269.8 339,269.2 343,268.6 347,268 351,267.4 355,266.9 359,266.4 363,265.9 367,265.4 371,264.9 375,264.4 379,263.9 383,263.4 387,262.9 391,262.4 395,261.9 399,261.3 403,260.8 407,260.3 411,259.7 415,259.2 419,258.7 423,258.1 427,257.6 431,257 435,256.4 439,255.9 443,255.2 447,254.5 451,253.7 455,252.8 459,251.7 463,250.6 467,249.5 471,248.6 475,247.8 479,247 483,246.4 487,245.7 491,245.1 495,244.6 499,244 503,243.4 507,242.9 511,242.3 515,241.8 519,241.2 523,240.6 527,240 531,239.3 535,238.6 539,237.9 543,237.2 547,236.5 551,235.8 555,235.1 559,234.4 563,233.6 567,232.8 571,232 575,231.1 579,230.2 583,229.2 587,228.1 591,227.1 595,226.2 599,225.4 603,224.6 607,223.8 611,223 615,222.3 619,221.7 623,221.2 627,220.7 631,220.2 635,219.8 639,219.5 643,219.1 647,218.8 651,218.5 655,218.2 659,217.9 663,217.6 667,217.3 671,217.1 675,216.8 679,216.5 683,216.2 687,216 691,215.7 695,215.4 699,215.1 703,214.9 707,214.6 711,214.4 715,214.4 719,214.4 719,231 715,231 711,231 707,231.2 703,231.5 699,231.8 695,232.1 691,232.4 687,232.7 683,233 679,233.3 675,233.6 671,233.9 667,234.2 663,234.5 659,234.8 655,235.1 651,235.4 647,235.7 643,236.1 639,236.4 635,236.8 631,237.2 627,237.7 623,238.1 619,238.6 615,239.2 611,239.8 607,240.5 603,241.2 599,242 595,242.9 591,243.8 587,244.7 583,245.7 579,246.6 575,247.5 571,248.4 567,249.2 563,249.9 559,250.7 555,251.4 551,252 547,252.7 543,253.3 539,254 535,254.6 531,255.2 527,255.8 523,256.5 519,257.1 515,257.7 511,258.3 507,258.9 503,259.6 499,260.2 495,260.9 491,261.5 487,262.2 483,262.9 479,263.7 475,264.5 471,265.5 467,266.6 463,267.8 459,269.1 455,270.4 451,271.5 447,272.4 443,273.3 439,274 435,274.6 431,275.2 427,275.8 423,276.4 419,277 415,277.5 411,278 407,278.5 403,279.1 399,279.6 395,280.1 391,280.6 387,281 383,281.5 379,282 375,282.5 371,283 367,283.5 363,284 359,284.5 355,285.1 351,285.7 347,286.3 343,286.9 339,287.5 335,288.1 331,288.6 327,288.9 323,289.2 319,289.4 315,289.6 311,289.7 307,289.8 303,289.9 299,289.9 295,289.9 291,289.9 287,289.9 283,289.9 279,289.9 275,289.8 271,289.8 267,289.7 263,289.6 259,289.6 255,289.5 251,289.4 247,289.4 243,289.3 239,289.2 235,289.1 231,288.9 227,288.8 223,288.7 219,288.5 215,288.3 211,288.1 207,287.9 203,287.7 199,287.4 195,287.2 191,286.9 187,286.7 183,286.4 179,286.1 175,285.8 171,285.5 167,285.1 163,284.8 159,284.4 155,284 151,283.5 147,283 143,282.4 139,281.8 135,281.2 131,280.4 127,279.6 123,278.7 119,277.7 115,276.7 111,275.7 107,274.6 103,273.6 99,272.6 95,271.6 91,270.7 87,269.9 83,269 79,268.2 75,267.4 71,266.7 67,265.9 63,265.1 59,264.4 55,263.5 51,262.7 47,261.9 43,260.9 39,259.9 35,258.9 31,257.7 27,256.5 23,255.2 19,253.9 15,252.5 11,251.1 7,249.8 3,248.5 -1,248.5 -5,248.5 -9,248.5Z" fill="#db6c5c"/>
<path d="M-9,240.9 -5,240.9 -1,240.9 3,240.9 7,242.1 11,243.4 15,244.7 19,246 23,247.3 27,248.5 31,249.7 35,250.8 39,251.9 43,252.8 47,253.8 51,254.6 55,255.5 59,256.3 63,257.1 67,257.8 71,258.6 75,259.4 79,260.2 83,261 87,261.8 91,262.7 95,263.5 99,264.5 103,265.4 107,266.4 111,267.4 115,268.4 119,269.3 123,270.2 127,271.1 131,271.9 135,272.6 139,273.3 143,273.9 147,274.5 151,275 155,275.4 159,275.9 163,276.3 167,276.6 171,276.9 175,277.3 179,277.5 183,277.8 187,278.1 191,278.3 195,278.6 199,278.8 203,279.1 207,279.3 211,279.5 215,279.7 219,279.9 223,280 227,280.2 231,280.3 235,280.4 239,280.6 243,280.7 247,280.7 251,280.8 255,280.9 259,281 263,281 267,281.1 271,281.1 275,281.1 279,281.2 283,281.2 287,281.2 291,281.2 295,281.1 299,281.1 303,281 307,280.9 311,280.8 315,280.6 319,280.4 323,280.2 327,279.8 331,279.4 335,279 339,278.4 343,277.8 347,277.1 351,276.5 355,276 359,275.4 363,274.9 367,274.4 371,273.9 375,273.5 379,273 383,272.5 387,272 391,271.5 395,271 399,270.4 403,269.9 407,269.4 411,268.9 415,268.3 419,267.8 423,267.3 427,266.7 431,266.1 435,265.5 439,264.9 443,264.2 447,263.5 451,262.6 455,261.6 459,260.4 463,259.2 467,258 471,257 475,256.1 479,255.4 483,254.6 487,254 491,253.3 495,252.7 499,252.1 503,251.5 507,250.9 511,250.3 515,249.7 519,249.1 523,248.5 527,247.9 531,247.3 535,246.6 539,245.9 543,245.3 547,244.6 551,243.9 555,243.2 559,242.5 563,241.8 567,241 571,240.2 575,239.3 579,238.4 583,237.4 587,236.4 591,235.4 595,234.6 599,233.7 603,232.9 607,232.1 611,231.4 615,230.7 619,230.2 623,229.6 627,229.2 631,228.7 635,228.3 639,228 643,227.6 647,227.3 651,226.9 655,226.6 659,226.3 663,226 667,225.7 671,225.5 675,225.2 679,224.9 683,224.6 687,224.4 691,224.1 695,223.8 699,223.5 703,223.2 707,222.9 711,222.7 715,222.7 719,222.7 719,231 715,231 711,231 707,231.2 703,231.5 699,231.8 695,232.1 691,232.4 687,232.7 683,233 679,233.3 675,233.6 671,233.9 667,234.2 663,234.5 659,234.8 655,235.1 651,235.4 647,235.7 643,236.1 639,236.4 635,236.8 631,237.2 627,237.7 623,238.1 619,238.6 615,239.2 611,239.8 607,240.5 603,241.2 599,242 595,242.9 591,243.8 587,244.7 583,245.7 579,246.6 575,247.5 571,248.4 567,249.2 563,249.9 559,250.7 555,251.4 551,252 547,252.7 543,253.3 539,254 535,254.6 531,255.2 527,255.8 523,256.5 519,257.1 515,257.7 511,258.3 507,258.9 503,259.6 499,260.2 495,260.9 491,261.5 487,262.2 483,262.9 479,263.7 475,264.5 471,265.5 467,266.6 463,267.8 459,269.1 455,270.4 451,271.5 447,272.4 443,273.3 439,274 435,274.6 431,275.2 427,275.8 423,276.4 419,277 415,277.5 411,278 407,278.5 403,279.1 399,279.6 395,280.1 391,280.6 387,281 383,281.5 379,282 375,282.5 371,283 367,283.5 363,284 359,284.5 355,285.1 351,285.7 347,286.3 343,286.9 339,287.5 335,288.1 331,288.6 327,288.9 323,289.2 319,289.4 315,289.6 311,289.7 307,289.8 303,289.9 299,289.9 295,289.9 291,289.9 287,289.9 283,289.9 279,289.9 275,289.8 271,289.8 267,289.7 263,289.6 259,289.6 255,289.5 251,289.4 247,289.4 243,289.3 239,289.2 235,289.1 231,288.9 227,288.8 223,288.7 219,288.5 215,288.3 211,288.1 207,287.9 203,287.7 199,287.4 195,287.2 191,286.9 187,286.7 183,286.4 179,286.1 175,285.8 171,285.5 167,285.1 163,284.8 159,284.4 155,284 151,283.5 147,283 143,282.4 139,281.8 135,281.2 131,280.4 127,279.6 123,278.7 119,277.7 115,276.7 111,275.7 107,274.6 103,273.6 99,272.6 95,271.6 91,270.7 87,269.9 83,269 79,268.2 75,267.4 71,266.7 67,265.9 63,265.1 59,264.4 55,263.5 51,262.7 47,261.9 43,260.9 39,259.9 35,258.9 31,257.7 27,256.5 23,255.2 19,253.9 15,252.5 11,251.1 7,249.8 3,248.5 -1,248.5 -5,248.5 -9,248.5Z" fill="#de7765"/>
</g>
<g filter="url(#fSoft2)" opacity="0.2">
<path d="M480,149 484,148.9 488,148.9 492,148.9 496,148.9 500,148.8 504,148.8 508,148.7 512,148.5 516,148.2 520,147.8 524,147.2 528,146.4 532,145.5 536,144.4 540,143.2 544,142.1 548,141 552,140 556,139.1 560,138.2 564,137.3 568,136.4 572,135.5 576,134.6 580,133.5 584,132.1 588,129.8 592,128.5 596,128.2 600,127.5 604,126.4 608,125 612,123.8 616,122.7 620,121.9 624,121.2 628,120.7 632,120.3 636,120 640,119.7 644,119.4 648,119.2 652,119 656,118.8 660,118.6 664,118.4 668,118.3 672,118.1 676,117.9 680,117.8 684,117.6 688,117.4 692,117.3 696,117.1 700,116.9 704,116.8 708,116.6 708,184.1 704,184.4 700,184.6 696,184.9 692,185.1 688,185.4 684,185.6 680,185.8 676,186.1 672,186.3 668,186.6 664,186.8 660,187.1 656,187.3 652,187.6 648,187.9 644,188.2 640,188.5 636,188.8 632,189.2 628,189.6 624,190.1 620,190.7 616,191.3 612,192.1 608,193 604,194 600,194.9 596,194.1 592,193.2 588,192.6 584,192.5 580,192 576,191.4 572,190.6 568,189.8 564,188.9 560,188 556,187.1 552,186.1 548,185.2 544,184.2 540,183.3 536,182.4 532,181.4 528,180.3 524,179 520,177.6 516,175.9 512,174.1 508,172.1 504,169.9 500,167.5 496,164.9 492,162.1 488,158.9 484,155.1 480,149Z" fill="#b81c1c"/>
</g>
<g fill="none" stroke="#a42c2c" stroke-width="0.7" opacity="0.3">
<path d="M5,205 C30,212 60,222 95,228 C120,233 140,244 160,256 C175,264 190,272 200,282"/>
<path d="M95,228 C105,222 115,214 125,200"/>
<path d="M118,218 C120,232 122,245 121,258"/>
<path d="M100,232 C112,240 120,248 130,262"/>
<path d="M160,256 C190,250 220,245 250,240 C280,235 320,226 352,220 C380,216 400,218 421,218 C450,216 480,212 507,213 C540,214 570,216 597,215.5 C630,214 670,210 707,205"/>
<path d="M200,282 C230,270 260,262 300,258 C330,255 360,250 390,246"/>
<path d="M250,240 C255,225 262,210 270,196"/>
<path d="M300,258 C305,245 315,235 330,228"/>
<path d="M420,218 C430,230 440,242 450,262"/>
<path d="M501.8,195 C506,207 510,219 512,230.5 C515,240 520,248 530,252"/>
<path d="M560,190 C575,198 590,206 597,215.5"/>
<path d="M640,214 C645,225 652,232 662,236"/>
<path d="M330,190 C350,195 370,200 390,208"/>
<path d="M40,250 C60,245 80,240 95,228"/>
<path d="M600,240 C620,232 640,226 660,222"/>
</g>
<g fill="#b03030" opacity="0.35" filter="url(#fSoft)">
<ellipse cx="60.3" cy="230.3" rx="6.0" ry="4.0"/>
<ellipse cx="178.0" cy="225.0" rx="6.0" ry="4.0"/>
<ellipse cx="231.0" cy="263.0" rx="5.0" ry="3.5"/>
<ellipse cx="322.0" cy="215.0" rx="5.0" ry="3.5"/>
<ellipse cx="300.0" cy="200.0" rx="5.0" ry="3.0"/>
<ellipse cx="480.0" cy="200.0" rx="5.0" ry="3.0"/>
<ellipse cx="640.0" cy="240.0" rx="5.0" ry="3.0"/>
<ellipse cx="455.0" cy="258.0" rx="5.0" ry="3.0"/>
</g>
<g filter="url(#fSoft)">
<path d="M-9,244.5 -5,244.5 -1,244.5 3,244.5 7,245.8 11,247.1 15,248.5 19,249.9 23,251.2 27,252.5 31,253.7 35,254.9 39,255.9 43,256.9 47,257.9 51,258.7 55,259.5 59,260.4 63,261.1 67,261.9 71,262.7 75,263.4 79,264.2 83,265 87,265.9 91,266.7 95,267.6 99,268.6 103,269.6 107,270.6 111,271.7 115,272.7 119,273.7 123,274.7 127,275.6 131,276.4 135,277.2 139,277.8 143,278.4 147,279 151,279.5 155,280 159,280.4 163,280.8 167,281.1 171,281.5 175,281.8 179,282.1 183,282.4 187,282.7 191,282.9 195,283.2 199,283.4 203,283.7 207,283.9 211,284.1 215,284.3 219,284.5 223,284.7 227,284.8 231,284.9 235,285.1 239,285.2 243,285.3 247,285.4 251,285.4 255,285.5 259,285.6 263,285.6 267,285.7 271,285.8 275,285.8 279,285.9 283,285.9 287,285.9 291,285.9 295,285.9 299,285.9 303,285.9 307,285.8 311,285.7 315,285.6 319,285.4 323,285.2 327,284.9 331,284.6 335,284.1 339,283.5 343,282.9 347,282.3 351,281.7 355,281.1 359,280.5 363,280 367,279.5 371,279 375,278.5 379,278 383,277.5 387,277 391,276.6 395,276.1 399,275.6 403,275.1 407,274.5 411,274 415,273.5 419,273 423,272.4 427,271.8 431,271.2 435,270.6 439,270 443,269.3 447,268.4 451,267.5 455,266.4 459,265.1 463,263.8 467,262.6 471,261.5 475,260.5 479,259.7 483,258.9 487,258.2 491,257.5 495,256.9 499,256.2 503,255.6 507,254.9 511,254.3 515,253.7 519,253.1 523,252.5 527,251.8 531,251.2 535,250.6 539,250 543,249.3 547,248.7 551,248 555,247.4 559,246.7 563,245.9 567,245.2 571,244.4 575,243.5 579,242.6 583,241.7 587,240.7 591,239.8 595,238.9 599,238 603,237.2 607,236.5 611,235.8 615,235.2 619,234.6 623,234.1 627,233.7 631,233.2 635,232.8 639,232.4 643,232.1 647,231.7 651,231.4 655,231.1 659,230.8 663,230.5 667,230.2 671,229.9 675,229.6 679,229.3 683,229 687,228.7 691,228.4 695,228.1 699,227.8 703,227.5 707,227.2 711,227 715,227 719,227 719,240.2 715,240.2 711,240.2 707,240.4 703,240.7 699,241 695,241.3 691,241.6 687,241.9 683,242.1 679,242.4 675,242.7 671,242.9 667,243.2 663,243.5 659,243.8 655,244.1 651,244.4 647,244.7 643,245 639,245.4 635,245.8 631,246.2 627,246.6 623,247.1 619,247.6 615,248.2 611,248.9 607,249.6 603,250.4 599,251.3 595,252.2 591,253.2 587,254.3 583,255.3 579,256.3 575,257.3 571,258.2 567,259 563,259.8 559,260.6 555,261.3 551,261.9 547,262.6 543,263.2 539,263.8 535,264.4 531,264.9 527,265.5 523,266.1 519,266.7 515,267.2 511,267.8 507,268.4 503,269 499,269.6 495,270.2 491,270.8 487,271.5 483,272.1 479,272.9 475,273.7 471,274.7 467,275.8 463,277.1 459,278.5 455,279.8 451,281 447,281.9 443,282.7 439,283.4 435,284 431,284.5 427,285 423,285.5 419,286 415,286.4 411,286.9 407,287.3 403,287.7 399,288.1 395,288.5 391,288.9 387,289.3 383,289.7 379,290.1 375,290.5 371,290.9 367,291.3 363,291.7 359,292.1 355,292.5 351,293 347,293.4 343,293.8 339,294.3 335,294.7 331,295 327,295.3 323,295.5 319,295.8 315,295.9 311,296.1 307,296.3 303,296.4 299,296.6 295,296.7 291,296.8 287,296.9 283,297 279,297.1 275,297.1 271,297.2 267,297.2 263,297.3 259,297.3 255,297.3 251,297.3 247,297.3 243,297.3 239,297.3 235,297.3 231,297.3 227,297.2 223,297.2 219,297.1 215,297 211,296.8 207,296.7 203,296.5 199,296.2 195,296 191,295.7 187,295.4 183,295.1 179,294.8 175,294.4 171,294.1 167,293.7 163,293.3 159,292.8 155,292.4 151,291.9 147,291.4 143,290.8 139,290.3 135,289.6 131,289 127,288.3 123,287.5 119,286.7 115,285.9 111,285 107,284.1 103,283.2 99,282.3 95,281.4 91,280.5 87,279.6 83,278.7 79,277.8 75,276.8 71,275.9 67,274.9 63,273.9 59,273 55,271.9 51,270.9 47,269.9 43,268.8 39,267.7 35,266.6 31,265.4 27,264.2 23,262.9 19,261.7 15,260.4 11,259 7,257.8 3,256.5 -1,256.5 -5,256.5 -9,256.5Z" fill="#d95747"/>
<path d="M-9,248.5 -5,248.5 -1,248.5 3,248.5 7,249.8 11,251.1 15,252.5 19,253.8 23,255.1 27,256.4 31,257.6 35,258.8 39,259.9 43,260.9 47,261.9 51,262.8 55,263.7 59,264.6 63,265.4 67,266.2 71,267.1 75,267.9 79,268.7 83,269.6 87,270.4 91,271.3 95,272.2 99,273.2 103,274.2 107,275.1 111,276.1 115,277.1 119,278 123,278.9 127,279.8 131,280.6 135,281.3 139,282 143,282.6 147,283.1 151,283.6 155,284.1 159,284.5 163,284.9 167,285.3 171,285.7 175,286 179,286.3 183,286.6 187,286.9 191,287.2 195,287.5 199,287.7 203,287.9 207,288.2 211,288.4 215,288.5 219,288.7 223,288.8 227,288.9 231,289.1 235,289.1 239,289.2 243,289.3 247,289.4 251,289.4 255,289.5 259,289.5 263,289.5 267,289.6 271,289.6 275,289.6 279,289.6 283,289.6 287,289.6 291,289.6 295,289.5 299,289.5 303,289.4 307,289.3 311,289.2 315,289.1 319,288.9 323,288.7 327,288.4 331,288 335,287.6 339,287.1 343,286.5 347,286 351,285.4 355,284.9 359,284.4 363,283.9 367,283.4 371,283 375,282.5 379,282.1 383,281.6 387,281.1 391,280.7 395,280.2 399,279.7 403,279.3 407,278.8 411,278.3 415,277.8 419,277.3 423,276.8 427,276.2 431,275.7 435,275.1 439,274.4 443,273.7 447,272.9 451,272 455,270.9 459,269.6 463,268.3 467,267 471,265.9 475,264.9 479,264.1 483,263.3 487,262.6 491,261.9 495,261.3 499,260.7 503,260 507,259.4 511,258.8 515,258.2 519,257.6 523,257 527,256.4 531,255.8 535,255.2 539,254.6 543,254 547,253.3 551,252.7 555,252 559,251.3 563,250.6 567,249.8 571,249 575,248.1 579,247.1 583,246.2 587,245.2 591,244.3 595,243.3 599,242.5 603,241.6 607,240.9 611,240.2 615,239.5 619,239 623,238.5 627,238 631,237.5 635,237.1 639,236.8 643,236.4 647,236 651,235.7 655,235.4 659,235.1 663,234.8 667,234.5 671,234.2 675,233.9 679,233.7 683,233.4 687,233.1 691,232.8 695,232.5 699,232.2 703,231.9 707,231.6 711,231.4 715,231.4 719,231.4 719,240.2 715,240.2 711,240.2 707,240.4 703,240.7 699,241 695,241.3 691,241.6 687,241.9 683,242.1 679,242.4 675,242.7 671,242.9 667,243.2 663,243.5 659,243.8 655,244.1 651,244.4 647,244.7 643,245 639,245.4 635,245.8 631,246.2 627,246.6 623,247.1 619,247.6 615,248.2 611,248.9 607,249.6 603,250.4 599,251.3 595,252.2 591,253.2 587,254.3 583,255.3 579,256.3 575,257.3 571,258.2 567,259 563,259.8 559,260.6 555,261.3 551,261.9 547,262.6 543,263.2 539,263.8 535,264.4 531,264.9 527,265.5 523,266.1 519,266.7 515,267.2 511,267.8 507,268.4 503,269 499,269.6 495,270.2 491,270.8 487,271.5 483,272.1 479,272.9 475,273.7 471,274.7 467,275.8 463,277.1 459,278.5 455,279.8 451,281 447,281.9 443,282.7 439,283.4 435,284 431,284.5 427,285 423,285.5 419,286 415,286.4 411,286.9 407,287.3 403,287.7 399,288.1 395,288.5 391,288.9 387,289.3 383,289.7 379,290.1 375,290.5 371,290.9 367,291.3 363,291.7 359,292.1 355,292.5 351,293 347,293.4 343,293.8 339,294.3 335,294.7 331,295 327,295.3 323,295.5 319,295.8 315,295.9 311,296.1 307,296.3 303,296.4 299,296.6 295,296.7 291,296.8 287,296.9 283,297 279,297.1 275,297.1 271,297.2 267,297.2 263,297.3 259,297.3 255,297.3 251,297.3 247,297.3 243,297.3 239,297.3 235,297.3 231,297.3 227,297.2 223,297.2 219,297.1 215,297 211,296.8 207,296.7 203,296.5 199,296.2 195,296 191,295.7 187,295.4 183,295.1 179,294.8 175,294.4 171,294.1 167,293.7 163,293.3 159,292.8 155,292.4 151,291.9 147,291.4 143,290.8 139,290.3 135,289.6 131,289 127,288.3 123,287.5 119,286.7 115,285.9 111,285 107,284.1 103,283.2 99,282.3 95,281.4 91,280.5 87,279.6 83,278.7 79,277.8 75,276.8 71,275.9 67,274.9 63,273.9 59,273 55,271.9 51,270.9 47,269.9 43,268.8 39,267.7 35,266.6 31,265.4 27,264.2 23,262.9 19,261.7 15,260.4 11,259 7,257.8 3,256.5 -1,256.5 -5,256.5 -9,256.5Z" fill="#dc5d4d"/>
<path d="M-9,252.5 -5,252.5 -1,252.5 3,252.5 7,253.8 11,255.1 15,256.4 19,257.7 23,259 27,260.3 31,261.5 35,262.7 39,263.8 43,264.9 47,265.9 51,266.9 55,267.8 59,268.8 63,269.7 67,270.6 71,271.5 75,272.4 79,273.3 83,274.2 87,275 91,275.9 95,276.8 99,277.8 103,278.7 107,279.6 111,280.6 115,281.5 119,282.4 123,283.2 127,284 131,284.8 135,285.5 139,286.1 143,286.7 147,287.2 151,287.8 155,288.2 159,288.7 163,289.1 167,289.5 171,289.9 175,290.2 179,290.6 183,290.9 187,291.2 191,291.5 195,291.7 199,292 203,292.2 207,292.4 211,292.6 215,292.7 219,292.9 223,293 227,293.1 231,293.2 235,293.2 239,293.3 243,293.3 247,293.4 251,293.4 255,293.4 259,293.4 263,293.4 267,293.4 271,293.4 275,293.4 279,293.3 283,293.3 287,293.2 291,293.2 295,293.1 299,293 303,292.9 307,292.8 311,292.7 315,292.5 319,292.3 323,292.1 327,291.8 331,291.5 335,291.1 339,290.7 343,290.2 347,289.7 351,289.2 355,288.7 359,288.2 363,287.8 367,287.4 371,286.9 375,286.5 379,286.1 383,285.7 387,285.2 391,284.8 395,284.4 399,283.9 403,283.5 407,283 411,282.6 415,282.1 419,281.6 423,281.1 427,280.6 431,280.1 435,279.5 439,278.9 443,278.2 447,277.4 451,276.5 455,275.4 459,274.1 463,272.7 467,271.4 471,270.3 475,269.3 479,268.5 483,267.7 487,267 491,266.4 495,265.7 499,265.1 503,264.5 507,263.9 511,263.3 515,262.7 519,262.1 523,261.5 527,261 531,260.4 535,259.8 539,259.2 543,258.6 547,257.9 551,257.3 555,256.6 559,255.9 563,255.2 567,254.4 571,253.6 575,252.7 579,251.7 583,250.7 587,249.7 591,248.8 595,247.8 599,246.9 603,246 607,245.2 611,244.5 615,243.9 619,243.3 623,242.8 627,242.3 631,241.9 635,241.5 639,241.1 643,240.7 647,240.4 651,240.1 655,239.7 659,239.4 663,239.1 667,238.9 671,238.6 675,238.3 679,238 683,237.8 687,237.5 691,237.2 695,236.9 699,236.6 703,236.3 707,236 711,235.8 715,235.8 719,235.8 719,240.2 715,240.2 711,240.2 707,240.4 703,240.7 699,241 695,241.3 691,241.6 687,241.9 683,242.1 679,242.4 675,242.7 671,242.9 667,243.2 663,243.5 659,243.8 655,244.1 651,244.4 647,244.7 643,245 639,245.4 635,245.8 631,246.2 627,246.6 623,247.1 619,247.6 615,248.2 611,248.9 607,249.6 603,250.4 599,251.3 595,252.2 591,253.2 587,254.3 583,255.3 579,256.3 575,257.3 571,258.2 567,259 563,259.8 559,260.6 555,261.3 551,261.9 547,262.6 543,263.2 539,263.8 535,264.4 531,264.9 527,265.5 523,266.1 519,266.7 515,267.2 511,267.8 507,268.4 503,269 499,269.6 495,270.2 491,270.8 487,271.5 483,272.1 479,272.9 475,273.7 471,274.7 467,275.8 463,277.1 459,278.5 455,279.8 451,281 447,281.9 443,282.7 439,283.4 435,284 431,284.5 427,285 423,285.5 419,286 415,286.4 411,286.9 407,287.3 403,287.7 399,288.1 395,288.5 391,288.9 387,289.3 383,289.7 379,290.1 375,290.5 371,290.9 367,291.3 363,291.7 359,292.1 355,292.5 351,293 347,293.4 343,293.8 339,294.3 335,294.7 331,295 327,295.3 323,295.5 319,295.8 315,295.9 311,296.1 307,296.3 303,296.4 299,296.6 295,296.7 291,296.8 287,296.9 283,297 279,297.1 275,297.1 271,297.2 267,297.2 263,297.3 259,297.3 255,297.3 251,297.3 247,297.3 243,297.3 239,297.3 235,297.3 231,297.3 227,297.2 223,297.2 219,297.1 215,297 211,296.8 207,296.7 203,296.5 199,296.2 195,296 191,295.7 187,295.4 183,295.1 179,294.8 175,294.4 171,294.1 167,293.7 163,293.3 159,292.8 155,292.4 151,291.9 147,291.4 143,290.8 139,290.3 135,289.6 131,289 127,288.3 123,287.5 119,286.7 115,285.9 111,285 107,284.1 103,283.2 99,282.3 95,281.4 91,280.5 87,279.6 83,278.7 79,277.8 75,276.8 71,275.9 67,274.9 63,273.9 59,273 55,271.9 51,270.9 47,269.9 43,268.8 39,267.7 35,266.6 31,265.4 27,264.2 23,262.9 19,261.7 15,260.4 11,259 7,257.8 3,256.5 -1,256.5 -5,256.5 -9,256.5Z" fill="#df6353"/>
</g>
</g>
<path d="M2,146.9 3,145.2 4,144.7 5,144.5 6,144.3 6,144.3 11.2,144.3 16.4,144.9 21.6,145.6 26.8,146.4 32,148 32,148 33,148.4 34,149 35,149.8 36,151.6 36,151.6 35,153.2 34,153.6 33,153.8 32,154 32,154 26.8,153.8 21.6,153.2 16.4,152.6 11.2,151.8 6,150.4 6,150.4 5,149.9 4,149.4 3,148.6 2,146.9Z" fill="#f5c3b4"/>
<path d="M4,146.1 5,146.1 6,146.1 6,146.1 11.2,146.5 16.4,147.2 21.6,147.9 26.8,148.7 32,149.8 32,149.8 33,150 34,150.4" fill="none" stroke="#fbe3da" stroke-width="1.3" stroke-linecap="round" opacity="0.7"/>
<path d="M40,152.4 41,151.7 42,151.5 43,151.4 44,151.4 44,151.4 48.9,151.7 53.7,152.3 58.6,153.1 63.5,154 68.3,155 73.2,156 78.1,156.9 83,157.9 87.8,158.8 92.7,159.5 97.6,160.1 102.4,160.6 107.3,160.9 112.2,161.3 117,161.6 121.9,161.9 126.8,162.4 131.7,163 136.5,163.9 141.4,165 146.3,166.1 151.1,167.4 156,168.7 156,168.7 157,169 158,169.4 159,169.8 160,170.9 160,170.9 159,171.7 158,172.1 157,172.3 156,172.5 156,172.5 151.1,173.1 146.3,173.7 141.4,174.2 136.5,174.4 131.7,174.4 126.8,174.1 121.9,173.7 117,173.2 112.2,172.5 107.3,171.8 102.4,171 97.6,170.2 92.7,169.2 87.8,168.2 83,167.1 78.1,165.9 73.2,164.6 68.3,163.2 63.5,161.7 58.6,160.2 53.7,158.6 48.9,156.9 44,155.1 44,155.1 43,154.6 42,154.1 41,153.5 40,152.4Z" fill="#f5c3b4"/>
<path d="M42,152.3 43,152.4 44,152.5 44,152.5 48.9,153.3 53.7,154.2 58.6,155.2 63.5,156.3 68.3,157.4 73.2,158.5 78.1,159.6 83,160.7 87.8,161.6 92.7,162.4 97.6,163.1 102.4,163.7 107.3,164.2 112.2,164.6 117,165 121.9,165.4 126.8,165.9 131.7,166.4 136.5,167.1 141.4,167.7 146.3,168.4 151.1,169.1 156,169.8 156,169.8 157,170 158,170.2" fill="none" stroke="#fbe3da" stroke-width="1.3" stroke-linecap="round" opacity="0.7"/>
<path d="M164,171.1 165,168.8 166,168.1 167,167.8 168,167.6 168,167.6 170.7,167.6 173.3,167.7 176,168 176,168 177,168.2 178,168.7 179,169.5 180,172.2 180,172.2 179,174.7 178,175.4 177,175.8 176,175.9 176,175.9 173.3,175.8 170.7,175.6 168,175.2 168,175.2 167,174.9 166,174.4 165,173.6 164,171.1Z" fill="#f5c3b4"/>
<path d="M166,170 167,169.9 168,169.9 168,169.9 170.7,170 173.3,170.1 176,170.3 176,170.3 177,170.5 178,170.7" fill="none" stroke="#fbe3da" stroke-width="1.3" stroke-linecap="round" opacity="0.7"/>
<path d="M184,172.4 185,171.4 186,171 187,170.7 188,170.5 188,170.5 193,169.8 198,169.4 203,169.2 208,169.2 213,169.2 218,169.3 223,169.5 228,169.7 233,169.8 238,170 243,170.1 248,170.2 253,170.2 258,170.3 263,170.4 268,170.5 273,170.6 278,170.7 283,170.9 288,171.3 288,171.3 289,171.4 290,171.7 291,172 292,173 292,173 291,174.2 290,174.7 289,175.2 288,175.6 288,175.6 283,177.1 278,178.3 273,179.3 268,180.2 263,180.8 258,181.3 253,181.5 248,181.6 243,181.5 238,181.3 233,181 228,180.6 223,180.2 218,179.8 213,179.2 208,178.6 203,178 198,177.2 193,176.2 188,174.9 188,174.9 187,174.6 186,174.2 185,173.6 184,172.4Z" fill="#f5c3b4"/>
<path d="M186,171.9 187,171.9 188,171.8 188,171.8 193,171.7 198,171.7 203,171.8 208,172 213,172.2 218,172.5 223,172.7 228,173 233,173.2 238,173.4 243,173.5 248,173.6 253,173.6 258,173.6 263,173.5 268,173.4 273,173.2 278,173 283,172.7 288,172.6 288,172.6 289,172.6 290,172.6" fill="none" stroke="#fbe3da" stroke-width="1.3" stroke-linecap="round" opacity="0.7"/>
<path d="M296,172.4 297,170.5 298,169.7 299,169.1 300,168.6 300,168.6 305,167 310,166 315,165.1 320,164.3 325,163.6 330,163.7 330,163.7 331,163.9 332,164.2 333,164.7 334,166.5 334,166.5 333,168.6 332,169.4 331,170.1 330,170.6 330,170.6 325,172.2 320,173.2 315,174 310,174.8 305,175.3 300,175.2 300,175.2 299,175 298,174.6 297,174.1 296,172.4Z" fill="#f5c3b4"/>
<path d="M298,171.2 299,170.9 300,170.6 300,170.6 305,169.5 310,168.6 315,167.8 320,166.9 325,166.2 330,165.8 330,165.8 331,165.7 332,165.8" fill="none" stroke="#fbe3da" stroke-width="1.3" stroke-linecap="round" opacity="0.7"/>
<path d="M338,165.9 339,164.7 340,164.1 341,163.6 342,163.2 342,163.2 346.9,161.7 351.7,160.6 356.6,159.7 361.5,159 366.3,158.3 371.2,157.7 376,157 380.9,156.4 385.8,155.7 390.6,154.9 395.5,154.1 400.4,153.3 405.2,152.5 410.1,151.7 415,151 419.8,150.4 424.7,149.9 429.5,149.6 434.4,149.5 439.3,149.5 444.1,149.9 449,150.6 449,150.6 450,150.8 451,151.1 452,151.4 453,152.4 453,152.4 452,153.4 451,153.8 450,154.1 449,154.3 449,154.3 444.1,155.2 439.3,155.8 434.4,156.4 429.5,157 424.7,157.7 419.8,158.4 415,159.2 410.1,160 405.2,160.9 400.4,161.8 395.5,162.7 390.6,163.6 385.8,164.4 380.9,165.1 376,165.8 371.2,166.4 366.3,166.9 361.5,167.3 356.6,167.6 351.7,167.8 346.9,167.9 342,167.6 342,167.6 341,167.4 340,167.2 339,166.9 338,165.9Z" fill="#f5c3b4"/>
<path d="M340,165 341,164.7 342,164.5 342,164.5 346.9,163.5 351.7,162.7 356.6,162.1 361.5,161.5 366.3,160.9 371.2,160.3 376,159.7 380.9,159 385.8,158.3 390.6,157.5 395.5,156.7 400.4,155.8 405.2,155 410.1,154.2 415,153.5 419.8,152.8 424.7,152.2 429.5,151.8 434.4,151.5 439.3,151.4 444.1,151.5 449,151.7 449,151.7 450,151.8 451,151.9" fill="none" stroke="#fbe3da" stroke-width="1.3" stroke-linecap="round" opacity="0.7"/>
<path d="M457,152.4 458,151.5 459,151.1 460,150.9 461,150.6 461,150.6 466,149.9 471,149.5 476,149.2 481,148.9 486,148.6 491,148.5 496,148.4 501,148.3 506,148.2 511,148 516,147.7 521,147.2 526,146.4 531,145.2 536,143.9 541,142.5 546,141.1 551,139.9 556,138.8 561,137.8 566,136.9 571,136 576,135.2 581,134.4 581,134.4 582,134.2 583,134.1 584,133.9 585,134.1 585,134.1 584,135.3 583,136 582,136.6 581,137.2 581,137.2 576,139.2 571,140.9 566,142.4 561,143.8 556,145.1 551,146.4 546,147.8 541,149.3 536,150.8 531,152.2 526,153.3 521,154.2 516,154.8 511,155.2 506,155.4 501,155.6 496,155.7 491,155.7 486,155.7 481,155.7 476,155.6 471,155.3 466,154.9 461,154.2 461,154.2 460,153.9 459,153.7 458,153.3 457,152.4Z" fill="#f5c3b4"/>
<path d="M459,151.9 460,151.8 461,151.7 461,151.7 466,151.4 471,151.2 476,151.1 481,150.9 486,150.8 491,150.7 496,150.6 501,150.5 506,150.4 511,150.2 516,149.8 521,149.3 526,148.4 531,147.3 536,146 541,144.5 546,143.1 551,141.8 556,140.7 561,139.6 566,138.5 571,137.5 576,136.4 581,135.2 581,135.2 582,135 583,134.7" fill="none" stroke="#fbe3da" stroke-width="1.3" stroke-linecap="round" opacity="0.7"/>
<path d="M589,131.8 590,130.7 591,130.2 592,129.8 593,129.5 593,129.5 597.9,128.5 602.9,127 607.8,125.1 612.7,123.4 617.7,122.1 622.6,121.1 627.5,120.3 632.5,119.8 637.4,119.4 642.3,119 647.3,118.7 652.2,118.5 657.2,118.2 662.1,118 667,117.8 672,117.7 676.9,117.5 681.8,117.5 686.8,117.5 691.7,117.5 696.6,117.7 701.6,118.1 706.5,118.8 706.5,118.8 707.5,119 708.5,119.3 709.5,119.7 710.5,120.9 710.5,120.9 709.5,122.1 708.5,122.6 707.5,123 706.5,123.3 706.5,123.3 701.6,124.5 696.6,125.3 691.7,125.9 686.8,126.4 681.8,126.8 676.9,127.2 672,127.5 667,127.8 662.1,128 657.2,128.3 652.2,128.5 647.3,128.8 642.3,129.1 637.4,129.3 632.5,129.6 627.5,129.9 622.6,130.2 617.7,130.6 612.7,131.1 607.8,131.6 602.9,132.2 597.9,132.4 593,132.2 593,132.2 592,132.1 591,132.1 590,132.1 589,131.8Z" fill="#f5c3b4"/>
<path d="M591,130.7 592,130.5 593,130.3 593,130.3 597.9,129.7 602.9,128.6 607.8,127.1 612.7,125.7 617.7,124.7 622.6,123.8 627.5,123.2 632.5,122.7 637.4,122.4 642.3,122 647.3,121.8 652.2,121.5 657.2,121.3 662.1,121 667,120.8 672,120.6 676.9,120.4 681.8,120.3 686.8,120.1 691.7,120 696.6,120 701.6,120 706.5,120.1 706.5,120.1 707.5,120.2 708.5,120.3" fill="none" stroke="#fbe3da" stroke-width="1.3" stroke-linecap="round" opacity="0.7"/>
<path d="M2,242.6 3,241.2 4,241.1 5,241 6,241.1 6,241.1 10.8,242.1 15.7,243.5 20.5,245.2 25.4,247 30.2,248.6 35.1,250.2 39.9,251.5 44.8,252.6 49.6,253.6 54.5,254.6 59.3,255.5 64.2,256.7 69,258.3 69,258.3 70,258.8 71,259.3 72,259.9 73,261.4 73,261.4 72,262.5 71,262.8 70,263 69,263.1 69,263.1 64.2,263 59.3,262.5 54.5,261.8 49.6,260.9 44.8,259.8 39.9,258.7 35.1,257.4 30.2,256 25.4,254.4 20.5,252.7 15.7,250.9 10.8,248.7 6,246.2 6,246.2 5,245.5 4,244.8 3,244 2,242.6Z" fill="#f1b6a4"/>
<path d="M4,242.2 5,242.4 6,242.6 6,242.6 10.8,244.1 15.7,245.7 20.5,247.5 25.4,249.2 30.2,250.8 35.1,252.3 39.9,253.6 44.8,254.8 49.6,255.8 54.5,256.7 59.3,257.6 64.2,258.6 69,259.8 69,259.8 70,260 71,260.3" fill="none" stroke="#f8d8cc" stroke-width="1.3" stroke-linecap="round" opacity="0.7"/>
<path d="M77,262.1 78,261.2 79,260.9 80,260.8 81,260.7 81,260.7 86,260.8 90.9,261.2 95.8,262 100.8,263 105.8,264.2 110.7,265.5 115.7,266.8 120.6,268.1 125.6,269.4 130.5,270.5 135.4,271.6 140.4,272.5 145.4,273.3 150.3,274.1 155.2,274.8 160.2,275.6 165.2,276.3 170.1,277.2 175.1,278.1 180,279.3 180,279.3 181,279.6 182,279.9 183,280.4 184,281.3 184,281.3 183,282.2 182,282.5 181,282.7 180,282.8 180,282.8 175.1,283.1 170.1,283.2 165.2,283 160.2,282.7 155.2,282.3 150.3,281.8 145.4,281.3 140.4,280.6 135.4,279.7 130.5,278.8 125.6,277.7 120.6,276.6 115.7,275.3 110.7,274 105.8,272.7 100.8,271.3 95.8,269.8 90.9,268.3 86,266.8 81,264.9 81,264.9 80,264.5 79,264 78,263.4 77,262.1Z" fill="#f1b6a4"/>
<path d="M79,261.8 80,261.9 81,262 81,262 86,262.6 90.9,263.4 95.8,264.4 100.8,265.5 105.8,266.8 110.7,268.1 115.7,269.4 120.6,270.7 125.6,271.9 130.5,273 135.4,274 140.4,274.9 145.4,275.7 150.3,276.4 155.2,277.1 160.2,277.7 165.2,278.3 170.1,279 175.1,279.6 180,280.3 180,280.3 181,280.5 182,280.7" fill="none" stroke="#f8d8cc" stroke-width="1.3" stroke-linecap="round" opacity="0.7"/>
<path d="M188,281.6 189,280.7 190,280.4 191,280.1 192,280 192,280 197,279.6 202,279.5 207,279.5 212,279.5 217,279.6 222,279.7 227,279.7 232,279.7 237,279.7 242,279.7 247,279.8 252,279.9 257,280.2 262,280.7 267,281.7 267,281.7 268,282 269,282.3 270,282.8 271,284 271,284 270,285.2 269,285.7 268,286 267,286.3 267,286.3 262,287.1 257,287.5 252,287.7 247,287.8 242,287.7 237,287.6 232,287.5 227,287.3 222,287.1 217,286.9 212,286.6 207,286.2 202,285.7 197,285 192,283.9 192,283.9 191,283.6 190,283.2 189,282.7 188,281.6Z" fill="#f1b6a4"/>
<path d="M190,281.2 191,281.2 192,281.1 192,281.1 197,281.2 202,281.3 207,281.5 212,281.6 217,281.8 222,281.9 227,282 232,282 237,282.1 242,282.1 247,282.2 252,282.3 257,282.4 262,282.6 267,283.1 267,283.1 268,283.2 269,283.3" fill="none" stroke="#f8d8cc" stroke-width="1.3" stroke-linecap="round" opacity="0.7"/>
<path d="M275,284.1 276,282.3 277,281.6 278,281.2 279,280.8 279,280.8 284.2,280.1 289.4,280 294.6,280.1 299.8,280.2 305,281 305,281 306,281.3 307,281.7 308,282.4 309,284.2 309,284.2 308,286 307,286.7 306,287.1 305,287.5 305,287.5 299.8,288.3 294.6,288.4 289.4,288.4 284.2,288.3 279,287.4 279,287.4 278,287.1 277,286.6 276,286 275,284.1Z" fill="#f1b6a4"/>
<path d="M277,283.1 278,282.9 279,282.8 279,282.8 284.2,282.6 289.4,282.6 294.6,282.6 299.8,282.7 305,282.9 305,282.9 306,283 307,283.2" fill="none" stroke="#f8d8cc" stroke-width="1.3" stroke-linecap="round" opacity="0.7"/>
<path d="M313,284.1 314,283.1 315,282.6 316,282.3 317,282 317,282 321.9,281 326.7,280.2 331.6,279.4 336.5,278.6 341.3,277.7 346.2,276.9 351.1,276.1 356,275.3 360.8,274.6 365.7,273.9 370.6,273.3 375.4,272.6 380.3,272 385.2,271.3 390,270.7 394.9,270 399.8,269.4 404.7,268.9 409.5,268.3 414.4,267.9 419.3,267.5 424.1,267.3 429,267.4 429,267.4 430,267.6 431,267.7 432,268 433,268.9 433,268.9 432,270.2 431,270.7 430,271.2 429,271.6 429,271.6 424.1,273.2 419.3,274.4 414.4,275.4 409.5,276.3 404.7,277.1 399.8,277.8 394.9,278.5 390,279.1 385.2,279.8 380.3,280.4 375.4,281 370.6,281.6 365.7,282.2 360.8,282.8 356,283.4 351.1,284.1 346.2,284.8 341.3,285.4 336.5,286 331.6,286.4 326.7,286.5 321.9,286.4 317,285.8 317,285.8 316,285.6 315,285.4 314,285 313,284.1Z" fill="#f1b6a4"/>
<path d="M315,283.5 316,283.3 317,283.2 317,283.2 321.9,282.6 326.7,282.1 331.6,281.5 336.5,280.8 341.3,280 346.2,279.2 351.1,278.5 356,277.7 360.8,277.1 365.7,276.4 370.6,275.8 375.4,275.1 380.3,274.5 385.2,273.8 390,273.2 394.9,272.6 399.8,271.9 404.7,271.3 409.5,270.7 414.4,270.1 419.3,269.6 424.1,269.1 429,268.7 429,268.7 430,268.7 431,268.6" fill="none" stroke="#f8d8cc" stroke-width="1.3" stroke-linecap="round" opacity="0.7"/>
<path d="M437,268.3 438,267 439,266.3 440,265.8 441,265.4 441,265.4 446,263.5 451,261.8 456,260 461,258.2 466,256.6 471,255.2 476,254 481,253 486,252.1 491,251.3 496,250.5 501,249.8 506,249.1 511,248.4 516,247.8 521,247.2 526,246.7 531,246.3 536,246 541,246.1 541,246.1 542,246.2 543,246.3 544,246.6 545,247.4 545,247.4 544,248.6 543,249.2 542,249.7 541,250.1 541,250.1 536,251.7 531,252.9 526,254 521,255 516,255.9 511,256.7 506,257.6 501,258.4 496,259.2 491,260 486,260.9 481,261.8 476,262.8 471,263.9 466,265.2 461,266.7 456,268.1 451,269.1 446,269.7 441,269.8 441,269.8 440,269.7 439,269.5 438,269.2 437,268.3Z" fill="#f1b6a4"/>
<path d="M439,267.3 440,267 441,266.7 441,266.7 446,265.3 451,264 456,262.4 461,260.8 466,259.2 471,257.8 476,256.6 481,255.7 486,254.8 491,253.9 496,253.1 501,252.4 506,251.6 511,250.9 516,250.2 521,249.5 526,248.9 531,248.3 536,247.7 541,247.3 541,247.3 542,247.2 543,247.2" fill="none" stroke="#f8d8cc" stroke-width="1.3" stroke-linecap="round" opacity="0.7"/>
<path d="M549,246.8 550,244.8 551,244 552,243.4 553,242.9 553,242.9 557.6,241.4 562.2,240.5 566.8,239.6 571.4,238.7 576,238.3 576,238.3 577,238.4 578,238.6 579,239 580,240.7 580,240.7 579,242.8 578,243.7 577,244.4 576,245 576,245 571.4,246.6 566.8,247.7 562.2,248.6 557.6,249.3 553,249.4 553,249.4 552,249.3 551,249 550,248.5 549,246.8Z" fill="#f1b6a4"/>
<path d="M551,245.5 552,245.1 553,244.8 553,244.8 557.6,243.8 562.2,242.9 566.8,242 571.4,241.1 576,240.3 576,240.3 577,240.2 578,240.1" fill="none" stroke="#f8d8cc" stroke-width="1.3" stroke-linecap="round" opacity="0.7"/>
<path d="M583,240 584,238.7 585,238.1 586,237.6 587,237.1 587,237.1 592,235 597,233.3 601.9,231.9 606.9,230.6 611.9,229.6 616.9,228.8 621.9,228.1 626.8,227.5 631.8,227 636.8,226.6 641.8,226.2 646.8,225.9 651.7,225.6 656.7,225.3 661.7,225.1 666.7,224.9 671.6,224.7 676.6,224.5 681.6,224.4 686.6,224.3 691.6,224.2 696.5,224.3 701.5,224.4 706.5,224.8 706.5,224.8 707.5,224.9 708.5,225.1 709.5,225.3 710.5,226.1 710.5,226.1 709.5,226.9 708.5,227.3 707.5,227.6 706.5,227.9 706.5,227.9 701.5,228.9 696.5,229.7 691.6,230.3 686.6,230.9 681.6,231.4 676.6,231.8 671.6,232.3 666.7,232.7 661.7,233 656.7,233.4 651.7,233.8 646.8,234.2 641.8,234.7 636.8,235.1 631.8,235.6 626.8,236.1 621.9,236.7 616.9,237.3 611.9,237.9 606.9,238.6 601.9,239.3 597,239.9 592,240.5 587,240.9 587,240.9 586,240.9 585,240.8 584,240.7 583,240Z" fill="#f1b6a4"/>
<path d="M585,238.9 586,238.6 587,238.2 587,238.2 592,236.7 597,235.3 601.9,234.1 606.9,233 611.9,232.1 616.9,231.3 621.9,230.6 626.8,230.1 631.8,229.6 636.8,229.1 641.8,228.8 646.8,228.4 651.7,228.1 656.7,227.8 661.7,227.5 666.7,227.2 671.6,226.9 676.6,226.7 681.6,226.5 686.6,226.3 691.6,226.1 696.5,225.9 701.5,225.8 706.5,225.7 706.5,225.7 707.5,225.7 708.5,225.7" fill="none" stroke="#f8d8cc" stroke-width="1.3" stroke-linecap="round" opacity="0.7"/>
<ellipse cx="111.0" cy="166.5" rx="6.1" ry="3.4" transform="rotate(8 111.0 166.5)" fill="#bb5a82" opacity="0.9"/>
<ellipse cx="250.8" cy="176.0" rx="6.1" ry="3.4" transform="rotate(2 250.8 176.0)" fill="#bb5a82" opacity="0.9"/>
<ellipse cx="404.0" cy="161.0" rx="6.1" ry="3.4" transform="rotate(-12 404.0 161.0)" fill="#bb5a82" opacity="0.9"/>
<ellipse cx="514.5" cy="151.0" rx="4.4" ry="2.4" transform="rotate(-5 514.5 151.0)" fill="#bb5a82" opacity="0.9"/>
<ellipse cx="650.6" cy="125.5" rx="6.1" ry="3.4" transform="rotate(-5 650.6 125.5)" fill="#bb5a82" opacity="0.9"/>
<ellipse cx="26.0" cy="250.5" rx="5.0" ry="2.6" transform="rotate(20 26.0 250.5)" fill="#bb5a82" opacity="0.9"/>
<ellipse cx="124.0" cy="272.6" rx="5.0" ry="2.6" transform="rotate(15 124.0 272.6)" fill="#bb5a82" opacity="0.9"/>
<ellipse cx="240.7" cy="283.0" rx="5.5" ry="2.9" transform="rotate(5 240.7 283.0)" fill="#bb5a82" opacity="0.9"/>
<ellipse cx="354.7" cy="278.7" rx="5.5" ry="2.9" transform="rotate(-5 354.7 278.7)" fill="#bb5a82" opacity="0.9"/>
<ellipse cx="479.3" cy="257.5" rx="5.5" ry="2.9" transform="rotate(-15 479.3 257.5)" fill="#bb5a82" opacity="0.9"/>
<ellipse cx="646.0" cy="227.3" rx="6.1" ry="3.1" transform="rotate(-5 646.0 227.3)" fill="#bb5a82" opacity="0.9"/>
<g transform="translate(162.0,171.0) rotate(5.0) scale(1.00)"><path d="M-3.4,-3.6 L-0.6,-2.4 L0.6,-2.4 L3.4,-3.6 L3.4,3.6 L0.6,2.4 L-0.6,2.4 L-3.4,3.6 Z" fill="#1c3a72"/><path d="M-2.4,-2.2 L-2.4,1.8 M2.4,-2.2 L2.4,1.8" stroke="#3a62a4" stroke-width="0.9"/></g>
<g transform="translate(182.4,173.0) rotate(5.0) scale(1.00)"><path d="M-3.4,-3.6 L-0.6,-2.4 L0.6,-2.4 L3.4,-3.6 L3.4,3.6 L0.6,2.4 L-0.6,2.4 L-3.4,3.6 Z" fill="#1c3a72"/><path d="M-2.4,-2.2 L-2.4,1.8 M2.4,-2.2 L2.4,1.8" stroke="#3a62a4" stroke-width="0.9"/></g>
<g transform="translate(294.0,171.0) rotate(-5.0) scale(1.00)"><path d="M-3.4,-3.6 L-0.6,-2.4 L0.6,-2.4 L3.4,-3.6 L3.4,3.6 L0.6,2.4 L-0.6,2.4 L-3.4,3.6 Z" fill="#1c3a72"/><path d="M-2.4,-2.2 L-2.4,1.8 M2.4,-2.2 L2.4,1.8" stroke="#3a62a4" stroke-width="0.9"/></g>
<g transform="translate(335.0,166.5) rotate(-12.0) scale(1.00)"><path d="M-3.4,-3.6 L-0.6,-2.4 L0.6,-2.4 L3.4,-3.6 L3.4,3.6 L0.6,2.4 L-0.6,2.4 L-3.4,3.6 Z" fill="#1c3a72"/><path d="M-2.4,-2.2 L-2.4,1.8 M2.4,-2.2 L2.4,1.8" stroke="#3a62a4" stroke-width="0.9"/></g>
<g transform="translate(454.5,153.5) rotate(-3.0) scale(1.00)"><path d="M-3.4,-3.6 L-0.6,-2.4 L0.6,-2.4 L3.4,-3.6 L3.4,3.6 L0.6,2.4 L-0.6,2.4 L-3.4,3.6 Z" fill="#1c3a72"/><path d="M-2.4,-2.2 L-2.4,1.8 M2.4,-2.2 L2.4,1.8" stroke="#3a62a4" stroke-width="0.9"/></g>
<g transform="translate(587.0,133.0) rotate(-20.0) scale(1.00)"><path d="M-3.4,-3.6 L-0.6,-2.4 L0.6,-2.4 L3.4,-3.6 L3.4,3.6 L0.6,2.4 L-0.6,2.4 L-3.4,3.6 Z" fill="#1c3a72"/><path d="M-2.4,-2.2 L-2.4,1.8 M2.4,-2.2 L2.4,1.8" stroke="#3a62a4" stroke-width="0.9"/></g>
<g transform="translate(75.0,263.0) rotate(15.0) scale(1.00)"><path d="M-3.4,-3.6 L-0.6,-2.4 L0.6,-2.4 L3.4,-3.6 L3.4,3.6 L0.6,2.4 L-0.6,2.4 L-3.4,3.6 Z" fill="#1c3a72"/><path d="M-2.4,-2.2 L-2.4,1.8 M2.4,-2.2 L2.4,1.8" stroke="#3a62a4" stroke-width="0.9"/></g>
<g transform="translate(273.0,284.0) rotate(3.0) scale(1.00)"><path d="M-3.4,-3.6 L-0.6,-2.4 L0.6,-2.4 L3.4,-3.6 L3.4,3.6 L0.6,2.4 L-0.6,2.4 L-3.4,3.6 Z" fill="#1c3a72"/><path d="M-2.4,-2.2 L-2.4,1.8 M2.4,-2.2 L2.4,1.8" stroke="#3a62a4" stroke-width="0.9"/></g>
<g transform="translate(311.0,283.5) rotate(0.0) scale(1.00)"><path d="M-3.4,-3.6 L-0.6,-2.4 L0.6,-2.4 L3.4,-3.6 L3.4,3.6 L0.6,2.4 L-0.6,2.4 L-3.4,3.6 Z" fill="#1c3a72"/><path d="M-2.4,-2.2 L-2.4,1.8 M2.4,-2.2 L2.4,1.8" stroke="#3a62a4" stroke-width="0.9"/></g>
<g transform="translate(436.0,267.0) rotate(-10.0) scale(1.00)"><path d="M-3.4,-3.6 L-0.6,-2.4 L0.6,-2.4 L3.4,-3.6 L3.4,3.6 L0.6,2.4 L-0.6,2.4 L-3.4,3.6 Z" fill="#1c3a72"/><path d="M-2.4,-2.2 L-2.4,1.8 M2.4,-2.2 L2.4,1.8" stroke="#3a62a4" stroke-width="0.9"/></g>
<g transform="translate(547.0,245.7) rotate(-8.0) scale(1.00)"><path d="M-3.4,-3.6 L-0.6,-2.4 L0.6,-2.4 L3.4,-3.6 L3.4,3.6 L0.6,2.4 L-0.6,2.4 L-3.4,3.6 Z" fill="#1c3a72"/><path d="M-2.4,-2.2 L-2.4,1.8 M2.4,-2.2 L2.4,1.8" stroke="#3a62a4" stroke-width="0.9"/></g>
<g transform="translate(581.0,240.0) rotate(-8.0) scale(1.00)"><path d="M-3.4,-3.6 L-0.6,-2.4 L0.6,-2.4 L3.4,-3.6 L3.4,3.6 L0.6,2.4 L-0.6,2.4 L-3.4,3.6 Z" fill="#1c3a72"/><path d="M-2.4,-2.2 L-2.4,1.8 M2.4,-2.2 L2.4,1.8" stroke="#3a62a4" stroke-width="0.9"/></g>
<g transform="translate(20.8,218.7) rotate(15)"><ellipse rx="12.0" ry="8.5" fill="url(#gRBC)" stroke="#d43a3a" stroke-width="0.6" /><ellipse cx="1.2" cy="-1.7" rx="6.0" ry="3.0" fill="#f27070" opacity="0.25"/></g>
<g transform="translate(125.0,210.3) rotate(32)"><ellipse rx="13.0" ry="9.5" fill="url(#gRBC)" stroke="#d43a3a" stroke-width="0.6" /><ellipse cx="1.3" cy="-1.9" rx="6.5" ry="3.3" fill="#f27070" opacity="0.25"/></g>
<g transform="translate(222.9,210.3) rotate(0)"><ellipse rx="12.5" ry="12.5" fill="url(#gRBC)" stroke="#d43a3a" stroke-width="0.6" /><ellipse cx="1.2" cy="-2.5" rx="6.2" ry="4.4" fill="#f27070" opacity="0.25"/></g>
<g transform="translate(355.8,212.0) rotate(10)"><ellipse rx="15.5" ry="13.0" fill="url(#gRBC)" stroke="#d43a3a" stroke-width="0.6" /><ellipse cx="1.6" cy="-2.6" rx="7.8" ry="4.5" fill="#f27070" opacity="0.25"/></g>
<g transform="translate(248.5,251.2) rotate(25)"><ellipse rx="15.0" ry="11.0" fill="url(#gRBC)" stroke="#d43a3a" stroke-width="0.6" /><ellipse cx="1.5" cy="-2.2" rx="7.5" ry="3.8" fill="#f27070" opacity="0.25"/></g>
<g transform="translate(405.0,191.9) rotate(10)"><ellipse rx="11.0" ry="8.0" fill="url(#gRBC)" stroke="#d43a3a" stroke-width="0.6" /><ellipse cx="1.1" cy="-1.6" rx="5.5" ry="2.8" fill="#f27070" opacity="0.25"/></g>
<g transform="translate(510.2,174.3) rotate(-5)"><ellipse rx="15.0" ry="9.0" fill="url(#gRBC)" stroke="#d43a3a" stroke-width="0.6" /><ellipse cx="1.5" cy="-1.8" rx="7.5" ry="3.1" fill="#f27070" opacity="0.25"/></g>
<g transform="translate(639.7,152.4) rotate(-10)"><ellipse rx="11.0" ry="8.0" fill="url(#gRBC)" stroke="#d43a3a" stroke-width="0.6" /><ellipse cx="1.1" cy="-1.6" rx="5.5" ry="2.8" fill="#f27070" opacity="0.25"/></g>
<g transform="translate(609.6,205.2) rotate(-35)"><ellipse rx="11.5" ry="7.5" fill="url(#gRBC)" stroke="#d43a3a" stroke-width="0.6" /><ellipse cx="1.2" cy="-1.5" rx="5.8" ry="2.6" fill="#f27070" opacity="0.25"/></g>
<g transform="translate(472.8,225.6) rotate(35)"><ellipse rx="12.5" ry="8.5" fill="url(#gRBC)" stroke="#d43a3a" stroke-width="0.6" /><ellipse cx="1.2" cy="-1.7" rx="6.2" ry="3.0" fill="#f27070" opacity="0.25"/></g>
<g transform="translate(35.2,183.5)"><path d="M6.2,8.1 L8.5,11.0" stroke="#7f8fc8" stroke-width="0.7" opacity="0.8"/><path d="M-9.8,2.8 L-13.4,3.9" stroke="#7f8fc8" stroke-width="0.7" opacity="0.8"/><path d="M1.3,-10.1 L1.8,-13.8" stroke="#7f8fc8" stroke-width="0.7" opacity="0.8"/><path d="M-2.8,-9.8 L-3.8,-13.4" stroke="#7f8fc8" stroke-width="0.7" opacity="0.8"/><path d="M-1.1,-10.1 L-1.6,-13.8" stroke="#7f8fc8" stroke-width="0.7" opacity="0.8"/><circle r="10.9" fill="#f29090" opacity="0.22"/><circle r="9.6" fill="none" stroke="#f39e9e" stroke-width="1.71" stroke-dasharray="1.28 0.75"/><circle r="6.6" fill="none" stroke="#ee9eac" stroke-width="1.18" stroke-dasharray="1.07 0.64"/><circle r="4.9" fill="url(#gCoreV)"/></g>
<g transform="translate(83.8,219.7)"><path d="M-7.5,-4.2 L-10.2,-5.7" stroke="#7f8fc8" stroke-width="0.7" opacity="0.8"/><path d="M2.9,8.0 L4.0,11.0" stroke="#7f8fc8" stroke-width="0.7" opacity="0.8"/><path d="M8.3,-1.9 L11.4,-2.5" stroke="#7f8fc8" stroke-width="0.7" opacity="0.8"/><path d="M7.6,-3.9 L10.4,-5.4" stroke="#7f8fc8" stroke-width="0.7" opacity="0.8"/><path d="M-8.4,1.8 L-11.5,2.4" stroke="#7f8fc8" stroke-width="0.7" opacity="0.8"/><circle r="9.2" fill="#f29090" opacity="0.22"/><circle r="8.1" fill="none" stroke="#f39e9e" stroke-width="1.60" stroke-dasharray="1.10 0.63"/><circle r="5.6" fill="none" stroke="#ee9eac" stroke-width="1.10" stroke-dasharray="0.90 0.54"/><circle r="4.1" fill="url(#gCoreV)"/></g>
<g transform="translate(162.6,239.8)"><path d="M6.8,9.1 L9.3,12.5" stroke="#7f8fc8" stroke-width="0.7" opacity="0.8"/><path d="M-8.5,-7.6 L-11.6,-10.4" stroke="#7f8fc8" stroke-width="0.7" opacity="0.8"/><path d="M5.5,10.0 L7.5,13.7" stroke="#7f8fc8" stroke-width="0.7" opacity="0.8"/><path d="M-2.7,-11.1 L-3.6,-15.2" stroke="#7f8fc8" stroke-width="0.7" opacity="0.8"/><path d="M-8.9,-7.1 L-12.2,-9.8" stroke="#7f8fc8" stroke-width="0.7" opacity="0.8"/><circle r="12.2" fill="#f29090" opacity="0.22"/><circle r="10.8" fill="none" stroke="#f39e9e" stroke-width="1.92" stroke-dasharray="1.44 0.84"/><circle r="7.4" fill="none" stroke="#ee9eac" stroke-width="1.32" stroke-dasharray="1.20 0.72"/><circle r="5.5" fill="url(#gCoreV)"/></g>
<g transform="translate(277.0,210.3)"><path d="M12.2,-1.6 L16.8,-2.2" stroke="#7f8fc8" stroke-width="0.7" opacity="0.8"/><path d="M-11.9,3.3 L-16.3,4.6" stroke="#7f8fc8" stroke-width="0.7" opacity="0.8"/><path d="M-2.4,-12.1 L-3.3,-16.6" stroke="#7f8fc8" stroke-width="0.7" opacity="0.8"/><path d="M-1.2,-12.3 L-1.6,-16.8" stroke="#7f8fc8" stroke-width="0.7" opacity="0.8"/><path d="M2.7,12.1 L3.7,16.5" stroke="#7f8fc8" stroke-width="0.7" opacity="0.8"/><circle r="13.3" fill="#f29090" opacity="0.22"/><circle r="11.7" fill="none" stroke="#f39e9e" stroke-width="2.08" stroke-dasharray="1.56 0.91"/><circle r="8.1" fill="none" stroke="#ee9eac" stroke-width="1.43" stroke-dasharray="1.30 0.78"/><circle r="6.0" fill="url(#gCoreV)"/></g>
<g transform="translate(314.9,247.2)"><path d="M8.3,-2.1 L11.3,-2.9" stroke="#7f8fc8" stroke-width="0.7" opacity="0.8"/><path d="M5.9,-6.2 L8.1,-8.4" stroke="#7f8fc8" stroke-width="0.7" opacity="0.8"/><path d="M-1.0,-8.5 L-1.3,-11.6" stroke="#7f8fc8" stroke-width="0.7" opacity="0.8"/><path d="M1.2,8.5 L1.6,11.6" stroke="#7f8fc8" stroke-width="0.7" opacity="0.8"/><path d="M-4.1,7.5 L-5.7,10.2" stroke="#7f8fc8" stroke-width="0.7" opacity="0.8"/><circle r="9.2" fill="#f29090" opacity="0.22"/><circle r="8.1" fill="none" stroke="#f39e9e" stroke-width="1.60" stroke-dasharray="1.10 0.63"/><circle r="5.6" fill="none" stroke="#ee9eac" stroke-width="1.10" stroke-dasharray="0.90 0.54"/><circle r="4.1" fill="url(#gCoreV)"/></g>
<g transform="translate(409.4,238.8)"><path d="M9.6,-9.2 L13.1,-12.6" stroke="#7f8fc8" stroke-width="0.7" opacity="0.8"/><path d="M-7.8,10.8 L-10.6,14.8" stroke="#7f8fc8" stroke-width="0.7" opacity="0.8"/><path d="M3.4,-12.9 L4.6,-17.6" stroke="#7f8fc8" stroke-width="0.7" opacity="0.8"/><path d="M12.7,-4.0 L17.4,-5.5" stroke="#7f8fc8" stroke-width="0.7" opacity="0.8"/><path d="M-5.1,12.3 L-6.9,16.8" stroke="#7f8fc8" stroke-width="0.7" opacity="0.8"/><circle r="14.3" fill="#f29090" opacity="0.22"/><circle r="12.6" fill="none" stroke="#f39e9e" stroke-width="2.24" stroke-dasharray="1.68 0.98"/><circle r="8.7" fill="none" stroke="#ee9eac" stroke-width="1.54" stroke-dasharray="1.40 0.84"/><circle r="6.4" fill="url(#gCoreV)"/></g>
<g transform="translate(452.3,184.0)"><path d="M-2.1,-8.3 L-2.9,-11.3" stroke="#7f8fc8" stroke-width="0.7" opacity="0.8"/><path d="M7.0,-5.0 L9.5,-6.8" stroke="#7f8fc8" stroke-width="0.7" opacity="0.8"/><path d="M8.5,0.9 L11.6,1.2" stroke="#7f8fc8" stroke-width="0.7" opacity="0.8"/><path d="M8.0,-3.0 L10.9,-4.2" stroke="#7f8fc8" stroke-width="0.7" opacity="0.8"/><path d="M3.7,-7.7 L5.0,-10.6" stroke="#7f8fc8" stroke-width="0.7" opacity="0.8"/><circle r="9.2" fill="#f29090" opacity="0.22"/><circle r="8.1" fill="none" stroke="#f39e9e" stroke-width="1.60" stroke-dasharray="1.10 0.63"/><circle r="5.6" fill="none" stroke="#ee9eac" stroke-width="1.10" stroke-dasharray="0.90 0.54"/><circle r="4.1" fill="url(#gCoreV)"/></g>
<g transform="translate(521.0,222.5)"><path d="M0.3,13.3 L0.4,18.2" stroke="#7f8fc8" stroke-width="0.7" opacity="0.8"/><path d="M-11.6,-6.5 L-15.9,-8.9" stroke="#7f8fc8" stroke-width="0.7" opacity="0.8"/><path d="M13.1,-2.3 L17.9,-3.2" stroke="#7f8fc8" stroke-width="0.7" opacity="0.8"/><path d="M-7.3,-11.1 L-10.0,-15.2" stroke="#7f8fc8" stroke-width="0.7" opacity="0.8"/><path d="M-13.2,1.5 L-18.1,2.0" stroke="#7f8fc8" stroke-width="0.7" opacity="0.8"/><circle r="14.3" fill="#f29090" opacity="0.22"/><circle r="12.6" fill="none" stroke="#f39e9e" stroke-width="2.24" stroke-dasharray="1.68 0.98"/><circle r="8.7" fill="none" stroke="#ee9eac" stroke-width="1.54" stroke-dasharray="1.40 0.84"/><circle r="6.4" fill="url(#gCoreV)"/></g>
<g transform="translate(591.1,165.5)"><path d="M8.4,9.0 L11.5,12.4" stroke="#7f8fc8" stroke-width="0.7" opacity="0.8"/><path d="M4.9,-11.3 L6.8,-15.5" stroke="#7f8fc8" stroke-width="0.7" opacity="0.8"/><path d="M9.0,-8.4 L12.4,-11.5" stroke="#7f8fc8" stroke-width="0.7" opacity="0.8"/><path d="M-9.3,8.2 L-12.7,11.2" stroke="#7f8fc8" stroke-width="0.7" opacity="0.8"/><path d="M-2.1,12.2 L-2.8,16.7" stroke="#7f8fc8" stroke-width="0.7" opacity="0.8"/><circle r="13.3" fill="#f29090" opacity="0.22"/><circle r="11.7" fill="none" stroke="#f39e9e" stroke-width="2.08" stroke-dasharray="1.56 0.91"/><circle r="8.1" fill="none" stroke="#ee9eac" stroke-width="1.43" stroke-dasharray="1.30 0.78"/><circle r="6.0" fill="url(#gCoreV)"/></g>
<g transform="translate(679.8,192.8)"><path d="M-2.3,12.1 L-3.1,16.6" stroke="#7f8fc8" stroke-width="0.7" opacity="0.8"/><path d="M-11.9,3.1 L-16.3,4.3" stroke="#7f8fc8" stroke-width="0.7" opacity="0.8"/><path d="M-11.8,-3.6 L-16.2,-4.9" stroke="#7f8fc8" stroke-width="0.7" opacity="0.8"/><path d="M9.9,7.4 L13.6,10.1" stroke="#7f8fc8" stroke-width="0.7" opacity="0.8"/><path d="M-12.3,-0.2 L-16.9,-0.2" stroke="#7f8fc8" stroke-width="0.7" opacity="0.8"/><circle r="13.3" fill="#f29090" opacity="0.22"/><circle r="11.7" fill="none" stroke="#f39e9e" stroke-width="2.08" stroke-dasharray="1.56 0.91"/><circle r="8.1" fill="none" stroke="#ee9eac" stroke-width="1.43" stroke-dasharray="1.30 0.78"/><circle r="6.0" fill="url(#gCoreV)"/></g>
</g>

<!-- inset -->
<g clip-path="url(#cInset)">
<rect x="214" y="14" width="176" height="115" fill="#f6e0dc"/>
<rect x="214" y="64" width="176" height="66" fill="url(#gInsetTissue)"/>
<path d="M214,52.6 C226,51.6 236,50.4 246,51.2 C256,52 262,50.6 270,51.6 C282,53.6 292,55.4 302,55 C318,54.4 334,54.6 346,52.6 C356,50.6 364,48.8 372,49.2 C380,49.6 386,50 390,50.4 L390,65 L214,65 Z" fill="url(#gInsetBand)"/>
<path d="M215.5,66.8 Q215.5,63.2 219.5,63.2 L390,63.2 L390,71.2 L219.5,71.2 Q215.5,71.2 215.5,67.2 Z" fill="#eebcc4"/>
<path d="M220,64.6 L390,64.6" stroke="#f6d6dc" stroke-width="1.2"/>
<path d="M214,72 L390,72" stroke="#b83838" stroke-width="1.2" opacity="0.5"/>
<g fill="none" stroke="#eaa4a0" stroke-width="0.7" opacity="0.45">
<path d="M214,96 C240,100 260,110 280,128"/>
<path d="M240,113 C270,108 300,112 330,118 C350,122 370,118 390,112"/>
<path d="M330,118 C335,108 345,100 360,96"/>
<path d="M360,128 C365,118 375,112 390,100"/>
<path d="M250,76 C262,85 270,95 272,104"/>
</g>
<ellipse cx="261.8" cy="67.5" rx="4.8" ry="1.5" fill="#9274b4"/>
<ellipse cx="359.7" cy="67.8" rx="4.5" ry="1.4" fill="#9274b4"/>
<ellipse cx="259" cy="92.2" rx="4.2" ry="3.2" fill="#b83434" opacity="0.7"/>
<ellipse cx="365" cy="92.6" rx="5" ry="3.4" fill="#b83434" opacity="0.6"/>
<ellipse cx="236" cy="124" rx="5" ry="3" fill="#c84848" opacity="0.6"/>
<circle cx="322.8" cy="37.2" r="18.0" fill="url(#gBactL)"/>
<circle cx="264.8" cy="50.8" r="7.4" fill="url(#gBactL)"/>
<circle cx="242.3" cy="51.3" r="3.0" fill="url(#gBactL)"/>
<circle cx="348.3" cy="54.5" r="3.5" fill="url(#gBactL)"/>
<circle cx="307.0" cy="66.6" r="11.2" fill="url(#gBactL)"/>
<circle cx="264.3" cy="79.8" r="7.8" fill="url(#gBactL)"/>
<circle cx="291.4" cy="100.4" r="16.8" fill="url(#gBactL)"/>
<circle cx="331.0" cy="96.0" r="11.4" fill="url(#gBactL)"/>
<g transform="translate(316.0,22.0) scale(1.20)" fill="none" stroke-width="0.9"><path d="M-3.2,-0.9 L-0.6,-1.2 L-2.8,-2.5 L-0.2,-2.8 L-2.4,-4.2 L0.1,-4.4 L-2.0,-5.8" stroke="#88c070"/><path d="M-2.7,-0.9 L-0.2,-1.2 L-2.4,-2.4 L0.1,-2.7 L-2.2,-3.8 L0.3,-4.2 L-1.9,-5.3" stroke="#5aa0c0"/><path d="M-2.4,2.4 L-1.4,0.0 L-3.6,1.4 L-2.7,-1.0 L-4.8,0.3 L-3.9,-2.0 L-6.0,-0.7" stroke="#5aa0c0"/><path d="M-2.8,-2.5 L-0.2,-1.9 L-1.4,-4.3 L1.2,-3.7 L-0.0,-6.0 L2.6,-5.5 L1.4,-7.8" stroke="#4aa0b8"/></g>
<g transform="translate(334.0,30.0) scale(0.90)" fill="none" stroke-width="0.9"><path d="M-1.2,0.1 L0.9,-1.5 L-1.7,-1.9 L0.4,-3.6 L-2.2,-4.0 L-0.1,-5.6 L-2.7,-6.1" stroke="#70c0a8"/><path d="M-2.1,0.6 L-0.1,2.3 L-0.4,-0.3 L1.6,1.3 L1.4,-1.2 L3.3,0.4 L3.1,-2.2" stroke="#5aa0c0"/><path d="M-0.8,-0.9 L1.0,1.0 L0.5,-1.5 L2.2,0.3 L1.8,-2.1 L3.5,-0.3 L3.1,-2.8" stroke="#4aa0b8"/><path d="M0.5,0.2 L0.6,-2.4 L-1.3,-0.6 L-1.2,-3.2 L-3.1,-1.5 L-3.0,-4.1 L-4.9,-2.4" stroke="#5aa0c0"/></g>
<g transform="translate(318.0,48.0) scale(1.00)" fill="none" stroke-width="0.9"><path d="M-0.3,-1.2 L1.6,0.6 L1.4,-2.0 L3.3,-0.3 L3.1,-2.8 L4.9,-1.1 L4.7,-3.6" stroke="#70c0a8"/><path d="M-2.1,1.1 L0.3,2.1 L-0.9,-0.1 L1.4,0.9 L0.2,-1.4 L2.6,-0.4 L1.4,-2.6" stroke="#88c070"/><path d="M-2.7,1.1 L-0.9,-0.9 L-3.5,-1.1 L-1.7,-3.0 L-4.4,-3.2 L-2.6,-5.2 L-5.3,-5.3" stroke="#58b090"/><path d="M-1.1,-2.2 L1.5,-2.3 L-0.5,-4.0 L2.1,-4.1 L0.1,-5.8 L2.7,-5.9 L0.8,-7.6" stroke="#5aa0c0"/></g>
<g transform="translate(263.0,48.0) scale(0.70)" fill="none" stroke-width="0.9"><path d="M-1.7,3.1 L-1.7,0.4 L-3.8,2.1 L-3.8,-0.6 L-5.9,1.1 L-5.9,-1.6 L-8.0,0.1" stroke="#5aa0c0"/><path d="M-1.4,0.3 L0.1,-1.8 L-2.4,-1.3 L-0.9,-3.3 L-3.4,-2.8 L-1.9,-4.9 L-4.4,-4.3" stroke="#5aa0c0"/><path d="M-0.7,-0.1 L1.6,1.0 L0.5,-1.2 L2.7,-0.1 L1.6,-2.4 L3.8,-1.2 L2.7,-3.5" stroke="#5aa0c0"/><path d="M-2.3,-1.7 L0.1,-0.7 L-0.9,-3.1 L1.5,-2.2 L0.5,-4.6 L2.9,-3.6 L1.9,-6.0" stroke="#58b090"/></g>
<g transform="translate(308.0,66.0) scale(1.00)" fill="none" stroke-width="0.9"><path d="M0.6,0.7 L1.5,-1.7 L-0.7,-0.4 L0.1,-2.8 L-2.1,-1.5 L-1.2,-3.9 L-3.4,-2.6" stroke="#70c0a8"/><path d="M-1.9,0.2 L0.6,1.0 L-0.6,-1.4 L1.9,-0.6 L0.7,-2.9 L3.2,-2.2 L2.1,-4.5" stroke="#58b090"/><path d="M0.1,0.3 L0.6,-2.2 L-1.3,-0.5 L-0.8,-3.0 L-2.7,-1.3 L-2.2,-3.8 L-4.1,-2.0" stroke="#70c0a8"/><path d="M-0.6,2.6 L0.6,0.4 L-1.8,1.4 L-0.6,-0.9 L-3.0,0.1 L-1.8,-2.1 L-4.1,-1.1" stroke="#70c0a8"/></g>
<g transform="translate(265.0,78.0) scale(0.80)" fill="none" stroke-width="0.9"><path d="M-0.3,-0.0 L0.7,-2.4 L-1.7,-1.4 L-0.6,-3.8 L-3.0,-2.8 L-1.9,-5.1 L-4.3,-4.2" stroke="#70c0a8"/><path d="M-2.4,-0.7 L0.2,-0.4 L-1.3,-2.5 L1.3,-2.2 L-0.3,-4.3 L2.3,-4.0 L0.7,-6.1" stroke="#4aa0b8"/><path d="M0.2,1.3 L2.8,1.4 L1.1,-0.5 L3.7,-0.4 L2.0,-2.4 L4.6,-2.2 L2.9,-4.2" stroke="#88c070"/><path d="M-1.5,0.6 L0.4,2.4 L0.2,-0.2 L2.0,1.6 L1.9,-0.9 L3.7,0.9 L3.5,-1.7" stroke="#4aa0b8"/></g>
<g transform="translate(296.0,96.0) scale(1.30)" fill="none" stroke-width="0.9"><path d="M-2.4,1.3 L-0.2,-0.1 L-2.7,-0.6 L-0.5,-1.9 L-3.0,-2.4 L-0.8,-3.7 L-3.4,-4.2" stroke="#70c0a8"/><path d="M-0.5,1.6 L1.6,0.0 L-0.9,-0.5 L1.2,-2.1 L-1.4,-2.6 L0.7,-4.2 L-1.8,-4.7" stroke="#5aa0c0"/><path d="M-2.3,2.7 L-2.3,0.0 L-4.3,1.7 L-4.3,-1.0 L-6.4,0.7 L-6.4,-2.0 L-8.4,-0.3" stroke="#58b090"/><path d="M-0.2,-0.8 L2.2,0.3 L1.3,-2.1 L3.7,-1.1 L2.8,-3.5 L5.1,-2.5 L4.2,-4.9" stroke="#4aa0b8"/></g>
<g transform="translate(307.0,89.0) scale(1.10)" fill="none" stroke-width="0.9"><path d="M-0.4,-0.3 L2.2,-0.3 L0.2,-1.9 L2.7,-1.8 L0.7,-3.4 L3.2,-3.4 L1.2,-4.9" stroke="#88c070"/><path d="M0.7,2.2 L2.3,0.1 L-0.3,0.5 L1.3,-1.6 L-1.3,-1.3 L0.2,-3.3 L-2.3,-3.0" stroke="#5aa0c0"/><path d="M-0.1,1.4 L1.9,-0.2 L-0.7,-0.0 L1.3,-1.6 L-1.2,-1.5 L0.7,-3.0 L-1.8,-2.9" stroke="#88c070"/><path d="M0.8,-2.8 L3.0,-1.4 L2.5,-4.0 L4.7,-2.5 L4.2,-5.1 L6.4,-3.6 L5.9,-6.2" stroke="#4aa0b8"/></g>
<g transform="translate(340.0,87.0) scale(1.20)" fill="none" stroke-width="0.9"><path d="M-1.5,2.0 L-0.5,-0.5 L-3.0,0.3 L-2.1,-2.1 L-4.6,-1.3 L-3.6,-3.8 L-6.2,-3.0" stroke="#4aa0b8"/><path d="M0.1,0.6 L1.2,-1.7 L-1.0,-0.6 L0.1,-2.9 L-2.2,-1.8 L-1.1,-4.0 L-3.3,-2.9" stroke="#5aa0c0"/><path d="M-0.9,-1.5 L1.3,-2.6 L-1.2,-2.9 L1.1,-4.1 L-1.4,-4.4 L0.8,-5.6 L-1.7,-5.9" stroke="#58b090"/><path d="M-0.5,0.6 L1.7,-0.7 L-0.8,-1.5 L1.5,-2.9 L-1.0,-3.7 L1.3,-5.1 L-1.2,-5.9" stroke="#58b090"/></g>
<g transform="translate(332.0,100.0) scale(0.80)" fill="none" stroke-width="0.9"><path d="M-1.8,2.6 L-1.2,0.2 L-3.0,2.0 L-2.3,-0.5 L-4.1,1.3 L-3.5,-1.1 L-5.3,0.6" stroke="#70c0a8"/><path d="M0.4,-1.0 L1.7,-3.3 L-0.8,-2.7 L0.5,-5.0 L-2.1,-4.4 L-0.8,-6.6 L-3.3,-6.0" stroke="#4aa0b8"/><path d="M-2.7,1.0 L-0.6,-0.5 L-3.1,-0.9 L-1.0,-2.3 L-3.5,-2.7 L-1.4,-4.2 L-3.9,-4.5" stroke="#5aa0c0"/><path d="M0.2,0.6 L2.8,0.4 L0.7,-1.2 L3.3,-1.4 L1.3,-3.0 L3.9,-3.2 L1.9,-4.9" stroke="#4aa0b8"/></g>
<g transform="translate(286.0,104.0) scale(0.80)" fill="none" stroke-width="0.9"><path d="M-2.2,-1.0 L0.3,-1.5 L-2.0,-2.5 L0.5,-3.0 L-1.8,-4.0 L0.7,-4.5 L-1.6,-5.5" stroke="#5aa0c0"/><path d="M0.7,-1.6 L3.0,-0.2 L2.6,-2.9 L4.9,-1.6 L4.4,-4.2 L6.7,-2.9 L6.3,-5.5" stroke="#88c070"/><path d="M0.2,-1.1 L2.4,-2.6 L-0.2,-3.2 L2.0,-4.6 L-0.6,-5.2 L1.6,-6.7 L-0.9,-7.2" stroke="#4aa0b8"/><path d="M-2.1,-0.5 L0.1,0.6 L-0.9,-1.7 L1.3,-0.5 L0.2,-2.8 L2.5,-1.7 L1.4,-4.0" stroke="#4aa0b8"/></g>
</g>
<rect x="214.5" y="14.5" width="173.5" height="113" rx="8" fill="none" stroke="#6e5e5c" stroke-width="1"/>
<g class="txt"><text x="211.6" y="145.6" font-size="23.3">Bacterial infections</text></g>

<!-- dashed callout -->
<path d="M389,70 H464 L497,122 M455,137 V122 H577" fill="none" stroke="#5e4c4a" stroke-width="0.9" stroke-dasharray="1.8 1.2"/>

<!-- arrows -->
<path d="M102.5,264 C99,288 99,312 105,330 L103.8,337 L114,351 L117.6,332 L112.5,330 C108,312 107,288 111.5,264 Z" fill="url(#gArrowV1)"/>
<path d="M332.5,295 L336,328 L330.9,331 L342.3,350 L351.3,327 L344.3,328 L345,295 Z" fill="url(#gArrowV)"/>
<path d="M567,256 C582,268 588,280 587.8,300 C587.8,312 586.5,320 585,325.5 L580.7,323.8 L584.6,340.5 L596.4,327.8 L591.2,326.5 C593.5,318 595.2,310 595,298 C594.5,280 588,266 576,256 Z" fill="url(#gArrowV)"/>
<path d="M456.7,405.9 L462,410.1 L456.7,414.3 L485.2,414.3 L485.2,417.7 L504.5,411.4 L485.2,403.4 L485.2,405.9 Z" fill="url(#gArrowH)"/>
<!-- boxes -->
<g fill="#fdeae6" stroke="url(#gBoxStroke)" stroke-width="1.1">
<rect x="19.5" y="352.2" width="188.8" height="126.3" rx="10.5"/>
<rect x="262.7" y="352.4" width="188.5" height="126.3" rx="10.5"/>
<rect x="505.9" y="352" width="188.1" height="126.3" rx="10.5"/>
</g>
<g fill="none" stroke="#fff8f6" stroke-width="1" opacity="0.8">
<rect x="20.8" y="353.5" width="186.2" height="123.7" rx="9.5"/>
<rect x="264" y="353.7" width="185.9" height="123.7" rx="9.5"/>
<rect x="507.2" y="353.3" width="185.5" height="123.7" rx="9.5"/>
</g>
<g stroke="#a09090" stroke-width="0.8" stroke-dasharray="1.5 1.5">
<line x1="21" y1="452" x2="207" y2="452"/>
<line x1="264" y1="452.5" x2="450" y2="452.5"/>
<line x1="507" y1="452.5" x2="693" y2="452.5"/>
</g>
<circle cx="69.5" cy="389.5" r="25.0" fill="url(#gBact)"/>
<circle cx="123.4" cy="388.6" r="26.0" fill="url(#gBact)"/>
<circle cx="111.0" cy="431.5" r="19.5" fill="url(#gBact)"/>
<circle cx="154.2" cy="420.7" r="20.0" fill="url(#gBact)"/>
<path transform="translate(82.0,412.0) rotate(75.0)" d="M0.0,-1.6 L1.6,1.6 L3.2,-1.6 L4.8,1.6 L6.4,-1.6 L8.0,1.6 L9.6,-1.6 L11.2,1.6 L12.8,-1.6 L14.4,1.6 L16.0,-1.6 L17.6,1.6 L19.2,-1.6 L20.8,1.6" fill="none" stroke="#2a3a7a" stroke-width="1.25"/>
<path transform="translate(88.0,411.0) rotate(78.0)" d="M0.0,-1.6 L1.6,1.6 L3.2,-1.6 L4.8,1.6 L6.4,-1.6 L8.0,1.6 L9.6,-1.6 L11.2,1.6 L12.8,-1.6 L14.4,1.6 L16.0,-1.6 L17.6,1.6 L19.2,-1.6 L20.8,1.6" fill="none" stroke="#3a6aa0" stroke-width="1.25"/>
<path transform="translate(94.0,412.0) rotate(80.0)" d="M0.0,-1.6 L1.6,1.6 L3.2,-1.6 L4.8,1.6 L6.4,-1.6 L8.0,1.6 L9.6,-1.6 L11.2,1.6 L12.8,-1.6 L14.4,1.6 L16.0,-1.6 L17.6,1.6 L19.2,-1.6" fill="none" stroke="#2a3a7a" stroke-width="1.25"/>
<path transform="translate(114.0,398.0) rotate(-60.0)" d="M0.0,-1.6 L1.6,1.6 L3.2,-1.6 L4.8,1.6 L6.4,-1.6 L8.0,1.6 L9.6,-1.6 L11.2,1.6 L12.8,-1.6 L14.4,1.6 L16.0,-1.6 L17.6,1.6 L19.2,-1.6 L20.8,1.6 L22.4,-1.6 L24.0,1.6" fill="none" stroke="#2a3a7a" stroke-width="1.25"/>
<path transform="translate(119.0,400.0) rotate(-60.0)" d="M0.0,-1.6 L1.6,1.6 L3.2,-1.6 L4.8,1.6 L6.4,-1.6 L8.0,1.6 L9.6,-1.6 L11.2,1.6 L12.8,-1.6 L14.4,1.6 L16.0,-1.6 L17.6,1.6 L19.2,-1.6 L20.8,1.6 L22.4,-1.6 L24.0,1.6" fill="none" stroke="#3a6aa0" stroke-width="1.25"/>
<path transform="translate(124.0,402.0) rotate(-60.0)" d="M0.0,-1.6 L1.6,1.6 L3.2,-1.6 L4.8,1.6 L6.4,-1.6 L8.0,1.6 L9.6,-1.6 L11.2,1.6 L12.8,-1.6 L14.4,1.6 L16.0,-1.6 L17.6,1.6 L19.2,-1.6 L20.8,1.6" fill="none" stroke="#2a3a7a" stroke-width="1.25"/>
<path transform="translate(145.0,424.0) rotate(60.0)" d="M0.0,-1.6 L1.6,1.6 L3.2,-1.6 L4.8,1.6 L6.4,-1.6 L8.0,1.6 L9.6,-1.6 L11.2,1.6" fill="none" stroke="#4a4a6a" stroke-width="1.25"/>
<path transform="translate(149.0,422.0) rotate(60.0)" d="M0.0,-1.6 L1.6,1.6 L3.2,-1.6 L4.8,1.6 L6.4,-1.6 L8.0,1.6 L9.6,-1.6 L11.2,1.6" fill="none" stroke="#4a4a6a" stroke-width="1.25"/>
<path transform="translate(153.0,420.0) rotate(60.0)" d="M0.0,-1.6 L1.6,1.6 L3.2,-1.6 L4.8,1.6 L6.4,-1.6 L8.0,1.6 L9.6,-1.6 L11.2,1.6" fill="none" stroke="#4a4a6a" stroke-width="1.25"/>
<g transform="translate(82.4,371.3) rotate(304.0) scale(0.70)" stroke="#8a9cc4" stroke-width="1.1" fill="none" stroke-linecap="round"><path d="M0,0 L4,0 M4,0 L7,-2.8 M4,0 L7,2.8"/></g><g transform="translate(77.5,369.7) rotate(272.9) scale(0.70)" stroke="#8a9cc4" stroke-width="1.1" fill="none" stroke-linecap="round"><path d="M0,0 L4,0 M4,0 L7,-2.8 M4,0 L7,2.8"/></g><g transform="translate(68.5,383.9) rotate(151.4) scale(0.70)" stroke="#8a9cc4" stroke-width="1.1" fill="none" stroke-linecap="round"><path d="M0,0 L4,0 M4,0 L7,-2.8 M4,0 L7,2.8"/></g><circle cx="77.0" cy="379.3" r="10.0" fill="#fdf0f2" opacity="0.55"/><g transform="translate(77.0,379.3)"><circle r="7.61" fill="none" stroke="#fbe6e0" stroke-width="2.83"/><circle cx="9.03" cy="0.00" r="1.05" fill="#ee96a4" stroke="#d8707e" stroke-width="0.30"/><circle cx="6.11" cy="1.02" r="0.95" fill="#ee96a4" stroke="#d8707e" stroke-width="0.30"/><circle cx="8.54" cy="2.93" r="1.05" fill="#ee96a4" stroke="#d8707e" stroke-width="0.30"/><circle cx="5.45" cy="2.95" r="0.95" fill="#ee96a4" stroke="#d8707e" stroke-width="0.30"/><circle cx="7.13" cy="5.55" r="1.05" fill="#ee96a4" stroke="#d8707e" stroke-width="0.30"/><circle cx="4.20" cy="4.56" r="0.95" fill="#ee96a4" stroke="#d8707e" stroke-width="0.30"/><circle cx="4.94" cy="7.56" r="1.05" fill="#ee96a4" stroke="#d8707e" stroke-width="0.30"/><circle cx="2.49" cy="5.67" r="0.95" fill="#ee96a4" stroke="#d8707e" stroke-width="0.30"/><circle cx="2.22" cy="8.75" r="1.05" fill="#ee96a4" stroke="#d8707e" stroke-width="0.30"/><circle cx="0.51" cy="6.17" r="0.95" fill="#ee96a4" stroke="#d8707e" stroke-width="0.30"/><circle cx="-0.75" cy="9.00" r="1.05" fill="#ee96a4" stroke="#d8707e" stroke-width="0.30"/><circle cx="-1.52" cy="6.01" r="0.95" fill="#ee96a4" stroke="#d8707e" stroke-width="0.30"/><circle cx="-3.63" cy="8.27" r="1.05" fill="#ee96a4" stroke="#d8707e" stroke-width="0.30"/><circle cx="-3.39" cy="5.19" r="0.95" fill="#ee96a4" stroke="#d8707e" stroke-width="0.30"/><circle cx="-6.12" cy="6.64" r="1.05" fill="#ee96a4" stroke="#d8707e" stroke-width="0.30"/><circle cx="-4.89" cy="3.81" r="0.95" fill="#ee96a4" stroke="#d8707e" stroke-width="0.30"/><circle cx="-7.94" cy="4.30" r="1.05" fill="#ee96a4" stroke="#d8707e" stroke-width="0.30"/><circle cx="-5.86" cy="2.01" r="0.95" fill="#ee96a4" stroke="#d8707e" stroke-width="0.30"/><circle cx="-8.91" cy="1.49" r="1.05" fill="#ee96a4" stroke="#d8707e" stroke-width="0.30"/><circle cx="-6.19" cy="0.00" r="0.95" fill="#ee96a4" stroke="#d8707e" stroke-width="0.30"/><circle cx="-8.91" cy="-1.49" r="1.05" fill="#ee96a4" stroke="#d8707e" stroke-width="0.30"/><circle cx="-5.86" cy="-2.01" r="0.95" fill="#ee96a4" stroke="#d8707e" stroke-width="0.30"/><circle cx="-7.94" cy="-4.30" r="1.05" fill="#ee96a4" stroke="#d8707e" stroke-width="0.30"/><circle cx="-4.89" cy="-3.81" r="0.95" fill="#ee96a4" stroke="#d8707e" stroke-width="0.30"/><circle cx="-6.12" cy="-6.64" r="1.05" fill="#ee96a4" stroke="#d8707e" stroke-width="0.30"/><circle cx="-3.39" cy="-5.19" r="0.95" fill="#ee96a4" stroke="#d8707e" stroke-width="0.30"/><circle cx="-3.63" cy="-8.27" r="1.05" fill="#ee96a4" stroke="#d8707e" stroke-width="0.30"/><circle cx="-1.52" cy="-6.01" r="0.95" fill="#ee96a4" stroke="#d8707e" stroke-width="0.30"/><circle cx="-0.75" cy="-9.00" r="1.05" fill="#ee96a4" stroke="#d8707e" stroke-width="0.30"/><circle cx="0.51" cy="-6.17" r="0.95" fill="#ee96a4" stroke="#d8707e" stroke-width="0.30"/><circle cx="2.22" cy="-8.75" r="1.05" fill="#ee96a4" stroke="#d8707e" stroke-width="0.30"/><circle cx="2.49" cy="-5.67" r="0.95" fill="#ee96a4" stroke="#d8707e" stroke-width="0.30"/><circle cx="4.94" cy="-7.56" r="1.05" fill="#ee96a4" stroke="#d8707e" stroke-width="0.30"/><circle cx="4.20" cy="-4.56" r="0.95" fill="#ee96a4" stroke="#d8707e" stroke-width="0.30"/><circle cx="7.13" cy="-5.55" r="1.05" fill="#ee96a4" stroke="#d8707e" stroke-width="0.30"/><circle cx="5.45" cy="-2.95" r="0.95" fill="#ee96a4" stroke="#d8707e" stroke-width="0.30"/><circle cx="8.54" cy="-2.93" r="1.05" fill="#ee96a4" stroke="#d8707e" stroke-width="0.30"/><circle cx="6.11" cy="-1.02" r="0.95" fill="#ee96a4" stroke="#d8707e" stroke-width="0.30"/></g><circle cx="77.0" cy="379.3" r="5.9" fill="#f8f0f4"/><circle cx="77.0" cy="379.3" r="4.7" fill="url(#gCore)"/>
<g transform="translate(64.1,418.6) rotate(48.4) scale(0.93)" stroke="#8a9cc4" stroke-width="1.1" fill="none" stroke-linecap="round"><path d="M0,0 L4,0 M4,0 L7,-2.8 M4,0 L7,2.8"/></g><g transform="translate(62.9,398.5) rotate(305.1) scale(0.93)" stroke="#8a9cc4" stroke-width="1.1" fill="none" stroke-linecap="round"><path d="M0,0 L4,0 M4,0 L7,-2.8 M4,0 L7,2.8"/></g><g transform="translate(56.6,396.2) rotate(275.0) scale(0.93)" stroke="#8a9cc4" stroke-width="1.1" fill="none" stroke-linecap="round"><path d="M0,0 L4,0 M4,0 L7,-2.8 M4,0 L7,2.8"/></g><circle cx="55.5" cy="409.0" r="13.3" fill="#fdf0f2" opacity="0.55"/><g transform="translate(55.5,409.0)"><circle r="10.15" fill="none" stroke="#fbe6e0" stroke-width="3.78"/><circle cx="12.04" cy="0.00" r="1.40" fill="#ee96a4" stroke="#d8707e" stroke-width="0.30"/><circle cx="8.20" cy="1.00" r="1.26" fill="#ee96a4" stroke="#d8707e" stroke-width="0.30"/><circle cx="11.69" cy="2.88" r="1.40" fill="#ee96a4" stroke="#d8707e" stroke-width="0.30"/><circle cx="7.72" cy="2.93" r="1.26" fill="#ee96a4" stroke="#d8707e" stroke-width="0.30"/><circle cx="10.66" cy="5.60" r="1.40" fill="#ee96a4" stroke="#d8707e" stroke-width="0.30"/><circle cx="6.80" cy="4.69" r="1.26" fill="#ee96a4" stroke="#d8707e" stroke-width="0.30"/><circle cx="9.01" cy="7.98" r="1.40" fill="#ee96a4" stroke="#d8707e" stroke-width="0.30"/><circle cx="5.48" cy="6.18" r="1.26" fill="#ee96a4" stroke="#d8707e" stroke-width="0.30"/><circle cx="6.84" cy="9.91" r="1.40" fill="#ee96a4" stroke="#d8707e" stroke-width="0.30"/><circle cx="3.84" cy="7.31" r="1.26" fill="#ee96a4" stroke="#d8707e" stroke-width="0.30"/><circle cx="4.27" cy="11.26" r="1.40" fill="#ee96a4" stroke="#d8707e" stroke-width="0.30"/><circle cx="1.98" cy="8.02" r="1.26" fill="#ee96a4" stroke="#d8707e" stroke-width="0.30"/><circle cx="1.45" cy="11.95" r="1.40" fill="#ee96a4" stroke="#d8707e" stroke-width="0.30"/><circle cx="0.00" cy="8.26" r="1.26" fill="#ee96a4" stroke="#d8707e" stroke-width="0.30"/><circle cx="-1.45" cy="11.95" r="1.40" fill="#ee96a4" stroke="#d8707e" stroke-width="0.30"/><circle cx="-1.98" cy="8.02" r="1.26" fill="#ee96a4" stroke="#d8707e" stroke-width="0.30"/><circle cx="-4.27" cy="11.26" r="1.40" fill="#ee96a4" stroke="#d8707e" stroke-width="0.30"/><circle cx="-3.84" cy="7.31" r="1.26" fill="#ee96a4" stroke="#d8707e" stroke-width="0.30"/><circle cx="-6.84" cy="9.91" r="1.40" fill="#ee96a4" stroke="#d8707e" stroke-width="0.30"/><circle cx="-5.48" cy="6.18" r="1.26" fill="#ee96a4" stroke="#d8707e" stroke-width="0.30"/><circle cx="-9.01" cy="7.98" r="1.40" fill="#ee96a4" stroke="#d8707e" stroke-width="0.30"/><circle cx="-6.80" cy="4.69" r="1.26" fill="#ee96a4" stroke="#d8707e" stroke-width="0.30"/><circle cx="-10.66" cy="5.60" r="1.40" fill="#ee96a4" stroke="#d8707e" stroke-width="0.30"/><circle cx="-7.72" cy="2.93" r="1.26" fill="#ee96a4" stroke="#d8707e" stroke-width="0.30"/><circle cx="-11.69" cy="2.88" r="1.40" fill="#ee96a4" stroke="#d8707e" stroke-width="0.30"/><circle cx="-8.20" cy="1.00" r="1.26" fill="#ee96a4" stroke="#d8707e" stroke-width="0.30"/><circle cx="-12.04" cy="-0.00" r="1.40" fill="#ee96a4" stroke="#d8707e" stroke-width="0.30"/><circle cx="-8.20" cy="-1.00" r="1.26" fill="#ee96a4" stroke="#d8707e" stroke-width="0.30"/><circle cx="-11.69" cy="-2.88" r="1.40" fill="#ee96a4" stroke="#d8707e" stroke-width="0.30"/><circle cx="-7.72" cy="-2.93" r="1.26" fill="#ee96a4" stroke="#d8707e" stroke-width="0.30"/><circle cx="-10.66" cy="-5.60" r="1.40" fill="#ee96a4" stroke="#d8707e" stroke-width="0.30"/><circle cx="-6.80" cy="-4.69" r="1.26" fill="#ee96a4" stroke="#d8707e" stroke-width="0.30"/><circle cx="-9.01" cy="-7.98" r="1.40" fill="#ee96a4" stroke="#d8707e" stroke-width="0.30"/><circle cx="-5.48" cy="-6.18" r="1.26" fill="#ee96a4" stroke="#d8707e" stroke-width="0.30"/><circle cx="-6.84" cy="-9.91" r="1.40" fill="#ee96a4" stroke="#d8707e" stroke-width="0.30"/><circle cx="-3.84" cy="-7.31" r="1.26" fill="#ee96a4" stroke="#d8707e" stroke-width="0.30"/><circle cx="-4.27" cy="-11.26" r="1.40" fill="#ee96a4" stroke="#d8707e" stroke-width="0.30"/><circle cx="-1.98" cy="-8.02" r="1.26" fill="#ee96a4" stroke="#d8707e" stroke-width="0.30"/><circle cx="-1.45" cy="-11.95" r="1.40" fill="#ee96a4" stroke="#d8707e" stroke-width="0.30"/><circle cx="-0.00" cy="-8.26" r="1.26" fill="#ee96a4" stroke="#d8707e" stroke-width="0.30"/><circle cx="1.45" cy="-11.95" r="1.40" fill="#ee96a4" stroke="#d8707e" stroke-width="0.30"/><circle cx="1.98" cy="-8.02" r="1.26" fill="#ee96a4" stroke="#d8707e" stroke-width="0.30"/><circle cx="4.27" cy="-11.26" r="1.40" fill="#ee96a4" stroke="#d8707e" stroke-width="0.30"/><circle cx="3.84" cy="-7.31" r="1.26" fill="#ee96a4" stroke="#d8707e" stroke-width="0.30"/><circle cx="6.84" cy="-9.91" r="1.40" fill="#ee96a4" stroke="#d8707e" stroke-width="0.30"/><circle cx="5.48" cy="-6.18" r="1.26" fill="#ee96a4" stroke="#d8707e" stroke-width="0.30"/><circle cx="9.01" cy="-7.98" r="1.40" fill="#ee96a4" stroke="#d8707e" stroke-width="0.30"/><circle cx="6.80" cy="-4.69" r="1.26" fill="#ee96a4" stroke="#d8707e" stroke-width="0.30"/><circle cx="10.66" cy="-5.60" r="1.40" fill="#ee96a4" stroke="#d8707e" stroke-width="0.30"/><circle cx="7.72" cy="-2.93" r="1.26" fill="#ee96a4" stroke="#d8707e" stroke-width="0.30"/><circle cx="11.69" cy="-2.88" r="1.40" fill="#ee96a4" stroke="#d8707e" stroke-width="0.30"/><circle cx="8.20" cy="-1.00" r="1.26" fill="#ee96a4" stroke="#d8707e" stroke-width="0.30"/></g><circle cx="55.5" cy="409.0" r="7.8" fill="#f8f0f4"/><circle cx="55.5" cy="409.0" r="6.3" fill="url(#gCore)"/>
<g transform="translate(117.0,402.2) rotate(344.2) scale(0.87)" stroke="#8a9cc4" stroke-width="1.1" fill="none" stroke-linecap="round"><path d="M0,0 L4,0 M4,0 L7,-2.8 M4,0 L7,2.8"/></g><g transform="translate(116.8,401.6) rotate(341.2) scale(0.87)" stroke="#8a9cc4" stroke-width="1.1" fill="none" stroke-linecap="round"><path d="M0,0 L4,0 M4,0 L7,-2.8 M4,0 L7,2.8"/></g><g transform="translate(116.7,409.7) rotate(20.4) scale(0.87)" stroke="#8a9cc4" stroke-width="1.1" fill="none" stroke-linecap="round"><path d="M0,0 L4,0 M4,0 L7,-2.8 M4,0 L7,2.8"/></g><circle cx="105.5" cy="405.5" r="12.3" fill="#fdf0f2" opacity="0.55"/><g transform="translate(105.5,405.5)"><circle r="9.42" fill="none" stroke="#fbe6e0" stroke-width="3.51"/><circle cx="11.18" cy="0.00" r="1.30" fill="#ee96a4" stroke="#d8707e" stroke-width="0.30"/><circle cx="7.60" cy="1.00" r="1.17" fill="#ee96a4" stroke="#d8707e" stroke-width="0.30"/><circle cx="10.80" cy="2.89" r="1.30" fill="#ee96a4" stroke="#d8707e" stroke-width="0.30"/><circle cx="7.09" cy="2.94" r="1.17" fill="#ee96a4" stroke="#d8707e" stroke-width="0.30"/><circle cx="9.68" cy="5.59" r="1.30" fill="#ee96a4" stroke="#d8707e" stroke-width="0.30"/><circle cx="6.09" cy="4.67" r="1.17" fill="#ee96a4" stroke="#d8707e" stroke-width="0.30"/><circle cx="7.91" cy="7.91" r="1.30" fill="#ee96a4" stroke="#d8707e" stroke-width="0.30"/><circle cx="4.67" cy="6.09" r="1.17" fill="#ee96a4" stroke="#d8707e" stroke-width="0.30"/><circle cx="5.59" cy="9.68" r="1.30" fill="#ee96a4" stroke="#d8707e" stroke-width="0.30"/><circle cx="2.94" cy="7.09" r="1.17" fill="#ee96a4" stroke="#d8707e" stroke-width="0.30"/><circle cx="2.89" cy="10.80" r="1.30" fill="#ee96a4" stroke="#d8707e" stroke-width="0.30"/><circle cx="1.00" cy="7.60" r="1.17" fill="#ee96a4" stroke="#d8707e" stroke-width="0.30"/><circle cx="0.00" cy="11.18" r="1.30" fill="#ee96a4" stroke="#d8707e" stroke-width="0.30"/><circle cx="-1.00" cy="7.60" r="1.17" fill="#ee96a4" stroke="#d8707e" stroke-width="0.30"/><circle cx="-2.89" cy="10.80" r="1.30" fill="#ee96a4" stroke="#d8707e" stroke-width="0.30"/><circle cx="-2.94" cy="7.09" r="1.17" fill="#ee96a4" stroke="#d8707e" stroke-width="0.30"/><circle cx="-5.59" cy="9.68" r="1.30" fill="#ee96a4" stroke="#d8707e" stroke-width="0.30"/><circle cx="-4.67" cy="6.09" r="1.17" fill="#ee96a4" stroke="#d8707e" stroke-width="0.30"/><circle cx="-7.91" cy="7.91" r="1.30" fill="#ee96a4" stroke="#d8707e" stroke-width="0.30"/><circle cx="-6.09" cy="4.67" r="1.17" fill="#ee96a4" stroke="#d8707e" stroke-width="0.30"/><circle cx="-9.68" cy="5.59" r="1.30" fill="#ee96a4" stroke="#d8707e" stroke-width="0.30"/><circle cx="-7.09" cy="2.94" r="1.17" fill="#ee96a4" stroke="#d8707e" stroke-width="0.30"/><circle cx="-10.80" cy="2.89" r="1.30" fill="#ee96a4" stroke="#d8707e" stroke-width="0.30"/><circle cx="-7.60" cy="1.00" r="1.17" fill="#ee96a4" stroke="#d8707e" stroke-width="0.30"/><circle cx="-11.18" cy="0.00" r="1.30" fill="#ee96a4" stroke="#d8707e" stroke-width="0.30"/><circle cx="-7.60" cy="-1.00" r="1.17" fill="#ee96a4" stroke="#d8707e" stroke-width="0.30"/><circle cx="-10.80" cy="-2.89" r="1.30" fill="#ee96a4" stroke="#d8707e" stroke-width="0.30"/><circle cx="-7.09" cy="-2.94" r="1.17" fill="#ee96a4" stroke="#d8707e" stroke-width="0.30"/><circle cx="-9.68" cy="-5.59" r="1.30" fill="#ee96a4" stroke="#d8707e" stroke-width="0.30"/><circle cx="-6.09" cy="-4.67" r="1.17" fill="#ee96a4" stroke="#d8707e" stroke-width="0.30"/><circle cx="-7.91" cy="-7.91" r="1.30" fill="#ee96a4" stroke="#d8707e" stroke-width="0.30"/><circle cx="-4.67" cy="-6.09" r="1.17" fill="#ee96a4" stroke="#d8707e" stroke-width="0.30"/><circle cx="-5.59" cy="-9.68" r="1.30" fill="#ee96a4" stroke="#d8707e" stroke-width="0.30"/><circle cx="-2.94" cy="-7.09" r="1.17" fill="#ee96a4" stroke="#d8707e" stroke-width="0.30"/><circle cx="-2.89" cy="-10.80" r="1.30" fill="#ee96a4" stroke="#d8707e" stroke-width="0.30"/><circle cx="-1.00" cy="-7.60" r="1.17" fill="#ee96a4" stroke="#d8707e" stroke-width="0.30"/><circle cx="-0.00" cy="-11.18" r="1.30" fill="#ee96a4" stroke="#d8707e" stroke-width="0.30"/><circle cx="1.00" cy="-7.60" r="1.17" fill="#ee96a4" stroke="#d8707e" stroke-width="0.30"/><circle cx="2.89" cy="-10.80" r="1.30" fill="#ee96a4" stroke="#d8707e" stroke-width="0.30"/><circle cx="2.94" cy="-7.09" r="1.17" fill="#ee96a4" stroke="#d8707e" stroke-width="0.30"/><circle cx="5.59" cy="-9.68" r="1.30" fill="#ee96a4" stroke="#d8707e" stroke-width="0.30"/><circle cx="4.67" cy="-6.09" r="1.17" fill="#ee96a4" stroke="#d8707e" stroke-width="0.30"/><circle cx="7.91" cy="-7.91" r="1.30" fill="#ee96a4" stroke="#d8707e" stroke-width="0.30"/><circle cx="6.09" cy="-4.67" r="1.17" fill="#ee96a4" stroke="#d8707e" stroke-width="0.30"/><circle cx="9.68" cy="-5.59" r="1.30" fill="#ee96a4" stroke="#d8707e" stroke-width="0.30"/><circle cx="7.09" cy="-2.94" r="1.17" fill="#ee96a4" stroke="#d8707e" stroke-width="0.30"/><circle cx="10.80" cy="-2.89" r="1.30" fill="#ee96a4" stroke="#d8707e" stroke-width="0.30"/><circle cx="7.60" cy="-1.00" r="1.17" fill="#ee96a4" stroke="#d8707e" stroke-width="0.30"/></g><circle cx="105.5" cy="405.5" r="7.3" fill="#f8f0f4"/><circle cx="105.5" cy="405.5" r="5.9" fill="url(#gCore)"/>
<g transform="translate(151.9,393.9) rotate(85.7) scale(0.87)" stroke="#8a9cc4" stroke-width="1.1" fill="none" stroke-linecap="round"><path d="M0,0 L4,0 M4,0 L7,-2.8 M4,0 L7,2.8"/></g><g transform="translate(139.5,378.7) rotate(195.9) scale(0.87)" stroke="#8a9cc4" stroke-width="1.1" fill="none" stroke-linecap="round"><path d="M0,0 L4,0 M4,0 L7,-2.8 M4,0 L7,2.8"/></g><g transform="translate(142.8,390.7) rotate(133.2) scale(0.87)" stroke="#8a9cc4" stroke-width="1.1" fill="none" stroke-linecap="round"><path d="M0,0 L4,0 M4,0 L7,-2.8 M4,0 L7,2.8"/></g><circle cx="151.0" cy="382.0" r="12.3" fill="#fdf0f2" opacity="0.55"/><g transform="translate(151.0,382.0)"><circle r="9.42" fill="none" stroke="#fbe6e0" stroke-width="3.51"/><circle cx="11.18" cy="0.00" r="1.30" fill="#ee96a4" stroke="#d8707e" stroke-width="0.30"/><circle cx="7.60" cy="1.00" r="1.17" fill="#ee96a4" stroke="#d8707e" stroke-width="0.30"/><circle cx="10.80" cy="2.89" r="1.30" fill="#ee96a4" stroke="#d8707e" stroke-width="0.30"/><circle cx="7.09" cy="2.94" r="1.17" fill="#ee96a4" stroke="#d8707e" stroke-width="0.30"/><circle cx="9.68" cy="5.59" r="1.30" fill="#ee96a4" stroke="#d8707e" stroke-width="0.30"/><circle cx="6.09" cy="4.67" r="1.17" fill="#ee96a4" stroke="#d8707e" stroke-width="0.30"/><circle cx="7.91" cy="7.91" r="1.30" fill="#ee96a4" stroke="#d8707e" stroke-width="0.30"/><circle cx="4.67" cy="6.09" r="1.17" fill="#ee96a4" stroke="#d8707e" stroke-width="0.30"/><circle cx="5.59" cy="9.68" r="1.30" fill="#ee96a4" stroke="#d8707e" stroke-width="0.30"/><circle cx="2.94" cy="7.09" r="1.17" fill="#ee96a4" stroke="#d8707e" stroke-width="0.30"/><circle cx="2.89" cy="10.80" r="1.30" fill="#ee96a4" stroke="#d8707e" stroke-width="0.30"/><circle cx="1.00" cy="7.60" r="1.17" fill="#ee96a4" stroke="#d8707e" stroke-width="0.30"/><circle cx="0.00" cy="11.18" r="1.30" fill="#ee96a4" stroke="#d8707e" stroke-width="0.30"/><circle cx="-1.00" cy="7.60" r="1.17" fill="#ee96a4" stroke="#d8707e" stroke-width="0.30"/><circle cx="-2.89" cy="10.80" r="1.30" fill="#ee96a4" stroke="#d8707e" stroke-width="0.30"/><circle cx="-2.94" cy="7.09" r="1.17" fill="#ee96a4" stroke="#d8707e" stroke-width="0.30"/><circle cx="-5.59" cy="9.68" r="1.30" fill="#ee96a4" stroke="#d8707e" stroke-width="0.30"/><circle cx="-4.67" cy="6.09" r="1.17" fill="#ee96a4" stroke="#d8707e" stroke-width="0.30"/><circle cx="-7.91" cy="7.91" r="1.30" fill="#ee96a4" stroke="#d8707e" stroke-width="0.30"/><circle cx="-6.09" cy="4.67" r="1.17" fill="#ee96a4" stroke="#d8707e" stroke-width="0.30"/><circle cx="-9.68" cy="5.59" r="1.30" fill="#ee96a4" stroke="#d8707e" stroke-width="0.30"/><circle cx="-7.09" cy="2.94" r="1.17" fill="#ee96a4" stroke="#d8707e" stroke-width="0.30"/><circle cx="-10.80" cy="2.89" r="1.30" fill="#ee96a4" stroke="#d8707e" stroke-width="0.30"/><circle cx="-7.60" cy="1.00" r="1.17" fill="#ee96a4" stroke="#d8707e" stroke-width="0.30"/><circle cx="-11.18" cy="0.00" r="1.30" fill="#ee96a4" stroke="#d8707e" stroke-width="0.30"/><circle cx="-7.60" cy="-1.00" r="1.17" fill="#ee96a4" stroke="#d8707e" stroke-width="0.30"/><circle cx="-10.80" cy="-2.89" r="1.30" fill="#ee96a4" stroke="#d8707e" stroke-width="0.30"/><circle cx="-7.09" cy="-2.94" r="1.17" fill="#ee96a4" stroke="#d8707e" stroke-width="0.30"/><circle cx="-9.68" cy="-5.59" r="1.30" fill="#ee96a4" stroke="#d8707e" stroke-width="0.30"/><circle cx="-6.09" cy="-4.67" r="1.17" fill="#ee96a4" stroke="#d8707e" stroke-width="0.30"/><circle cx="-7.91" cy="-7.91" r="1.30" fill="#ee96a4" stroke="#d8707e" stroke-width="0.30"/><circle cx="-4.67" cy="-6.09" r="1.17" fill="#ee96a4" stroke="#d8707e" stroke-width="0.30"/><circle cx="-5.59" cy="-9.68" r="1.30" fill="#ee96a4" stroke="#d8707e" stroke-width="0.30"/><circle cx="-2.94" cy="-7.09" r="1.17" fill="#ee96a4" stroke="#d8707e" stroke-width="0.30"/><circle cx="-2.89" cy="-10.80" r="1.30" fill="#ee96a4" stroke="#d8707e" stroke-width="0.30"/><circle cx="-1.00" cy="-7.60" r="1.17" fill="#ee96a4" stroke="#d8707e" stroke-width="0.30"/><circle cx="-0.00" cy="-11.18" r="1.30" fill="#ee96a4" stroke="#d8707e" stroke-width="0.30"/><circle cx="1.00" cy="-7.60" r="1.17" fill="#ee96a4" stroke="#d8707e" stroke-width="0.30"/><circle cx="2.89" cy="-10.80" r="1.30" fill="#ee96a4" stroke="#d8707e" stroke-width="0.30"/><circle cx="2.94" cy="-7.09" r="1.17" fill="#ee96a4" stroke="#d8707e" stroke-width="0.30"/><circle cx="5.59" cy="-9.68" r="1.30" fill="#ee96a4" stroke="#d8707e" stroke-width="0.30"/><circle cx="4.67" cy="-6.09" r="1.17" fill="#ee96a4" stroke="#d8707e" stroke-width="0.30"/><circle cx="7.91" cy="-7.91" r="1.30" fill="#ee96a4" stroke="#d8707e" stroke-width="0.30"/><circle cx="6.09" cy="-4.67" r="1.17" fill="#ee96a4" stroke="#d8707e" stroke-width="0.30"/><circle cx="9.68" cy="-5.59" r="1.30" fill="#ee96a4" stroke="#d8707e" stroke-width="0.30"/><circle cx="7.09" cy="-2.94" r="1.17" fill="#ee96a4" stroke="#d8707e" stroke-width="0.30"/><circle cx="10.80" cy="-2.89" r="1.30" fill="#ee96a4" stroke="#d8707e" stroke-width="0.30"/><circle cx="7.60" cy="-1.00" r="1.17" fill="#ee96a4" stroke="#d8707e" stroke-width="0.30"/></g><circle cx="151.0" cy="382.0" r="7.3" fill="#f8f0f4"/><circle cx="151.0" cy="382.0" r="5.9" fill="url(#gCore)"/>
<g transform="translate(180.7,424.8) rotate(85.0) scale(0.67)" stroke="#8a9cc4" stroke-width="1.1" fill="none" stroke-linecap="round"><path d="M0,0 L4,0 M4,0 L7,-2.8 M4,0 L7,2.8"/></g><g transform="translate(187.2,421.2) rotate(37.1) scale(0.67)" stroke="#8a9cc4" stroke-width="1.1" fill="none" stroke-linecap="round"><path d="M0,0 L4,0 M4,0 L7,-2.8 M4,0 L7,2.8"/></g><g transform="translate(172.6,421.2) rotate(142.6) scale(0.67)" stroke="#8a9cc4" stroke-width="1.1" fill="none" stroke-linecap="round"><path d="M0,0 L4,0 M4,0 L7,-2.8 M4,0 L7,2.8"/></g><circle cx="179.9" cy="415.6" r="9.5" fill="#fdf0f2" opacity="0.55"/><g transform="translate(179.9,415.6)"><circle r="7.25" fill="none" stroke="#fbe6e0" stroke-width="2.70"/><circle cx="8.60" cy="0.00" r="1.00" fill="#ee96a4" stroke="#d8707e" stroke-width="0.30"/><circle cx="5.82" cy="0.97" r="0.90" fill="#ee96a4" stroke="#d8707e" stroke-width="0.30"/><circle cx="8.13" cy="2.79" r="1.00" fill="#ee96a4" stroke="#d8707e" stroke-width="0.30"/><circle cx="5.19" cy="2.81" r="0.90" fill="#ee96a4" stroke="#d8707e" stroke-width="0.30"/><circle cx="6.79" cy="5.28" r="1.00" fill="#ee96a4" stroke="#d8707e" stroke-width="0.30"/><circle cx="4.00" cy="4.34" r="0.90" fill="#ee96a4" stroke="#d8707e" stroke-width="0.30"/><circle cx="4.70" cy="7.20" r="1.00" fill="#ee96a4" stroke="#d8707e" stroke-width="0.30"/><circle cx="2.37" cy="5.40" r="0.90" fill="#ee96a4" stroke="#d8707e" stroke-width="0.30"/><circle cx="2.11" cy="8.34" r="1.00" fill="#ee96a4" stroke="#d8707e" stroke-width="0.30"/><circle cx="0.49" cy="5.88" r="0.90" fill="#ee96a4" stroke="#d8707e" stroke-width="0.30"/><circle cx="-0.71" cy="8.57" r="1.00" fill="#ee96a4" stroke="#d8707e" stroke-width="0.30"/><circle cx="-1.45" cy="5.72" r="0.90" fill="#ee96a4" stroke="#d8707e" stroke-width="0.30"/><circle cx="-3.45" cy="7.88" r="1.00" fill="#ee96a4" stroke="#d8707e" stroke-width="0.30"/><circle cx="-3.23" cy="4.94" r="0.90" fill="#ee96a4" stroke="#d8707e" stroke-width="0.30"/><circle cx="-5.82" cy="6.33" r="1.00" fill="#ee96a4" stroke="#d8707e" stroke-width="0.30"/><circle cx="-4.66" cy="3.62" r="0.90" fill="#ee96a4" stroke="#d8707e" stroke-width="0.30"/><circle cx="-7.56" cy="4.09" r="1.00" fill="#ee96a4" stroke="#d8707e" stroke-width="0.30"/><circle cx="-5.58" cy="1.92" r="0.90" fill="#ee96a4" stroke="#d8707e" stroke-width="0.30"/><circle cx="-8.48" cy="1.42" r="1.00" fill="#ee96a4" stroke="#d8707e" stroke-width="0.30"/><circle cx="-5.90" cy="0.00" r="0.90" fill="#ee96a4" stroke="#d8707e" stroke-width="0.30"/><circle cx="-8.48" cy="-1.42" r="1.00" fill="#ee96a4" stroke="#d8707e" stroke-width="0.30"/><circle cx="-5.58" cy="-1.92" r="0.90" fill="#ee96a4" stroke="#d8707e" stroke-width="0.30"/><circle cx="-7.56" cy="-4.09" r="1.00" fill="#ee96a4" stroke="#d8707e" stroke-width="0.30"/><circle cx="-4.66" cy="-3.62" r="0.90" fill="#ee96a4" stroke="#d8707e" stroke-width="0.30"/><circle cx="-5.82" cy="-6.33" r="1.00" fill="#ee96a4" stroke="#d8707e" stroke-width="0.30"/><circle cx="-3.23" cy="-4.94" r="0.90" fill="#ee96a4" stroke="#d8707e" stroke-width="0.30"/><circle cx="-3.45" cy="-7.88" r="1.00" fill="#ee96a4" stroke="#d8707e" stroke-width="0.30"/><circle cx="-1.45" cy="-5.72" r="0.90" fill="#ee96a4" stroke="#d8707e" stroke-width="0.30"/><circle cx="-0.71" cy="-8.57" r="1.00" fill="#ee96a4" stroke="#d8707e" stroke-width="0.30"/><circle cx="0.49" cy="-5.88" r="0.90" fill="#ee96a4" stroke="#d8707e" stroke-width="0.30"/><circle cx="2.11" cy="-8.34" r="1.00" fill="#ee96a4" stroke="#d8707e" stroke-width="0.30"/><circle cx="2.37" cy="-5.40" r="0.90" fill="#ee96a4" stroke="#d8707e" stroke-width="0.30"/><circle cx="4.70" cy="-7.20" r="1.00" fill="#ee96a4" stroke="#d8707e" stroke-width="0.30"/><circle cx="4.00" cy="-4.34" r="0.90" fill="#ee96a4" stroke="#d8707e" stroke-width="0.30"/><circle cx="6.79" cy="-5.28" r="1.00" fill="#ee96a4" stroke="#d8707e" stroke-width="0.30"/><circle cx="5.19" cy="-2.81" r="0.90" fill="#ee96a4" stroke="#d8707e" stroke-width="0.30"/><circle cx="8.13" cy="-2.79" r="1.00" fill="#ee96a4" stroke="#d8707e" stroke-width="0.30"/><circle cx="5.82" cy="-0.97" r="0.90" fill="#ee96a4" stroke="#d8707e" stroke-width="0.30"/></g><circle cx="179.9" cy="415.6" r="5.6" fill="#f8f0f4"/><circle cx="179.9" cy="415.6" r="4.5" fill="url(#gCore)"/>
<g transform="translate(125.1,430.9) rotate(224.2) scale(0.63)" stroke="#8a9cc4" stroke-width="1.1" fill="none" stroke-linecap="round"><path d="M0,0 L4,0 M4,0 L7,-2.8 M4,0 L7,2.8"/></g><g transform="translate(130.9,428.3) rotate(267.0) scale(0.63)" stroke="#8a9cc4" stroke-width="1.1" fill="none" stroke-linecap="round"><path d="M0,0 L4,0 M4,0 L7,-2.8 M4,0 L7,2.8"/></g><g transform="translate(133.8,428.6) rotate(286.3) scale(0.63)" stroke="#8a9cc4" stroke-width="1.1" fill="none" stroke-linecap="round"><path d="M0,0 L4,0 M4,0 L7,-2.8 M4,0 L7,2.8"/></g><circle cx="131.4" cy="437.0" r="9.0" fill="#fdf0f2" opacity="0.55"/><g transform="translate(131.4,437.0)"><circle r="6.89" fill="none" stroke="#fbe6e0" stroke-width="2.57"/><circle cx="8.17" cy="0.00" r="0.95" fill="#ee96a4" stroke="#d8707e" stroke-width="0.30"/><circle cx="5.52" cy="0.97" r="0.86" fill="#ee96a4" stroke="#d8707e" stroke-width="0.30"/><circle cx="7.68" cy="2.79" r="0.95" fill="#ee96a4" stroke="#d8707e" stroke-width="0.30"/><circle cx="4.85" cy="2.80" r="0.86" fill="#ee96a4" stroke="#d8707e" stroke-width="0.30"/><circle cx="6.26" cy="5.25" r="0.95" fill="#ee96a4" stroke="#d8707e" stroke-width="0.30"/><circle cx="3.60" cy="4.29" r="0.86" fill="#ee96a4" stroke="#d8707e" stroke-width="0.30"/><circle cx="4.09" cy="7.08" r="0.95" fill="#ee96a4" stroke="#d8707e" stroke-width="0.30"/><circle cx="1.92" cy="5.27" r="0.86" fill="#ee96a4" stroke="#d8707e" stroke-width="0.30"/><circle cx="1.42" cy="8.05" r="0.95" fill="#ee96a4" stroke="#d8707e" stroke-width="0.30"/><circle cx="0.00" cy="5.60" r="0.86" fill="#ee96a4" stroke="#d8707e" stroke-width="0.30"/><circle cx="-1.42" cy="8.05" r="0.95" fill="#ee96a4" stroke="#d8707e" stroke-width="0.30"/><circle cx="-1.92" cy="5.27" r="0.86" fill="#ee96a4" stroke="#d8707e" stroke-width="0.30"/><circle cx="-4.08" cy="7.08" r="0.95" fill="#ee96a4" stroke="#d8707e" stroke-width="0.30"/><circle cx="-3.60" cy="4.29" r="0.86" fill="#ee96a4" stroke="#d8707e" stroke-width="0.30"/><circle cx="-6.26" cy="5.25" r="0.95" fill="#ee96a4" stroke="#d8707e" stroke-width="0.30"/><circle cx="-4.85" cy="2.80" r="0.86" fill="#ee96a4" stroke="#d8707e" stroke-width="0.30"/><circle cx="-7.68" cy="2.79" r="0.95" fill="#ee96a4" stroke="#d8707e" stroke-width="0.30"/><circle cx="-5.52" cy="0.97" r="0.86" fill="#ee96a4" stroke="#d8707e" stroke-width="0.30"/><circle cx="-8.17" cy="0.00" r="0.95" fill="#ee96a4" stroke="#d8707e" stroke-width="0.30"/><circle cx="-5.52" cy="-0.97" r="0.86" fill="#ee96a4" stroke="#d8707e" stroke-width="0.30"/><circle cx="-7.68" cy="-2.79" r="0.95" fill="#ee96a4" stroke="#d8707e" stroke-width="0.30"/><circle cx="-4.85" cy="-2.80" r="0.86" fill="#ee96a4" stroke="#d8707e" stroke-width="0.30"/><circle cx="-6.26" cy="-5.25" r="0.95" fill="#ee96a4" stroke="#d8707e" stroke-width="0.30"/><circle cx="-3.60" cy="-4.29" r="0.86" fill="#ee96a4" stroke="#d8707e" stroke-width="0.30"/><circle cx="-4.09" cy="-7.08" r="0.95" fill="#ee96a4" stroke="#d8707e" stroke-width="0.30"/><circle cx="-1.92" cy="-5.27" r="0.86" fill="#ee96a4" stroke="#d8707e" stroke-width="0.30"/><circle cx="-1.42" cy="-8.05" r="0.95" fill="#ee96a4" stroke="#d8707e" stroke-width="0.30"/><circle cx="-0.00" cy="-5.60" r="0.86" fill="#ee96a4" stroke="#d8707e" stroke-width="0.30"/><circle cx="1.42" cy="-8.05" r="0.95" fill="#ee96a4" stroke="#d8707e" stroke-width="0.30"/><circle cx="1.92" cy="-5.27" r="0.86" fill="#ee96a4" stroke="#d8707e" stroke-width="0.30"/><circle cx="4.08" cy="-7.08" r="0.95" fill="#ee96a4" stroke="#d8707e" stroke-width="0.30"/><circle cx="3.60" cy="-4.29" r="0.86" fill="#ee96a4" stroke="#d8707e" stroke-width="0.30"/><circle cx="6.26" cy="-5.25" r="0.95" fill="#ee96a4" stroke="#d8707e" stroke-width="0.30"/><circle cx="4.85" cy="-2.80" r="0.86" fill="#ee96a4" stroke="#d8707e" stroke-width="0.30"/><circle cx="7.68" cy="-2.79" r="0.95" fill="#ee96a4" stroke="#d8707e" stroke-width="0.30"/><circle cx="5.52" cy="-0.97" r="0.86" fill="#ee96a4" stroke="#d8707e" stroke-width="0.30"/></g><circle cx="131.4" cy="437.0" r="5.3" fill="#f8f0f4"/><circle cx="131.4" cy="437.0" r="4.3" fill="url(#gCore)"/>
<path d="M291.5,413.8 l1.9,-0.7 l-0.3,1.6 l-1.4,-0.4 Z" fill="#5a3a6a"/>
<path d="M294.9,412.0 l1.9,-0.7 l-0.3,1.6 l-1.4,-0.4 Z" fill="#b08868"/>
<path d="M295.5,411.0 l2.5,-0.9 l-0.4,2.1 l-1.8,-0.5 Z" fill="#a03040"/>
<path d="M296.1,417.7 l3.1,-1.1 l-0.4,2.7 l-2.2,-0.7 Z" fill="#7a1a2a"/>
<path d="M297.1,413.0 l2.7,-1.0 l-0.4,2.3 l-1.9,-0.6 Z" fill="#5a3a6a"/>
<path d="M298.2,418.3 l3.3,-1.2 l-0.5,2.8 l-2.4,-0.7 Z" fill="#7a1a2a"/>
<path d="M299.5,422.9 l2.5,-0.9 l-0.4,2.1 l-1.8,-0.5 Z" fill="#c24a5a"/>
<path d="M302.2,418.4 l3.1,-1.1 l-0.4,2.6 l-2.2,-0.7 Z" fill="#b08868"/>
<path d="M302.3,418.6 l2.1,-0.8 l-0.3,1.8 l-1.5,-0.5 Z" fill="#5a3a6a"/>
<path d="M303.2,421.3 l1.9,-0.7 l-0.3,1.6 l-1.4,-0.4 Z" fill="#b08868"/>
<path d="M304.7,420.9 l3.0,-1.1 l-0.4,2.6 l-2.2,-0.6 Z" fill="#a03040"/>
<path d="M306.7,426.8 l2.3,-0.8 l-0.3,2.0 l-1.6,-0.5 Z" fill="#c24a5a"/>
<path d="M308.8,422.0 l1.9,-0.7 l-0.3,1.7 l-1.4,-0.4 Z" fill="#2a2a5a"/>
<path d="M308.4,416.9 l2.9,-1.1 l-0.4,2.5 l-2.1,-0.6 Z" fill="#c24a5a"/>
<path d="M309.5,429.4 l2.6,-0.9 l-0.4,2.2 l-1.9,-0.6 Z" fill="#7a1a2a"/>
<path d="M310.2,412.8 l2.5,-0.9 l-0.4,2.1 l-1.8,-0.5 Z" fill="#a03040"/>
<path d="M313.7,404.4 l2.7,-1.0 l-0.4,2.3 l-1.9,-0.6 Z" fill="#b08868"/>
<path d="M314.5,411.3 l2.4,-0.8 l-0.3,2.0 l-1.7,-0.5 Z" fill="#5a3a6a"/>
<path d="M314.4,426.0 l3.1,-1.1 l-0.4,2.7 l-2.2,-0.7 Z" fill="#7a1a2a"/>
<path d="M316.8,416.2 l1.9,-0.7 l-0.3,1.6 l-1.4,-0.4 Z" fill="#5a3a6a"/>
<path d="M317.3,410.7 l3.3,-1.2 l-0.5,2.9 l-2.4,-0.7 Z" fill="#b08868"/>
<path d="M318.6,409.6 l3.2,-1.1 l-0.5,2.7 l-2.3,-0.7 Z" fill="#a03040"/>
<path d="M318.2,431.9 l2.1,-0.7 l-0.3,1.8 l-1.5,-0.4 Z" fill="#c24a5a"/>
<path d="M318.5,401.9 l2.0,-0.7 l-0.3,1.7 l-1.4,-0.4 Z" fill="#c24a5a"/>
<path d="M319.9,413.1 l1.9,-0.7 l-0.3,1.7 l-1.4,-0.4 Z" fill="#a03040"/>
<path d="M321.5,418.8 l3.1,-1.1 l-0.4,2.6 l-2.2,-0.7 Z" fill="#2a2a5a"/>
<path d="M323.8,408.4 l3.3,-1.2 l-0.5,2.9 l-2.4,-0.7 Z" fill="#a03040"/>
<path d="M324.2,412.3 l2.1,-0.7 l-0.3,1.8 l-1.5,-0.4 Z" fill="#2a2a5a"/>
<path d="M323.7,406.6 l1.8,-0.7 l-0.3,1.6 l-1.3,-0.4 Z" fill="#2a2a5a"/>
<path d="M326.7,403.8 l1.8,-0.7 l-0.3,1.6 l-1.3,-0.4 Z" fill="#c24a5a"/>
<path d="M326.4,411.6 l2.3,-0.8 l-0.3,2.0 l-1.7,-0.5 Z" fill="#b08868"/>
<path d="M326.5,431.9 l2.8,-1.0 l-0.4,2.4 l-2.0,-0.6 Z" fill="#b08868"/>
<path d="M329.3,415.1 l3.0,-1.1 l-0.4,2.6 l-2.2,-0.7 Z" fill="#5a3a6a"/>
<path d="M329.3,412.5 l2.6,-0.9 l-0.4,2.2 l-1.8,-0.5 Z" fill="#7a1a2a"/>
<path d="M330.3,403.1 l2.5,-0.9 l-0.4,2.1 l-1.8,-0.5 Z" fill="#2a2a5a"/>
<path d="M330.3,421.5 l1.8,-0.7 l-0.3,1.6 l-1.3,-0.4 Z" fill="#7a1a2a"/>
<path d="M331.4,398.6 l2.8,-1.0 l-0.4,2.4 l-2.0,-0.6 Z" fill="#c24a5a"/>
<path d="M332.1,403.3 l2.0,-0.7 l-0.3,1.8 l-1.5,-0.4 Z" fill="#a03040"/>
<path d="M333.6,409.7 l2.6,-0.9 l-0.4,2.2 l-1.8,-0.5 Z" fill="#c24a5a"/>
<path d="M334.2,416.4 l2.6,-0.9 l-0.4,2.2 l-1.8,-0.5 Z" fill="#a03040"/>
<path d="M335.7,399.2 l2.3,-0.8 l-0.3,2.0 l-1.7,-0.5 Z" fill="#5a3a6a"/>
<path d="M336.5,433.7 l2.6,-0.9 l-0.4,2.2 l-1.9,-0.6 Z" fill="#2a2a5a"/>
<path d="M337.3,440.3 l2.0,-0.7 l-0.3,1.8 l-1.5,-0.4 Z" fill="#c24a5a"/>
<path d="M339.2,391.8 l2.3,-0.8 l-0.3,2.0 l-1.6,-0.5 Z" fill="#b08868"/>
<g transform="translate(376.5,376.1) rotate(-85.0) scale(1.70)" stroke="#8ea8d4" stroke-width="1.1" fill="none" stroke-linecap="round"><path d="M0,0 L4,0 M4,0 L7,-2.8 M4,0 L7,2.8"/></g>
<g transform="translate(351.1,385.4) rotate(-135.0) scale(1.70)" stroke="#8ea8d4" stroke-width="1.1" fill="none" stroke-linecap="round"><path d="M0,0 L4,0 M4,0 L7,-2.8 M4,0 L7,2.8"/></g>
<g transform="translate(401.4,392.0) rotate(-30.0) scale(1.70)" stroke="#8ea8d4" stroke-width="1.1" fill="none" stroke-linecap="round"><path d="M0,0 L4,0 M4,0 L7,-2.8 M4,0 L7,2.8"/></g>
<g transform="translate(351.1,430.6) rotate(135.0) scale(1.70)" stroke="#8ea8d4" stroke-width="1.1" fill="none" stroke-linecap="round"><path d="M0,0 L4,0 M4,0 L7,-2.8 M4,0 L7,2.8"/></g>
<g transform="translate(396.3,430.6) rotate(45.0) scale(1.70)" stroke="#8ea8d4" stroke-width="1.1" fill="none" stroke-linecap="round"><path d="M0,0 L4,0 M4,0 L7,-2.8 M4,0 L7,2.8"/></g>
<circle cx="373.7" cy="408.0" r="34.5" fill="#fdf2f4"/>
<circle cx="404.20" cy="408.00" r="3.50" fill="#f5b8c3" stroke="#dc8090" stroke-width="0.60"/><circle cx="402.96" cy="416.59" r="3.50" fill="#f5b8c3" stroke="#dc8090" stroke-width="0.60"/><circle cx="399.36" cy="424.49" r="3.50" fill="#f5b8c3" stroke="#dc8090" stroke-width="0.60"/><circle cx="393.67" cy="431.05" r="3.50" fill="#f5b8c3" stroke="#dc8090" stroke-width="0.60"/><circle cx="386.37" cy="435.74" r="3.50" fill="#f5b8c3" stroke="#dc8090" stroke-width="0.60"/><circle cx="378.04" cy="438.19" r="3.50" fill="#f5b8c3" stroke="#dc8090" stroke-width="0.60"/><circle cx="369.36" cy="438.19" r="3.50" fill="#f5b8c3" stroke="#dc8090" stroke-width="0.60"/><circle cx="361.03" cy="435.74" r="3.50" fill="#f5b8c3" stroke="#dc8090" stroke-width="0.60"/><circle cx="353.73" cy="431.05" r="3.50" fill="#f5b8c3" stroke="#dc8090" stroke-width="0.60"/><circle cx="348.04" cy="424.49" r="3.50" fill="#f5b8c3" stroke="#dc8090" stroke-width="0.60"/><circle cx="344.44" cy="416.59" r="3.50" fill="#f5b8c3" stroke="#dc8090" stroke-width="0.60"/><circle cx="343.20" cy="408.00" r="3.50" fill="#f5b8c3" stroke="#dc8090" stroke-width="0.60"/><circle cx="344.44" cy="399.41" r="3.50" fill="#f5b8c3" stroke="#dc8090" stroke-width="0.60"/><circle cx="348.04" cy="391.51" r="3.50" fill="#f5b8c3" stroke="#dc8090" stroke-width="0.60"/><circle cx="353.73" cy="384.95" r="3.50" fill="#f5b8c3" stroke="#dc8090" stroke-width="0.60"/><circle cx="361.03" cy="380.26" r="3.50" fill="#f5b8c3" stroke="#dc8090" stroke-width="0.60"/><circle cx="369.36" cy="377.81" r="3.50" fill="#f5b8c3" stroke="#dc8090" stroke-width="0.60"/><circle cx="378.04" cy="377.81" r="3.50" fill="#f5b8c3" stroke="#dc8090" stroke-width="0.60"/><circle cx="386.37" cy="380.26" r="3.50" fill="#f5b8c3" stroke="#dc8090" stroke-width="0.60"/><circle cx="393.67" cy="384.95" r="3.50" fill="#f5b8c3" stroke="#dc8090" stroke-width="0.60"/><circle cx="399.36" cy="391.51" r="3.50" fill="#f5b8c3" stroke="#dc8090" stroke-width="0.60"/><circle cx="402.96" cy="399.41" r="3.50" fill="#f5b8c3" stroke="#dc8090" stroke-width="0.60"/>
<circle cx="393.32" cy="411.90" r="3.10" fill="#f5b8c3" stroke="#dc8090" stroke-width="0.60"/><circle cx="390.33" cy="419.11" r="3.10" fill="#f5b8c3" stroke="#dc8090" stroke-width="0.60"/><circle cx="384.81" cy="424.63" r="3.10" fill="#f5b8c3" stroke="#dc8090" stroke-width="0.60"/><circle cx="377.60" cy="427.62" r="3.10" fill="#f5b8c3" stroke="#dc8090" stroke-width="0.60"/><circle cx="369.80" cy="427.62" r="3.10" fill="#f5b8c3" stroke="#dc8090" stroke-width="0.60"/><circle cx="362.59" cy="424.63" r="3.10" fill="#f5b8c3" stroke="#dc8090" stroke-width="0.60"/><circle cx="357.07" cy="419.11" r="3.10" fill="#f5b8c3" stroke="#dc8090" stroke-width="0.60"/><circle cx="354.08" cy="411.90" r="3.10" fill="#f5b8c3" stroke="#dc8090" stroke-width="0.60"/><circle cx="354.08" cy="404.10" r="3.10" fill="#f5b8c3" stroke="#dc8090" stroke-width="0.60"/><circle cx="357.07" cy="396.89" r="3.10" fill="#f5b8c3" stroke="#dc8090" stroke-width="0.60"/><circle cx="362.59" cy="391.37" r="3.10" fill="#f5b8c3" stroke="#dc8090" stroke-width="0.60"/><circle cx="369.80" cy="388.38" r="3.10" fill="#f5b8c3" stroke="#dc8090" stroke-width="0.60"/><circle cx="377.60" cy="388.38" r="3.10" fill="#f5b8c3" stroke="#dc8090" stroke-width="0.60"/><circle cx="384.81" cy="391.37" r="3.10" fill="#f5b8c3" stroke="#dc8090" stroke-width="0.60"/><circle cx="390.33" cy="396.89" r="3.10" fill="#f5b8c3" stroke="#dc8090" stroke-width="0.60"/><circle cx="393.32" cy="404.10" r="3.10" fill="#f5b8c3" stroke="#dc8090" stroke-width="0.60"/>
<circle cx="373.7" cy="408.0" r="14.2" fill="url(#gCore2)"/>
<path d="M348.8,379.5 l3.5,-1.2 l1.4,2 l-2.2,1.6 l-2.8,-0.6 Z" fill="#2a2a5a" transform="rotate(91 351.0 379.5)"/>
<path d="M376.5,372.2 l3.5,-1.2 l1.4,2 l-2.2,1.6 l-2.8,-0.6 Z" fill="#5a3a6a" transform="rotate(57 378.7 372.2)"/>
<path d="M351.4,390.7 l3.5,-1.2 l1.4,2 l-2.2,1.6 l-2.8,-0.6 Z" fill="#2a2a5a" transform="rotate(102 353.6 390.7)"/>
<path d="M369.3,373.0 l3.5,-1.2 l1.4,2 l-2.2,1.6 l-2.8,-0.6 Z" fill="#5a3a6a" transform="rotate(7 371.5 373.0)"/>
<path d="M398.0,406.3 l3.5,-1.2 l1.4,2 l-2.2,1.6 l-2.8,-0.6 Z" fill="#5a3a6a" transform="rotate(154 400.2 406.3)"/>
<path d="M406.9,398.1 l3.5,-1.2 l1.4,2 l-2.2,1.6 l-2.8,-0.6 Z" fill="#c24a5a" transform="rotate(20 409.1 398.1)"/>
<path d="M375.9,431.6 l3.5,-1.2 l1.4,2 l-2.2,1.6 l-2.8,-0.6 Z" fill="#a03040" transform="rotate(159 378.1 431.6)"/>
<path d="M404.4,404.9 l3.5,-1.2 l1.4,2 l-2.2,1.6 l-2.8,-0.6 Z" fill="#5a3a6a" transform="rotate(21 406.6 404.9)"/>
<path d="M383.4,387.7 l3.5,-1.2 l1.4,2 l-2.2,1.6 l-2.8,-0.6 Z" fill="#a03040" transform="rotate(45 385.6 387.7)"/>
<path d="M341.0,421.5 l3.5,-1.2 l1.4,2 l-2.2,1.6 l-2.8,-0.6 Z" fill="#a03040" transform="rotate(102 343.2 421.5)"/>
<path d="M370.5,384.6 l3.5,-1.2 l1.4,2 l-2.2,1.6 l-2.8,-0.6 Z" fill="#7a1a2a" transform="rotate(38 372.7 384.6)"/>
<path d="M341.5,388.8 l3.5,-1.2 l1.4,2 l-2.2,1.6 l-2.8,-0.6 Z" fill="#5a3a6a" transform="rotate(89 343.7 388.8)"/>
<path d="M385.7,429.1 l3.5,-1.2 l1.4,2 l-2.2,1.6 l-2.8,-0.6 Z" fill="#b08868" transform="rotate(35 387.9 429.1)"/>
<path d="M346.9,418.9 l3.5,-1.2 l1.4,2 l-2.2,1.6 l-2.8,-0.6 Z" fill="#7a1a2a" transform="rotate(64 349.1 418.9)"/>
<path d="M379.9,443.1 l3.5,-1.2 l1.4,2 l-2.2,1.6 l-2.8,-0.6 Z" fill="#c24a5a" transform="rotate(139 382.1 443.1)"/>
<path d="M339.5,425.9 l3.5,-1.2 l1.4,2 l-2.2,1.6 l-2.8,-0.6 Z" fill="#a03040" transform="rotate(169 341.7 425.9)"/>
<path d="M348.1,394.5 l3.5,-1.2 l1.4,2 l-2.2,1.6 l-2.8,-0.6 Z" fill="#b08868" transform="rotate(38 350.3 394.5)"/>
<path d="M348.7,404.6 l3.5,-1.2 l1.4,2 l-2.2,1.6 l-2.8,-0.6 Z" fill="#b08868" transform="rotate(1 350.9 404.6)"/>
<path d="M375.4,384.6 l3.5,-1.2 l1.4,2 l-2.2,1.6 l-2.8,-0.6 Z" fill="#b08868" transform="rotate(15 377.6 384.6)"/>
<path d="M359.9,430.5 l3.5,-1.2 l1.4,2 l-2.2,1.6 l-2.8,-0.6 Z" fill="#b08868" transform="rotate(14 362.1 430.5)"/>
<path d="M371.8,444.1 l3.5,-1.2 l1.4,2 l-2.2,1.6 l-2.8,-0.6 Z" fill="#b08868" transform="rotate(7 374.0 444.1)"/>
<path d="M373.2,380.9 l3.5,-1.2 l1.4,2 l-2.2,1.6 l-2.8,-0.6 Z" fill="#5a3a6a" transform="rotate(70 375.4 380.9)"/>
<path d="M347.2,415.5 l3.5,-1.2 l1.4,2 l-2.2,1.6 l-2.8,-0.6 Z" fill="#5a3a6a" transform="rotate(133 349.4 415.5)"/>
<path d="M390.9,388.9 l3.5,-1.2 l1.4,2 l-2.2,1.6 l-2.8,-0.6 Z" fill="#a03040" transform="rotate(35 393.1 388.9)"/>
<path d="M350.1,420.4 l3.5,-1.2 l1.4,2 l-2.2,1.6 l-2.8,-0.6 Z" fill="#a03040" transform="rotate(18 352.3 420.4)"/>
<path d="M377.2,431.7 l3.5,-1.2 l1.4,2 l-2.2,1.6 l-2.8,-0.6 Z" fill="#5a3a6a" transform="rotate(164 379.4 431.7)"/>
<path d="M352.0,377.1 l3.5,-1.2 l1.4,2 l-2.2,1.6 l-2.8,-0.6 Z" fill="#2a2a5a" transform="rotate(24 354.2 377.1)"/>
<path d="M351.3,423.0 l3.5,-1.2 l1.4,2 l-2.2,1.6 l-2.8,-0.6 Z" fill="#2a2a5a" transform="rotate(180 353.5 423.0)"/>
<path d="M348.5,418.6 l3.5,-1.2 l1.4,2 l-2.2,1.6 l-2.8,-0.6 Z" fill="#c24a5a" transform="rotate(81 350.7 418.6)"/>
<path d="M400.2,426.8 l3.5,-1.2 l1.4,2 l-2.2,1.6 l-2.8,-0.6 Z" fill="#a03040" transform="rotate(180 402.4 426.8)"/>
<path d="M395.8,410.8 l3.5,-1.2 l1.4,2 l-2.2,1.6 l-2.8,-0.6 Z" fill="#7a1a2a" transform="rotate(58 398.0 410.8)"/>
<path d="M394.6,403.8 l3.5,-1.2 l1.4,2 l-2.2,1.6 l-2.8,-0.6 Z" fill="#2a2a5a" transform="rotate(69 396.8 403.8)"/>
<path d="M372.8,371.6 l3.5,-1.2 l1.4,2 l-2.2,1.6 l-2.8,-0.6 Z" fill="#a03040" transform="rotate(38 375.0 371.6)"/>
<path d="M337.4,400.0 l3.5,-1.2 l1.4,2 l-2.2,1.6 l-2.8,-0.6 Z" fill="#7a1a2a" transform="rotate(71 339.6 400.0)"/>
<path d="M379.4,410.9 l3,-1 l1.5,1.5 l-2,1.5 l-3,-0.5 Z" fill="#a08060"/>
<path d="M375.2,405.3 l3,-1 l1.5,1.5 l-2,1.5 l-3,-0.5 Z" fill="#2a2a5a"/>
<path d="M365.6,401.1 l3,-1 l1.5,1.5 l-2,1.5 l-3,-0.5 Z" fill="#2a2a5a"/>
<path d="M368.6,405.5 l3,-1 l1.5,1.5 l-2,1.5 l-3,-0.5 Z" fill="#7a1a2a"/>
<path d="M375.7,403.4 l3,-1 l1.5,1.5 l-2,1.5 l-3,-0.5 Z" fill="#7a1a2a"/>
<path d="M377.5,407.8 l3,-1 l1.5,1.5 l-2,1.5 l-3,-0.5 Z" fill="#7a1a2a"/>
<path d="M370.0,406.3 l3,-1 l1.5,1.5 l-2,1.5 l-3,-0.5 Z" fill="#1e2c60"/>
<path d="M381.6,403.9 l3,-1 l1.5,1.5 l-2,1.5 l-3,-0.5 Z" fill="#7a1a2a"/>
<path d="M375.3,409.2 l3,-1 l1.5,1.5 l-2,1.5 l-3,-0.5 Z" fill="#7a1a2a"/>
<g transform="translate(601.4,374.1) rotate(-87.0) scale(1.35)" stroke="#7088c4" stroke-width="1.1" fill="none" stroke-linecap="round"><path d="M0,0 L4,0 M4,0 L7,-2.8 M4,0 L7,2.8"/></g>
<g transform="translate(580.7,380.7) rotate(-128.0) scale(1.35)" stroke="#7088c4" stroke-width="1.1" fill="none" stroke-linecap="round"><path d="M0,0 L4,0 M4,0 L7,-2.8 M4,0 L7,2.8"/></g>
<g transform="translate(628.5,416.7) rotate(22.0) scale(1.35)" stroke="#7088c4" stroke-width="1.1" fill="none" stroke-linecap="round"><path d="M0,0 L4,0 M4,0 L7,-2.8 M4,0 L7,2.8"/></g>
<g transform="translate(585.2,432.5) rotate(118.0) scale(1.35)" stroke="#7088c4" stroke-width="1.1" fill="none" stroke-linecap="round"><path d="M0,0 L4,0 M4,0 L7,-2.8 M4,0 L7,2.8"/></g>
<g transform="translate(614.4,432.5) rotate(62.0) scale(1.35)" stroke="#7088c4" stroke-width="1.1" fill="none" stroke-linecap="round"><path d="M0,0 L4,0 M4,0 L7,-2.8 M4,0 L7,2.8"/></g>
<g transform="translate(601.5,365.5)"><ellipse rx="4.2" ry="3" fill="#6a7cc0"/><path d="M-3,-1 C-1,-3 1,1 3,-1 M-3,1.2 C-1,-1 1,3 3,1" stroke="#e8eef8" stroke-width="0.8" fill="none"/></g>
<g transform="translate(635.0,413.0)"><ellipse rx="4.2" ry="3" fill="#6a7cc0"/><path d="M-3,-1 C-1,-3 1,1 3,-1 M-3,1.2 C-1,-1 1,3 3,1" stroke="#e8eef8" stroke-width="0.8" fill="none"/></g>
<g transform="translate(583.0,439.0)"><ellipse rx="4.2" ry="3" fill="#6a7cc0"/><path d="M-3,-1 C-1,-3 1,1 3,-1 M-3,1.2 C-1,-1 1,3 3,1" stroke="#e8eef8" stroke-width="0.8" fill="none"/></g>
<g transform="translate(571,394) rotate(15)"><rect x="-6" y="-4" width="12" height="8" fill="#a8c4e8" stroke="#6a88c0" stroke-width="0.6"/><path d="M-6,-1.3 H6 M-6,1.3 H6" stroke="#6a88c0" stroke-width="0.5"/></g>
<circle cx="599.8" cy="405.1" r="33" fill="#fdf2f4"/>
<path d="M626.80,405.10 L621.80,405.10" stroke="#f3c4cc" stroke-width="0.6"/>
<path d="M626.12,411.11 L621.25,410.00" stroke="#f3c4cc" stroke-width="0.6"/>
<path d="M624.13,416.81 L619.62,414.65" stroke="#f3c4cc" stroke-width="0.6"/>
<path d="M620.91,421.93 L617.00,418.82" stroke="#f3c4cc" stroke-width="0.6"/>
<path d="M616.63,426.21 L613.52,422.30" stroke="#f3c4cc" stroke-width="0.6"/>
<path d="M611.51,429.43 L609.35,424.92" stroke="#f3c4cc" stroke-width="0.6"/>
<path d="M605.81,431.42 L604.70,426.55" stroke="#f3c4cc" stroke-width="0.6"/>
<path d="M599.80,432.10 L599.80,427.10" stroke="#f3c4cc" stroke-width="0.6"/>
<path d="M593.79,431.42 L594.90,426.55" stroke="#f3c4cc" stroke-width="0.6"/>
<path d="M588.09,429.43 L590.25,424.92" stroke="#f3c4cc" stroke-width="0.6"/>
<path d="M582.97,426.21 L586.08,422.30" stroke="#f3c4cc" stroke-width="0.6"/>
<path d="M578.69,421.93 L582.60,418.82" stroke="#f3c4cc" stroke-width="0.6"/>
<path d="M575.47,416.81 L579.98,414.65" stroke="#f3c4cc" stroke-width="0.6"/>
<path d="M573.48,411.11 L578.35,410.00" stroke="#f3c4cc" stroke-width="0.6"/>
<path d="M572.80,405.10 L577.80,405.10" stroke="#f3c4cc" stroke-width="0.6"/>
<path d="M573.48,399.09 L578.35,400.20" stroke="#f3c4cc" stroke-width="0.6"/>
<path d="M575.47,393.39 L579.98,395.55" stroke="#f3c4cc" stroke-width="0.6"/>
<path d="M578.69,388.27 L582.60,391.38" stroke="#f3c4cc" stroke-width="0.6"/>
<path d="M582.97,383.99 L586.08,387.90" stroke="#f3c4cc" stroke-width="0.6"/>
<path d="M588.09,380.77 L590.25,385.28" stroke="#f3c4cc" stroke-width="0.6"/>
<path d="M593.79,378.78 L594.90,383.65" stroke="#f3c4cc" stroke-width="0.6"/>
<path d="M599.80,378.10 L599.80,383.10" stroke="#f3c4cc" stroke-width="0.6"/>
<path d="M605.81,378.78 L604.70,383.65" stroke="#f3c4cc" stroke-width="0.6"/>
<path d="M611.51,380.77 L609.35,385.28" stroke="#f3c4cc" stroke-width="0.6"/>
<path d="M616.63,383.99 L613.52,387.90" stroke="#f3c4cc" stroke-width="0.6"/>
<path d="M620.91,388.27 L617.00,391.38" stroke="#f3c4cc" stroke-width="0.6"/>
<path d="M624.13,393.39 L619.62,395.55" stroke="#f3c4cc" stroke-width="0.6"/>
<path d="M626.12,399.09 L621.25,400.20" stroke="#f3c4cc" stroke-width="0.6"/>
<circle cx="630.30" cy="405.10" r="2.75" fill="#f0909f" stroke="#d26a7a" stroke-width="0.60"/><circle cx="629.63" cy="411.44" r="2.75" fill="#f0909f" stroke="#d26a7a" stroke-width="0.60"/><circle cx="627.66" cy="417.51" r="2.75" fill="#f0909f" stroke="#d26a7a" stroke-width="0.60"/><circle cx="624.48" cy="423.03" r="2.75" fill="#f0909f" stroke="#d26a7a" stroke-width="0.60"/><circle cx="620.21" cy="427.77" r="2.75" fill="#f0909f" stroke="#d26a7a" stroke-width="0.60"/><circle cx="615.05" cy="431.51" r="2.75" fill="#f0909f" stroke="#d26a7a" stroke-width="0.60"/><circle cx="609.23" cy="434.11" r="2.75" fill="#f0909f" stroke="#d26a7a" stroke-width="0.60"/><circle cx="602.99" cy="435.43" r="2.75" fill="#f0909f" stroke="#d26a7a" stroke-width="0.60"/><circle cx="596.61" cy="435.43" r="2.75" fill="#f0909f" stroke="#d26a7a" stroke-width="0.60"/><circle cx="590.37" cy="434.11" r="2.75" fill="#f0909f" stroke="#d26a7a" stroke-width="0.60"/><circle cx="584.55" cy="431.51" r="2.75" fill="#f0909f" stroke="#d26a7a" stroke-width="0.60"/><circle cx="579.39" cy="427.77" r="2.75" fill="#f0909f" stroke="#d26a7a" stroke-width="0.60"/><circle cx="575.12" cy="423.03" r="2.75" fill="#f0909f" stroke="#d26a7a" stroke-width="0.60"/><circle cx="571.94" cy="417.51" r="2.75" fill="#f0909f" stroke="#d26a7a" stroke-width="0.60"/><circle cx="569.97" cy="411.44" r="2.75" fill="#f0909f" stroke="#d26a7a" stroke-width="0.60"/><circle cx="569.30" cy="405.10" r="2.75" fill="#f0909f" stroke="#d26a7a" stroke-width="0.60"/><circle cx="569.97" cy="398.76" r="2.75" fill="#f0909f" stroke="#d26a7a" stroke-width="0.60"/><circle cx="571.94" cy="392.69" r="2.75" fill="#f0909f" stroke="#d26a7a" stroke-width="0.60"/><circle cx="575.12" cy="387.17" r="2.75" fill="#f0909f" stroke="#d26a7a" stroke-width="0.60"/><circle cx="579.39" cy="382.43" r="2.75" fill="#f0909f" stroke="#d26a7a" stroke-width="0.60"/><circle cx="584.55" cy="378.69" r="2.75" fill="#f0909f" stroke="#d26a7a" stroke-width="0.60"/><circle cx="590.37" cy="376.09" r="2.75" fill="#f0909f" stroke="#d26a7a" stroke-width="0.60"/><circle cx="596.61" cy="374.77" r="2.75" fill="#f0909f" stroke="#d26a7a" stroke-width="0.60"/><circle cx="602.99" cy="374.77" r="2.75" fill="#f0909f" stroke="#d26a7a" stroke-width="0.60"/><circle cx="609.23" cy="376.09" r="2.75" fill="#f0909f" stroke="#d26a7a" stroke-width="0.60"/><circle cx="615.05" cy="378.69" r="2.75" fill="#f0909f" stroke="#d26a7a" stroke-width="0.60"/><circle cx="620.21" cy="382.43" r="2.75" fill="#f0909f" stroke="#d26a7a" stroke-width="0.60"/><circle cx="624.48" cy="387.17" r="2.75" fill="#f0909f" stroke="#d26a7a" stroke-width="0.60"/><circle cx="627.66" cy="392.69" r="2.75" fill="#f0909f" stroke="#d26a7a" stroke-width="0.60"/><circle cx="629.63" cy="398.76" r="2.75" fill="#f0909f" stroke="#d26a7a" stroke-width="0.60"/>
<circle cx="619.08" cy="408.01" r="2.40" fill="#f0909f" stroke="#d26a7a" stroke-width="0.60"/><circle cx="617.37" cy="413.56" r="2.40" fill="#f0909f" stroke="#d26a7a" stroke-width="0.60"/><circle cx="614.09" cy="418.36" r="2.40" fill="#f0909f" stroke="#d26a7a" stroke-width="0.60"/><circle cx="609.55" cy="421.99" r="2.40" fill="#f0909f" stroke="#d26a7a" stroke-width="0.60"/><circle cx="604.14" cy="424.11" r="2.40" fill="#f0909f" stroke="#d26a7a" stroke-width="0.60"/><circle cx="598.34" cy="424.55" r="2.40" fill="#f0909f" stroke="#d26a7a" stroke-width="0.60"/><circle cx="592.68" cy="423.25" r="2.40" fill="#f0909f" stroke="#d26a7a" stroke-width="0.60"/><circle cx="587.64" cy="420.35" r="2.40" fill="#f0909f" stroke="#d26a7a" stroke-width="0.60"/><circle cx="583.69" cy="416.08" r="2.40" fill="#f0909f" stroke="#d26a7a" stroke-width="0.60"/><circle cx="581.17" cy="410.85" r="2.40" fill="#f0909f" stroke="#d26a7a" stroke-width="0.60"/><circle cx="580.30" cy="405.10" r="2.40" fill="#f0909f" stroke="#d26a7a" stroke-width="0.60"/><circle cx="581.17" cy="399.35" r="2.40" fill="#f0909f" stroke="#d26a7a" stroke-width="0.60"/><circle cx="583.69" cy="394.12" r="2.40" fill="#f0909f" stroke="#d26a7a" stroke-width="0.60"/><circle cx="587.64" cy="389.85" r="2.40" fill="#f0909f" stroke="#d26a7a" stroke-width="0.60"/><circle cx="592.68" cy="386.95" r="2.40" fill="#f0909f" stroke="#d26a7a" stroke-width="0.60"/><circle cx="598.34" cy="385.65" r="2.40" fill="#f0909f" stroke="#d26a7a" stroke-width="0.60"/><circle cx="604.14" cy="386.09" r="2.40" fill="#f0909f" stroke="#d26a7a" stroke-width="0.60"/><circle cx="609.55" cy="388.21" r="2.40" fill="#f0909f" stroke="#d26a7a" stroke-width="0.60"/><circle cx="614.09" cy="391.84" r="2.40" fill="#f0909f" stroke="#d26a7a" stroke-width="0.60"/><circle cx="617.37" cy="396.64" r="2.40" fill="#f0909f" stroke="#d26a7a" stroke-width="0.60"/><circle cx="619.08" cy="402.19" r="2.40" fill="#f0909f" stroke="#d26a7a" stroke-width="0.60"/>
<circle cx="599.8" cy="405.1" r="13.9" fill="url(#gCore2)"/>
<g transform="translate(625.5,389.2) rotate(-27)"><rect x="-10" y="-3.8" width="20" height="7.6" fill="#dcb070" stroke="#b4844a" stroke-width="0.6"/><path d="M-10,-1.3 H10 M-10,1.3 H10" stroke="#b4844a" stroke-width="0.5"/></g>
<g transform="translate(572.8,420.2) rotate(-23)"><rect x="-10" y="-3.8" width="20" height="7.6" fill="#dcb070" stroke="#b4844a" stroke-width="0.6"/><path d="M-10,-1.3 H10 M-10,1.3 H10" stroke="#b4844a" stroke-width="0.5"/></g>
<g class="txt"><text x="114.4" y="468.6" font-size="16.65" text-anchor="middle">Enhanced accumulation</text>
<text x="359.9" y="468.3" font-size="16.74" text-anchor="middle">Toxin absorption</text>
<text x="606.1" y="468.3" font-size="17.1" text-anchor="middle">Toxin vaccine</text></g>
</svg>
</body></html>
